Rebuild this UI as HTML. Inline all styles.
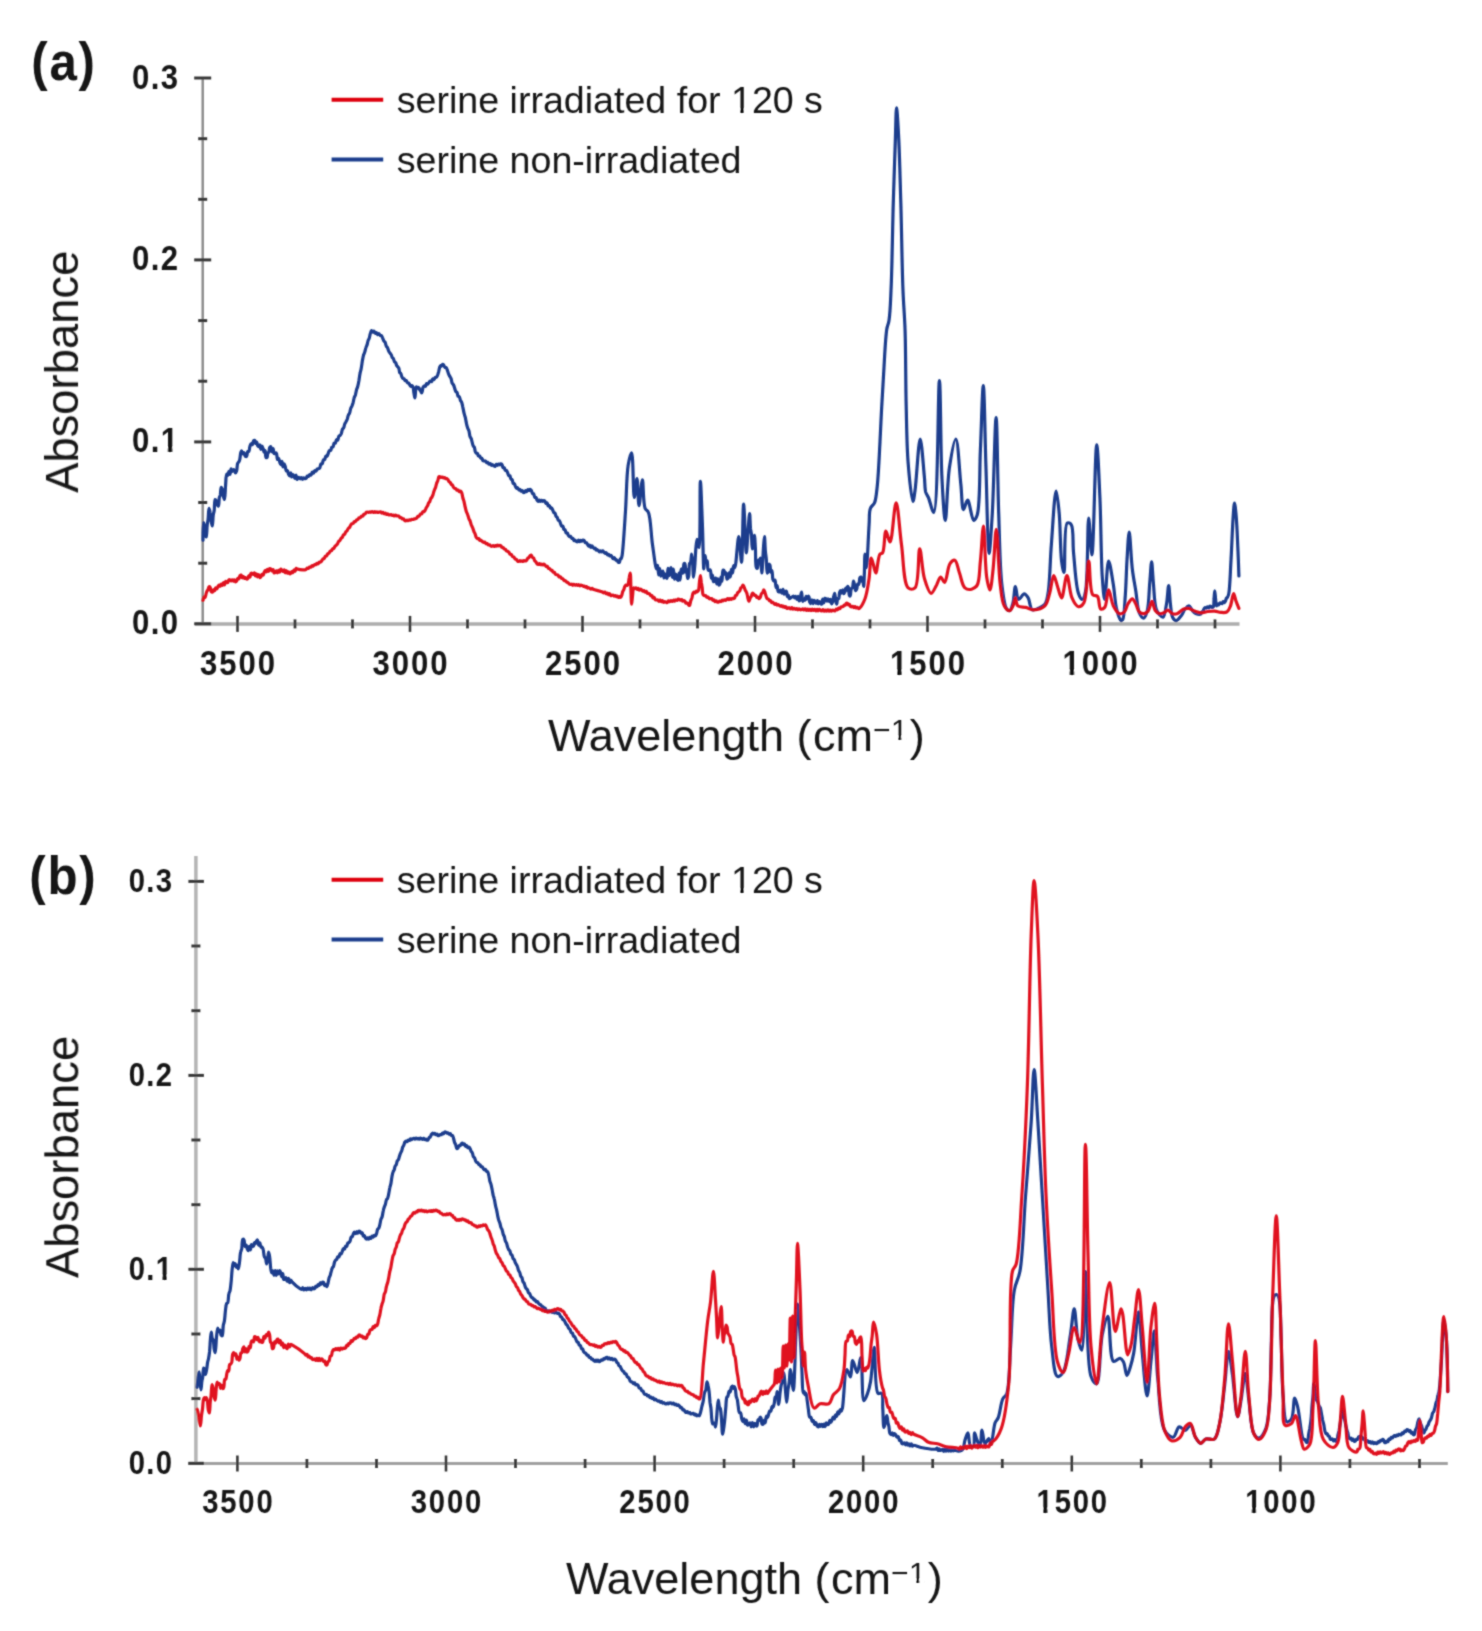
<!DOCTYPE html><html><head><meta charset="utf-8"><style>html,body{margin:0;padding:0;background:#fff;}svg{display:block}text{font-family:"Liberation Sans",sans-serif;fill:#141414}</style></head><body>
<svg width="1482" height="1631" viewBox="0 0 1482 1631">
<defs><filter id="soft" x="0" y="0" width="1482" height="1631" filterUnits="userSpaceOnUse"><feConvolveMatrix order="3" kernelMatrix="0.04 0.10 0.04 0.10 0.44 0.10 0.04 0.10 0.04" edgeMode="duplicate"/></filter></defs>
<rect width="1482" height="1631" fill="#fff"/>
<g filter="url(#soft)">
<line x1="202.7" y1="78" x2="202.7" y2="623.8" stroke="#8c8c8c" stroke-width="2.5"/>
<line x1="195" y1="623.9" x2="1239.5" y2="623.9" stroke="#adadad" stroke-width="3.5"/>
<line x1="194.2" y1="623.8" x2="211.2" y2="623.8" stroke="#383838" stroke-width="3"/>
<text transform="translate(140.63,634.30) scale(0.9,1)" font-size="34.5" font-weight="bold" text-anchor="middle">0</text><text transform="translate(155.02,634.30) scale(0.9,1)" font-size="34.5" font-weight="bold" text-anchor="middle">.</text><text transform="translate(169.41,634.30) scale(0.9,1)" font-size="34.5" font-weight="bold" text-anchor="middle">0</text>
<line x1="198.2" y1="563.2" x2="207.2" y2="563.2" stroke="#383838" stroke-width="3"/>
<line x1="198.2" y1="502.5" x2="207.2" y2="502.5" stroke="#383838" stroke-width="3"/>
<line x1="194.2" y1="441.9" x2="211.2" y2="441.9" stroke="#383838" stroke-width="3"/>
<text transform="translate(140.63,452.37) scale(0.9,1)" font-size="34.5" font-weight="bold" text-anchor="middle">0</text><text transform="translate(155.02,452.37) scale(0.9,1)" font-size="34.5" font-weight="bold" text-anchor="middle">.</text><text transform="translate(169.41,452.37) scale(0.9,1)" font-size="34.5" font-weight="bold" text-anchor="middle">1</text><rect x="160.78" y="447.54" width="6.94" height="6.55" fill="#fff"/><rect x="172.46" y="447.54" width="5.57" height="6.55" fill="#fff"/>
<line x1="198.2" y1="381.2" x2="207.2" y2="381.2" stroke="#383838" stroke-width="3"/>
<line x1="198.2" y1="320.6" x2="207.2" y2="320.6" stroke="#383838" stroke-width="3"/>
<line x1="194.2" y1="259.9" x2="211.2" y2="259.9" stroke="#383838" stroke-width="3"/>
<text transform="translate(140.63,270.44) scale(0.9,1)" font-size="34.5" font-weight="bold" text-anchor="middle">0</text><text transform="translate(155.02,270.44) scale(0.9,1)" font-size="34.5" font-weight="bold" text-anchor="middle">.</text><text transform="translate(169.41,270.44) scale(0.9,1)" font-size="34.5" font-weight="bold" text-anchor="middle">2</text>
<line x1="198.2" y1="199.3" x2="207.2" y2="199.3" stroke="#383838" stroke-width="3"/>
<line x1="198.2" y1="138.7" x2="207.2" y2="138.7" stroke="#383838" stroke-width="3"/>
<line x1="194.2" y1="78.0" x2="211.2" y2="78.0" stroke="#383838" stroke-width="3"/>
<text transform="translate(140.63,88.51) scale(0.9,1)" font-size="34.5" font-weight="bold" text-anchor="middle">0</text><text transform="translate(155.02,88.51) scale(0.9,1)" font-size="34.5" font-weight="bold" text-anchor="middle">.</text><text transform="translate(169.41,88.51) scale(0.9,1)" font-size="34.5" font-weight="bold" text-anchor="middle">3</text>
<line x1="237.5" y1="615.9" x2="237.5" y2="631.9" stroke="#383838" stroke-width="2.6"/>
<text transform="translate(208.72,675.00) scale(0.9,1)" font-size="34.5" font-weight="bold" text-anchor="middle">3</text><text transform="translate(227.91,675.00) scale(0.9,1)" font-size="34.5" font-weight="bold" text-anchor="middle">5</text><text transform="translate(247.09,675.00) scale(0.9,1)" font-size="34.5" font-weight="bold" text-anchor="middle">0</text><text transform="translate(266.28,675.00) scale(0.9,1)" font-size="34.5" font-weight="bold" text-anchor="middle">0</text>
<line x1="295.0" y1="619.4" x2="295.0" y2="628.4" stroke="#383838" stroke-width="2.8"/>
<line x1="352.5" y1="619.4" x2="352.5" y2="628.4" stroke="#383838" stroke-width="2.8"/>
<line x1="410.0" y1="615.9" x2="410.0" y2="631.9" stroke="#383838" stroke-width="2.6"/>
<text transform="translate(381.22,675.00) scale(0.9,1)" font-size="34.5" font-weight="bold" text-anchor="middle">3</text><text transform="translate(400.41,675.00) scale(0.9,1)" font-size="34.5" font-weight="bold" text-anchor="middle">0</text><text transform="translate(419.59,675.00) scale(0.9,1)" font-size="34.5" font-weight="bold" text-anchor="middle">0</text><text transform="translate(438.78,675.00) scale(0.9,1)" font-size="34.5" font-weight="bold" text-anchor="middle">0</text>
<line x1="467.5" y1="619.4" x2="467.5" y2="628.4" stroke="#383838" stroke-width="2.8"/>
<line x1="525.0" y1="619.4" x2="525.0" y2="628.4" stroke="#383838" stroke-width="2.8"/>
<line x1="582.5" y1="615.9" x2="582.5" y2="631.9" stroke="#383838" stroke-width="2.6"/>
<text transform="translate(553.72,675.00) scale(0.9,1)" font-size="34.5" font-weight="bold" text-anchor="middle">2</text><text transform="translate(572.91,675.00) scale(0.9,1)" font-size="34.5" font-weight="bold" text-anchor="middle">5</text><text transform="translate(592.09,675.00) scale(0.9,1)" font-size="34.5" font-weight="bold" text-anchor="middle">0</text><text transform="translate(611.28,675.00) scale(0.9,1)" font-size="34.5" font-weight="bold" text-anchor="middle">0</text>
<line x1="640.0" y1="619.4" x2="640.0" y2="628.4" stroke="#383838" stroke-width="2.8"/>
<line x1="697.5" y1="619.4" x2="697.5" y2="628.4" stroke="#383838" stroke-width="2.8"/>
<line x1="755.0" y1="615.9" x2="755.0" y2="631.9" stroke="#383838" stroke-width="2.6"/>
<text transform="translate(726.22,675.00) scale(0.9,1)" font-size="34.5" font-weight="bold" text-anchor="middle">2</text><text transform="translate(745.41,675.00) scale(0.9,1)" font-size="34.5" font-weight="bold" text-anchor="middle">0</text><text transform="translate(764.59,675.00) scale(0.9,1)" font-size="34.5" font-weight="bold" text-anchor="middle">0</text><text transform="translate(783.78,675.00) scale(0.9,1)" font-size="34.5" font-weight="bold" text-anchor="middle">0</text>
<line x1="812.5" y1="619.4" x2="812.5" y2="628.4" stroke="#383838" stroke-width="2.8"/>
<line x1="870.0" y1="619.4" x2="870.0" y2="628.4" stroke="#383838" stroke-width="2.8"/>
<line x1="927.5" y1="615.9" x2="927.5" y2="631.9" stroke="#383838" stroke-width="2.6"/>
<text transform="translate(898.72,675.00) scale(0.9,1)" font-size="34.5" font-weight="bold" text-anchor="middle">1</text><rect x="890.09" y="670.17" width="6.94" height="6.55" fill="#fff"/><rect x="901.77" y="670.17" width="5.57" height="6.55" fill="#fff"/><text transform="translate(917.91,675.00) scale(0.9,1)" font-size="34.5" font-weight="bold" text-anchor="middle">5</text><text transform="translate(937.09,675.00) scale(0.9,1)" font-size="34.5" font-weight="bold" text-anchor="middle">0</text><text transform="translate(956.28,675.00) scale(0.9,1)" font-size="34.5" font-weight="bold" text-anchor="middle">0</text>
<line x1="985.0" y1="619.4" x2="985.0" y2="628.4" stroke="#383838" stroke-width="2.8"/>
<line x1="1042.5" y1="619.4" x2="1042.5" y2="628.4" stroke="#383838" stroke-width="2.8"/>
<line x1="1100.0" y1="615.9" x2="1100.0" y2="631.9" stroke="#383838" stroke-width="2.6"/>
<text transform="translate(1071.22,675.00) scale(0.9,1)" font-size="34.5" font-weight="bold" text-anchor="middle">1</text><rect x="1062.59" y="670.17" width="6.94" height="6.55" fill="#fff"/><rect x="1074.27" y="670.17" width="5.57" height="6.55" fill="#fff"/><text transform="translate(1090.41,675.00) scale(0.9,1)" font-size="34.5" font-weight="bold" text-anchor="middle">0</text><text transform="translate(1109.59,675.00) scale(0.9,1)" font-size="34.5" font-weight="bold" text-anchor="middle">0</text><text transform="translate(1128.78,675.00) scale(0.9,1)" font-size="34.5" font-weight="bold" text-anchor="middle">0</text>
<line x1="1157.5" y1="619.4" x2="1157.5" y2="628.4" stroke="#383838" stroke-width="2.8"/>
<line x1="1215.0" y1="619.4" x2="1215.0" y2="628.4" stroke="#383838" stroke-width="2.8"/>
<text transform="translate(39.52,79.50) scale(0.93,1)" font-size="53" font-weight="bold" text-anchor="middle">(</text><text transform="translate(63.08,79.50) scale(0.93,1)" font-size="53" font-weight="bold" text-anchor="middle">a</text><text transform="translate(86.64,79.50) scale(0.93,1)" font-size="53" font-weight="bold" text-anchor="middle">)</text>
<text transform="translate(78,371.8) rotate(-90)" font-size="45.4" text-anchor="middle">Absorbance</text>
<text x="548" y="750.9" font-size="45">Wavelength (<tspan dx="1.5">cm</tspan><tspan font-size="30" dx="0" dy="-11">−</tspan><tspan font-size="30" dx="0.5">1</tspan><tspan dx="2" dy="11">)</tspan></text>
<line x1="331.6" y1="99.8" x2="383.2" y2="99.8" stroke="#de0411" stroke-width="4"/>
<line x1="331.6" y1="159.5" x2="383.2" y2="159.5" stroke="#1b3d8d" stroke-width="4"/>
<text x="396.8" y="113.39999999999999" font-size="37.6">serine irradiated for 120 s</text>
<text x="396.8" y="173.1" font-size="37.6">serine non-irradiated</text>
<rect x="732.47" y="108.89" width="7.55" height="6.02" fill="#fff"/><rect x="743.92" y="108.89" width="6.98" height="6.02" fill="#fff"/>
<rect x="892.18" y="736.30" width="5.95" height="4.80" fill="#fff"/><rect x="901.38" y="736.30" width="5.50" height="4.80" fill="#fff"/>
<path d="M203.0,540.3 C203.0,540.3 203.0,522.7 203.5,522.6 C203.7,522.6 204.2,524.8 204.4,526.3 C204.8,528.5 204.9,532.5 205.4,534.5 C205.6,535.6 206.0,537.0 206.3,537.0 C206.8,536.9 206.8,528.6 207.2,525.3 C207.5,522.9 207.8,521.5 208.1,519.2 C208.5,516.1 208.5,508.3 209.0,508.3 C209.3,508.3 209.8,510.8 210.1,512.5 C210.6,515.0 210.7,519.2 211.2,521.7 C211.5,523.4 212.0,526.0 212.3,526.0 C212.8,526.0 212.8,518.1 213.2,515.2 C213.5,513.3 213.9,512.4 214.2,510.5 C214.6,507.6 214.3,499.8 215.1,499.5 C215.4,499.4 215.9,500.1 216.2,500.7 C216.7,501.6 216.8,503.9 217.3,504.8 C217.6,505.4 218.1,506.2 218.4,506.1 C219.1,505.9 218.9,499.6 219.3,497.6 C219.6,496.5 220.0,496.2 220.3,495.1 C220.7,493.3 220.6,487.4 221.2,487.3 C221.5,487.2 222.0,488.4 222.3,489.3 C222.9,490.8 222.9,494.4 223.4,496.3 C223.7,497.6 224.2,499.5 224.5,499.5 C225.1,499.4 225.2,489.7 225.6,485.2 C225.9,481.3 225.9,474.3 226.7,474.1 C227.0,474.0 227.5,475.5 227.8,475.4 C228.3,475.3 228.5,471.4 228.9,471.4 C229.2,471.4 229.7,474.3 230.0,474.3 C230.4,474.3 230.6,468.9 231.1,468.8 C231.4,468.8 231.8,471.3 232.2,471.4 C232.5,471.4 232.9,469.8 233.3,469.7 C233.6,469.6 234.1,470.0 234.4,470.4 C234.9,471.0 235.1,473.0 235.5,473.0 C235.8,473.0 236.3,472.0 236.6,471.1 C237.2,469.3 237.0,464.7 237.7,463.2 C238.0,462.5 238.5,462.4 238.8,461.9 C239.2,461.3 239.5,460.7 239.7,459.7 C240.2,458.2 240.2,454.9 240.7,453.3 C240.9,452.3 241.3,450.9 241.6,450.9 C242.0,450.9 242.3,453.7 242.8,453.8 C243.2,453.9 243.7,452.6 244.1,452.7 C244.6,452.9 244.7,455.8 245.3,456.3 C245.7,456.5 246.3,456.6 246.6,456.4 C247.3,455.9 247.1,452.0 247.7,451.5 C248.0,451.3 248.5,451.7 248.8,451.5 C249.5,450.9 249.4,447.9 249.9,446.5 C250.3,445.4 250.6,443.8 251.1,443.7 C251.5,443.6 252.0,444.8 252.4,444.7 C252.9,444.5 252.9,441.3 253.6,440.7 C253.9,440.4 254.5,440.2 254.8,440.4 C255.3,440.7 255.4,443.5 255.8,443.5 C256.1,443.6 256.5,442.1 256.8,442.1 C257.2,442.2 257.2,445.2 257.7,445.9 C258.0,446.3 258.4,446.6 258.7,446.5 C259.1,446.4 259.5,444.8 259.8,444.8 C260.3,444.9 260.5,449.4 260.9,449.4 C261.2,449.4 261.6,446.2 262.0,446.2 C262.3,446.2 262.8,447.8 263.1,448.7 C263.5,449.7 263.7,452.0 264.1,452.1 C264.4,452.1 264.8,450.6 265.1,450.6 C265.6,450.7 265.3,457.0 266.0,457.6 C266.3,457.8 266.7,457.7 267.0,457.5 C267.6,457.0 267.4,454.0 267.9,453.1 C268.2,452.7 268.5,452.8 268.8,452.3 C269.3,451.4 269.2,448.5 269.7,447.6 C270.0,447.1 270.5,446.5 270.8,446.7 C271.4,446.9 271.5,451.8 271.9,451.8 C272.3,451.8 272.7,448.5 273.1,448.5 C273.5,448.5 273.5,453.2 274.2,453.6 C274.5,453.7 274.9,453.2 275.3,453.1 C275.7,453.0 276.1,452.8 276.4,453.1 C277.1,453.7 276.9,459.3 277.5,459.5 C277.8,459.6 278.3,458.3 278.6,458.3 C279.1,458.4 279.3,460.8 279.7,461.9 C280.0,462.9 280.4,464.6 280.8,464.6 C281.2,464.6 281.6,461.4 281.9,461.4 C282.3,461.4 282.6,466.8 283.0,466.9 C283.3,466.9 283.7,463.8 284.1,463.8 C284.5,463.8 284.9,465.4 285.2,466.4 C285.6,467.7 285.7,470.4 286.3,470.8 C286.6,471.0 287.1,470.4 287.4,470.6 C288.0,470.9 288.1,473.2 288.5,474.1 C288.8,474.8 289.3,475.8 289.6,475.8 C290.0,475.8 290.4,472.8 290.7,472.8 C291.1,472.8 291.4,476.9 291.8,477.0 C292.1,477.0 292.5,474.7 292.9,474.7 C293.2,474.7 293.7,475.7 294.0,476.3 C294.4,477.0 294.7,478.5 295.0,478.5 C295.4,478.5 295.7,475.1 296.0,475.1 C296.4,475.1 296.6,479.5 297.0,479.5 C297.3,479.6 297.6,478.3 298.0,478.0 C298.3,477.7 298.8,477.4 299.1,477.5 C299.5,477.6 299.9,478.8 300.3,478.8 C300.6,478.8 301.0,477.6 301.4,477.6 C301.8,477.6 302.1,479.2 302.5,479.3 C302.9,479.3 303.3,477.9 303.7,477.8 C304.0,477.8 304.4,478.5 304.8,478.6 C305.2,478.7 305.7,478.7 306.0,478.4 C306.6,478.1 306.8,476.2 307.3,476.0 C307.7,475.9 308.2,476.5 308.5,476.4 C309.0,476.2 309.3,474.7 309.8,474.6 C310.2,474.5 310.7,475.3 311.0,475.1 C311.6,474.9 311.8,472.2 312.3,472.1 C312.6,472.0 313.1,473.3 313.5,473.2 C314.0,473.2 314.2,471.0 314.8,470.7 C315.1,470.6 315.6,471.3 316.0,471.1 C316.5,470.9 316.7,469.2 317.3,468.9 C317.6,468.6 318.1,468.9 318.5,468.8 C318.9,468.7 319.4,468.5 319.7,468.0 C320.3,467.2 320.3,464.4 320.9,463.9 C321.3,463.6 321.8,464.0 322.2,463.8 C322.8,463.3 322.8,460.4 323.4,459.9 C323.7,459.5 324.3,459.9 324.6,459.6 C325.2,459.1 325.3,456.6 325.9,456.2 C326.2,456.0 326.7,456.5 327.1,456.2 C327.7,455.8 327.9,454.1 328.3,453.1 C328.7,452.2 329.0,450.8 329.5,450.5 C329.8,450.2 330.3,450.6 330.7,450.4 C331.2,449.9 331.3,447.7 331.8,447.2 C332.2,446.9 332.7,447.2 333.0,446.9 C333.6,446.3 333.6,443.6 334.2,443.1 C334.5,442.9 335.0,443.2 335.4,443.0 C335.9,442.5 336.0,440.0 336.6,439.7 C336.9,439.6 337.4,440.3 337.7,440.1 C338.3,439.7 338.3,436.9 338.9,436.1 C339.3,435.7 339.7,435.8 340.1,435.5 C340.6,435.1 340.9,434.4 341.3,433.6 C341.8,432.4 341.9,430.1 342.5,429.1 C342.8,428.6 343.3,428.5 343.6,428.0 C344.2,427.0 344.3,424.9 344.8,423.8 C345.2,423.0 345.6,422.5 346.0,421.8 C346.4,421.0 346.8,420.2 347.2,419.3 C347.6,418.1 347.9,416.2 348.4,415.1 C348.7,414.4 349.2,414.1 349.5,413.3 C350.1,412.1 350.2,409.8 350.7,408.5 C351.1,407.6 351.5,407.0 351.9,406.1 C352.3,405.1 352.7,403.9 353.1,402.7 C353.5,401.1 353.8,399.0 354.2,397.6 C354.6,396.6 355.0,396.0 355.4,395.0 C355.8,393.6 356.1,391.4 356.5,389.8 C356.9,388.6 357.3,387.8 357.7,386.5 C358.2,384.9 358.5,382.8 358.9,380.8 C359.3,378.5 359.6,375.5 360.1,373.2 C360.4,371.4 360.9,370.2 361.2,368.4 C361.7,366.1 362.0,363.0 362.4,360.6 C362.8,358.6 363.1,356.6 363.6,355.1 C363.9,354.0 364.4,353.3 364.7,352.2 C365.2,350.9 365.4,349.0 365.9,347.7 C366.2,346.7 366.6,346.1 367.0,345.1 C367.4,343.8 367.7,341.9 368.1,340.6 C368.4,339.7 368.9,339.3 369.2,338.3 C369.7,337.0 369.9,334.6 370.4,333.2 C370.7,332.2 371.1,330.7 371.5,330.6 C371.9,330.5 372.3,332.1 372.7,332.1 C373.1,332.1 373.6,330.9 373.9,331.0 C374.4,331.0 374.7,333.2 375.2,333.3 C375.5,333.4 376.0,332.4 376.4,332.5 C376.9,332.6 377.2,334.5 377.6,334.6 C378.0,334.6 378.5,333.4 378.9,333.5 C379.3,333.5 379.6,335.0 380.1,335.3 C380.4,335.5 380.9,335.2 381.3,335.5 C381.8,335.9 382.2,336.8 382.5,337.7 C383.0,338.6 383.3,340.1 383.8,340.9 C384.2,341.5 384.7,341.6 385.0,342.2 C385.6,343.1 385.8,345.1 386.3,346.1 C386.6,346.8 387.1,347.0 387.5,347.7 C388.0,348.6 388.3,350.4 388.8,351.3 C389.1,352.1 389.6,352.6 390.0,353.1 C390.4,353.6 390.8,353.9 391.1,354.5 C391.6,355.3 391.8,356.7 392.2,357.4 C392.6,357.9 393.0,358.0 393.3,358.6 C393.8,359.3 394.0,361.0 394.5,361.7 C394.8,362.1 395.3,362.1 395.6,362.5 C396.1,363.1 396.2,364.7 396.7,365.5 C397.0,366.1 397.4,366.4 397.8,366.9 C398.1,367.3 398.5,367.5 398.8,368.1 C399.3,369.1 399.2,372.0 399.8,372.8 C400.1,373.2 400.5,373.0 400.8,373.4 C401.3,374.0 401.4,375.8 401.8,376.7 C402.1,377.4 402.5,378.2 402.9,378.5 C403.2,378.7 403.7,378.4 404.0,378.6 C404.5,378.9 404.7,380.4 405.1,380.6 C405.5,380.8 405.9,380.4 406.3,380.5 C406.7,380.8 406.9,382.4 407.4,382.7 C407.7,383.0 408.2,382.8 408.5,383.0 C408.9,383.2 409.2,384.0 409.6,384.5 C410.0,385.1 410.3,386.2 410.7,386.3 C411.1,386.3 411.5,385.4 411.9,385.5 C412.3,385.6 412.7,386.3 413.0,387.0 C413.5,388.3 413.6,391.1 413.9,393.0 C414.3,394.7 414.6,398.0 414.9,398.0 C415.2,398.0 415.3,393.7 415.5,391.8 C415.8,390.1 415.8,387.1 416.2,387.0 C416.4,386.9 416.8,388.2 417.1,388.2 C417.4,388.2 417.7,387.3 418.1,387.3 C418.4,387.3 418.7,387.7 419.0,388.0 C419.4,388.5 419.5,389.5 419.9,390.0 C420.1,390.4 420.5,390.5 420.7,390.9 C421.1,391.4 421.3,393.0 421.6,393.0 C421.9,393.0 422.1,391.8 422.3,391.1 C422.6,390.1 422.6,388.4 423.0,387.5 C423.3,386.9 423.7,386.2 424.2,386.0 C424.6,385.9 425.1,386.4 425.4,386.3 C425.9,386.0 426.1,383.9 426.6,383.6 C426.9,383.5 427.4,384.2 427.8,384.1 C428.3,384.0 428.6,382.9 429.0,382.4 C429.4,381.9 429.8,381.1 430.2,381.0 C430.6,381.0 431.1,381.8 431.5,381.7 C432.0,381.5 432.2,379.1 432.7,378.9 C433.1,378.8 433.6,379.7 433.9,379.6 C434.4,379.5 434.7,378.0 435.2,377.6 C435.5,377.3 436.0,377.5 436.4,377.2 C436.9,376.8 437.2,376.1 437.5,375.4 C437.9,374.4 438.2,373.2 438.6,372.0 C439.0,370.5 439.3,368.1 439.8,367.0 C440.1,366.3 440.3,365.6 440.7,365.6 C440.9,365.5 441.3,366.1 441.5,366.1 C441.9,366.0 442.0,364.6 442.4,364.5 C442.7,364.4 443.3,364.6 443.6,364.9 C444.1,365.4 444.3,366.9 444.9,367.3 C445.2,367.5 445.7,367.2 446.1,367.5 C446.6,367.9 447.0,369.1 447.3,370.1 C447.8,371.2 448.1,372.8 448.6,374.0 C448.9,374.9 449.4,375.6 449.8,376.4 C450.2,377.1 450.7,377.6 451.0,378.4 C451.5,379.7 451.7,382.2 452.2,383.3 C452.6,384.0 453.1,384.2 453.5,384.9 C454.0,385.8 454.3,387.2 454.7,388.4 C455.1,389.5 455.3,390.9 455.9,391.6 C456.2,392.0 456.7,392.0 457.0,392.4 C457.5,393.2 457.6,395.6 458.1,396.3 C458.5,396.6 459.0,396.4 459.3,396.8 C459.9,397.4 460.0,399.5 460.5,400.5 C460.8,401.2 461.3,401.5 461.6,402.2 C462.1,403.4 462.4,405.3 462.8,407.1 C463.3,409.0 463.6,411.5 464.1,413.3 C464.4,414.8 464.9,415.9 465.3,417.4 C465.7,419.3 466.1,421.8 466.5,423.7 C466.9,425.3 467.2,426.7 467.7,428.0 C468.0,429.0 468.5,429.6 468.9,430.7 C469.4,432.2 469.5,435.0 470.0,436.4 C470.4,437.4 470.9,437.8 471.2,438.7 C471.7,439.9 472.0,441.9 472.4,443.3 C472.7,444.4 473.0,445.5 473.4,446.2 C473.7,446.7 474.1,446.8 474.4,447.3 C474.8,448.2 474.9,450.6 475.3,451.6 C475.6,452.3 475.9,452.8 476.3,453.1 C476.6,453.3 477.1,453.1 477.4,453.4 C477.9,453.9 478.0,455.7 478.5,456.0 C478.8,456.2 479.3,455.7 479.6,455.9 C480.1,456.2 480.3,457.9 480.8,458.2 C481.1,458.4 481.6,458.0 481.9,458.3 C482.4,458.6 482.5,460.2 483.0,460.7 C483.3,460.9 483.7,460.9 484.1,461.0 C484.5,461.1 485.0,460.8 485.3,461.0 C485.8,461.2 486.1,462.5 486.6,462.7 C486.9,462.8 487.4,462.3 487.8,462.4 C488.3,462.6 488.5,464.1 489.0,464.2 C489.4,464.3 489.9,463.4 490.2,463.5 C490.7,463.6 491.0,465.2 491.4,465.3 C491.8,465.4 492.3,464.7 492.7,464.7 C493.1,464.8 493.5,465.6 493.9,465.9 C494.3,466.2 494.7,466.6 495.0,466.5 C495.5,466.3 495.8,464.4 496.2,464.3 C496.5,464.2 497.0,465.3 497.4,465.3 C497.7,465.2 498.1,464.1 498.5,464.1 C498.9,464.0 499.3,464.8 499.6,464.8 C500.0,464.8 500.4,464.0 500.8,463.9 C501.2,463.9 501.6,464.0 501.9,464.4 C502.5,465.0 502.5,467.3 503.1,467.7 C503.4,467.9 503.9,467.5 504.2,467.7 C504.7,468.1 504.8,469.9 505.3,470.3 C505.7,470.5 506.1,470.2 506.5,470.4 C507.0,470.8 507.2,471.9 507.6,472.7 C508.0,473.6 508.2,475.2 508.7,475.6 C509.0,475.8 509.5,475.4 509.9,475.7 C510.4,476.2 510.4,478.6 511.0,479.2 C511.3,479.5 511.8,479.3 512.1,479.7 C512.7,480.3 512.7,482.7 513.2,483.4 C513.6,483.7 514.0,483.5 514.4,483.9 C514.9,484.4 515.1,485.7 515.5,486.5 C515.9,487.2 516.2,488.2 516.6,488.3 C516.9,488.4 517.4,487.6 517.7,487.7 C518.2,487.8 518.4,489.7 518.8,489.9 C519.2,490.0 519.6,489.4 520.0,489.5 C520.4,489.6 520.6,491.1 521.1,491.2 C521.4,491.3 521.9,490.5 522.2,490.6 C522.6,490.7 522.8,492.2 523.3,492.4 C523.6,492.6 524.1,492.6 524.4,492.4 C524.9,492.1 525.2,490.6 525.6,490.6 C526.0,490.5 526.4,491.7 526.8,491.6 C527.2,491.6 527.5,489.6 527.9,489.5 C528.2,489.4 528.7,490.5 529.1,490.5 C529.4,490.5 529.8,489.4 530.2,489.4 C530.6,489.4 531.0,490.1 531.4,490.6 C531.8,491.4 532.0,493.1 532.5,493.5 C532.8,493.8 533.3,493.6 533.7,493.9 C534.2,494.4 534.2,496.9 534.8,497.3 C535.1,497.6 535.6,497.2 536.0,497.4 C536.5,497.8 536.6,499.5 537.1,500.2 C537.4,500.7 537.8,501.3 538.2,501.3 C538.6,501.3 539.0,500.0 539.3,500.0 C539.7,500.1 540.1,501.3 540.4,501.3 C540.8,501.4 541.2,500.4 541.6,500.4 C541.9,500.3 542.3,501.3 542.7,501.3 C543.0,501.3 543.4,500.7 543.8,500.7 C544.2,500.6 544.6,500.9 544.9,501.2 C545.4,501.6 545.6,503.2 546.0,503.4 C546.3,503.5 546.8,502.7 547.1,502.9 C547.6,503.1 547.7,505.6 548.2,505.9 C548.6,506.0 549.0,505.5 549.4,505.7 C549.9,505.9 550.0,508.0 550.5,508.2 C550.8,508.4 551.3,507.8 551.6,507.9 C552.1,508.1 552.3,509.3 552.7,510.0 C553.1,510.8 553.3,512.0 553.8,512.6 C554.2,512.9 554.6,512.8 555.0,513.2 C555.5,513.8 555.6,515.6 556.1,516.4 C556.4,516.9 556.9,516.9 557.2,517.4 C557.7,518.1 557.8,519.8 558.3,520.3 C558.7,520.6 559.1,520.5 559.5,520.8 C560.0,521.3 560.2,522.8 560.6,523.7 C561.0,524.5 561.2,525.8 561.7,526.1 C562.0,526.3 562.5,525.9 562.8,526.1 C563.4,526.5 563.4,528.8 563.9,529.4 C564.3,529.8 564.7,529.6 565.1,529.9 C565.6,530.5 565.6,532.6 566.2,533.0 C566.5,533.2 567.0,532.7 567.3,532.9 C567.8,533.2 568.0,534.8 568.4,535.5 C568.7,536.0 569.1,536.6 569.5,536.7 C569.9,536.8 570.3,536.3 570.7,536.4 C571.1,536.6 571.3,538.2 571.8,538.4 C572.1,538.6 572.6,538.2 572.9,538.4 C573.4,538.7 573.6,540.5 574.0,540.6 C574.4,540.8 574.8,540.1 575.2,540.2 C575.6,540.3 575.9,541.1 576.3,541.4 C576.6,541.6 577.1,541.9 577.4,541.8 C577.8,541.6 578.2,540.1 578.5,540.1 C578.9,540.1 579.3,541.6 579.6,541.6 C580.0,541.6 580.4,540.4 580.8,540.4 C581.1,540.4 581.5,541.2 581.9,541.1 C582.3,541.1 582.6,540.1 583.0,540.0 C583.3,540.0 583.8,540.1 584.1,540.4 C584.6,540.8 584.8,542.3 585.3,542.7 C585.6,542.9 586.1,542.6 586.5,542.8 C587.0,543.2 587.3,544.1 587.7,544.7 C588.1,545.2 588.4,546.1 588.8,546.2 C589.1,546.2 589.5,545.1 589.9,545.2 C590.3,545.3 590.5,547.3 590.9,547.3 C591.3,547.3 591.7,545.9 592.0,545.9 C592.4,545.9 592.7,546.9 593.1,547.4 C593.5,547.8 593.8,548.5 594.2,548.6 C594.5,548.7 594.9,548.1 595.3,548.2 C595.7,548.4 595.9,549.9 596.3,550.1 C596.7,550.2 597.1,549.6 597.4,549.7 C597.8,549.8 598.1,550.4 598.5,550.8 C598.9,551.2 599.2,551.8 599.6,551.8 C599.9,551.8 600.3,550.9 600.7,550.9 C601.0,551.0 601.4,551.9 601.7,551.9 C602.1,551.9 602.5,550.8 602.8,550.9 C603.2,550.9 603.5,551.7 603.9,552.1 C604.3,552.5 604.6,553.3 605.1,553.3 C605.4,553.4 605.9,552.6 606.2,552.7 C606.7,552.9 606.9,554.6 607.4,554.8 C607.7,554.9 608.2,554.2 608.5,554.3 C609.0,554.4 609.3,555.8 609.7,555.9 C610.0,556.0 610.5,555.2 610.8,555.3 C611.3,555.4 611.6,556.3 612.0,556.9 C612.4,557.5 612.8,558.7 613.2,558.8 C613.6,558.8 614.1,557.7 614.5,557.7 C614.9,557.8 615.2,559.7 615.7,560.0 C616.1,560.2 616.6,559.8 616.9,560.0 C617.4,560.3 617.7,561.8 618.2,562.2 C618.5,562.4 619.1,562.5 619.4,562.3 C619.9,561.9 619.9,559.7 620.3,559.0 C620.6,558.7 620.9,558.8 621.2,558.5 C621.6,557.9 621.8,557.1 622.1,555.5 C623.2,549.4 624.5,526.0 625.5,511.0 C626.5,495.8 626.5,475.4 628.2,465.1 C629.1,459.7 630.7,452.8 631.6,452.9 C633.3,453.1 633.1,497.5 634.3,497.5 C635.1,497.5 636.3,478.6 637.0,478.6 C637.9,478.6 638.1,505.6 639.0,505.6 C639.9,505.6 641.4,479.9 642.4,479.9 C643.4,479.9 643.0,503.3 645.1,508.3 C646.0,510.4 647.5,510.1 648.4,512.3 C650.8,517.8 651.0,534.7 652.5,544.7 C653.8,553.4 655.5,568.9 656.5,569.0 C656.9,569.0 657.3,565.4 657.6,565.4 C658.1,565.5 658.3,574.9 658.7,574.9 C659.0,574.9 659.4,568.5 659.7,568.5 C660.1,568.6 660.3,576.0 660.8,576.1 C661.1,576.1 661.5,573.9 661.9,573.0 C662.2,572.3 662.6,571.0 662.9,571.0 C663.4,571.1 663.6,577.8 664.0,577.9 C664.3,577.9 664.6,573.9 665.0,573.9 C665.3,573.9 665.6,576.3 666.0,577.1 C666.3,577.6 666.7,578.4 667.0,578.4 C667.7,578.1 667.6,568.3 668.0,568.3 C668.3,568.3 668.6,575.6 669.0,575.6 C669.3,575.6 669.6,571.9 670.0,570.4 C670.3,569.3 670.8,567.4 671.1,567.5 C671.7,567.5 671.9,577.3 672.3,577.3 C672.6,577.3 673.0,569.1 673.4,569.1 C673.8,569.1 674.1,579.0 674.5,579.1 C674.9,579.1 675.3,574.1 675.7,574.0 C676.0,574.0 676.3,577.2 676.8,578.4 C677.1,579.2 677.6,580.5 677.9,580.4 C678.4,580.3 678.6,573.2 679.0,573.2 C679.3,573.2 679.7,580.1 680.0,580.1 C680.5,580.1 680.6,569.0 681.1,569.0 C681.4,568.9 681.6,572.6 682.2,573.0 C682.5,573.2 682.8,573.1 683.1,572.9 C683.9,572.0 683.2,564.4 684.0,563.6 C684.3,563.4 684.6,563.4 684.9,563.6 C685.7,564.3 685.4,572.4 685.8,572.4 C686.1,572.4 686.4,569.4 686.7,569.5 C687.1,569.5 687.1,578.3 687.6,578.4 C687.9,578.5 688.3,577.4 688.6,576.4 C689.3,574.0 688.8,565.5 689.6,563.5 C689.9,562.8 690.3,562.9 690.6,562.2 C691.2,560.8 691.3,554.2 691.6,554.2 C691.9,554.2 692.3,559.6 692.6,562.9 C693.0,567.0 693.2,577.1 693.6,577.1 C693.9,577.1 694.4,570.7 694.7,566.7 C695.2,561.4 695.4,553.0 695.9,548.0 C696.2,544.5 696.6,539.3 697.0,539.3 C697.3,539.3 697.5,544.1 698.0,545.5 C698.3,546.4 698.7,547.5 699.0,547.4 C700.6,547.0 699.7,481.3 700.4,481.3 C700.9,481.3 701.8,510.0 702.4,524.5 C703.0,539.2 703.3,569.0 703.8,569.0 C704.0,569.0 704.2,563.1 704.5,560.7 C704.6,558.7 704.8,555.5 705.1,555.5 C705.4,555.5 705.6,562.1 706.1,562.3 C706.4,562.3 706.9,560.7 707.2,560.8 C707.8,561.0 707.3,569.2 708.2,570.1 C708.5,570.5 708.9,570.4 709.2,570.4 C709.6,570.4 710.0,569.7 710.3,569.9 C711.1,570.3 710.9,578.3 711.4,578.3 C711.7,578.4 712.1,575.0 712.4,575.0 C712.9,575.1 712.8,581.3 713.5,581.7 C713.8,581.8 714.3,581.5 714.6,581.1 C715.1,580.5 715.4,578.1 715.7,578.2 C716.1,578.2 716.4,583.8 716.8,583.8 C717.1,583.8 717.5,578.8 717.8,578.9 C718.2,578.9 718.3,585.0 718.9,585.1 C719.2,585.2 719.7,584.5 720.0,583.8 C720.6,582.5 720.6,577.1 721.0,577.0 C721.3,577.0 721.7,581.1 722.0,581.1 C722.5,581.0 722.1,570.9 723.0,570.2 C723.3,570.0 723.7,570.1 724.0,570.4 C724.6,570.9 724.6,574.6 725.0,574.6 C725.3,574.7 725.7,572.7 726.0,572.7 C726.5,572.8 726.4,578.9 727.0,579.1 C727.3,579.3 727.7,578.8 728.0,578.4 C728.6,577.4 728.7,572.8 729.1,572.8 C729.5,572.8 729.9,577.0 730.3,577.0 C730.7,577.0 730.9,569.4 731.4,569.3 C731.7,569.3 732.2,573.1 732.5,573.0 C733.0,573.0 733.1,565.8 733.7,565.7 C734.0,565.7 734.4,567.8 734.8,567.7 C736.2,567.4 737.6,536.6 738.8,536.6 C739.8,536.6 740.8,562.3 741.5,562.3 C742.6,562.3 742.8,504.2 743.6,504.2 C744.4,504.2 745.5,552.8 746.3,552.8 C746.7,552.8 747.1,545.3 747.4,541.1 C747.8,536.1 748.1,529.7 748.5,524.8 C748.8,520.7 749.3,513.7 749.6,513.7 C750.0,513.7 750.1,524.9 750.5,528.7 C750.8,530.9 751.1,531.8 751.4,534.0 C751.8,537.7 751.7,548.7 752.3,548.8 C752.6,548.8 753.1,546.8 753.3,545.3 C753.8,542.9 754.1,535.3 754.4,535.3 C754.8,535.3 755.1,543.6 755.4,548.4 C755.8,554.2 755.2,565.8 756.4,567.7 C756.7,568.2 757.1,568.4 757.4,568.2 C758.1,567.9 757.9,560.2 758.4,560.2 C758.7,560.1 759.1,562.2 759.4,562.2 C759.8,562.2 760.1,558.2 760.4,558.2 C760.7,558.2 760.9,561.4 761.1,563.4 C761.4,566.1 761.5,573.0 761.8,573.0 C762.1,573.0 762.4,566.4 762.7,562.5 C763.0,557.6 763.2,550.6 763.6,545.9 C763.9,542.3 764.2,536.6 764.5,536.6 C764.8,536.6 765.0,547.3 765.4,551.5 C765.7,554.4 766.0,556.2 766.3,559.1 C766.7,563.0 766.5,572.8 767.2,573.0 C767.4,573.1 767.9,572.4 768.1,571.7 C768.6,570.3 768.4,564.5 769.0,564.2 C769.2,564.2 769.6,564.5 769.9,565.0 C770.5,566.1 770.3,572.0 770.9,572.1 C771.2,572.2 771.6,570.5 771.9,570.6 C772.5,570.7 772.3,577.8 772.9,579.5 C773.2,580.3 773.5,581.1 773.9,581.1 C774.2,581.1 774.7,580.0 775.0,580.1 C775.7,580.3 775.5,587.6 776.1,587.7 C776.4,587.7 776.8,585.4 777.1,585.5 C777.6,585.5 777.5,591.0 778.2,591.7 C778.5,592.0 779.0,592.0 779.3,591.9 C779.8,591.7 780.1,590.1 780.5,590.1 C781.0,590.2 781.4,593.2 781.7,593.2 C782.2,593.2 782.6,589.3 783.0,589.3 C783.4,589.3 783.7,594.1 784.2,594.2 C784.5,594.2 785.0,592.5 785.4,592.0 C785.7,591.6 786.1,591.1 786.4,591.2 C787.0,591.4 786.9,596.6 787.4,596.7 C787.7,596.8 788.1,595.0 788.4,595.0 C788.8,595.0 788.7,598.4 789.4,598.7 C790.2,599.0 792.6,595.8 793.5,596.0 C794.1,596.1 794.2,597.8 794.6,597.8 C795.0,597.8 795.4,596.2 795.7,596.3 C796.2,596.3 796.5,599.3 796.9,599.3 C797.2,599.3 797.6,596.4 798.0,596.4 C798.4,596.5 798.5,600.7 799.1,600.9 C799.4,601.0 799.9,600.5 800.2,600.0 C800.8,599.0 800.6,595.9 800.9,594.5 C801.1,593.5 801.4,592.0 801.6,592.0 C801.9,592.0 802.0,596.8 802.2,598.6 C802.4,599.7 802.6,601.4 802.9,601.4 C803.2,601.4 803.6,599.1 804.0,599.1 C804.3,599.0 804.8,600.2 805.1,600.1 C805.6,600.0 805.7,596.5 806.1,596.4 C806.5,596.4 806.9,598.8 807.2,598.8 C807.6,598.8 807.9,596.0 808.3,596.0 C808.5,596.0 808.8,596.6 809.0,597.1 C809.4,598.2 809.2,601.0 809.7,602.1 C810.0,602.8 810.5,603.6 810.8,603.5 C811.2,603.5 811.5,599.8 811.9,599.8 C812.2,599.8 812.6,603.7 812.9,603.7 C813.3,603.7 813.5,600.4 814.0,600.3 C814.3,600.2 814.8,600.9 815.1,601.4 C815.5,602.0 815.8,603.5 816.2,603.5 C816.6,603.5 816.9,600.5 817.3,600.5 C817.6,600.6 818.0,603.8 818.3,603.8 C818.7,603.9 819.0,601.5 819.4,601.5 C819.8,601.4 820.1,602.9 820.5,603.4 C820.8,603.8 821.3,604.4 821.6,604.2 C822.2,604.0 822.3,599.2 822.7,599.2 C823.0,599.2 823.4,603.0 823.7,602.9 C824.1,602.9 824.2,598.7 824.8,598.3 C825.1,598.2 825.6,598.4 825.9,598.7 C826.4,599.1 826.6,601.2 827.0,601.2 C827.4,601.2 827.8,598.9 828.1,598.9 C828.5,598.9 828.9,601.4 829.2,601.4 C829.6,601.4 830.0,599.2 830.4,599.3 C830.8,599.3 831.0,603.8 831.5,603.8 C831.8,603.9 832.3,602.9 832.6,602.1 C833.1,600.8 833.2,598.2 833.7,596.6 C834.0,595.3 834.4,593.3 834.7,593.3 C835.1,593.3 835.3,598.8 835.7,600.8 C836.0,602.2 836.4,604.1 836.7,604.1 C837.1,604.1 837.1,598.8 837.7,598.4 C838.0,598.2 838.4,598.9 838.7,598.7 C839.4,598.3 839.1,593.3 839.7,592.0 C840.0,591.3 840.4,590.6 840.7,590.6 C841.1,590.6 841.4,593.2 841.7,593.2 C842.1,593.2 842.4,589.8 842.8,589.8 C843.1,589.8 843.3,593.6 843.8,593.7 C844.1,593.7 844.5,592.7 844.8,592.0 C845.2,591.0 845.3,588.1 845.7,588.1 C846.0,588.1 846.3,590.2 846.6,590.2 C846.9,590.1 847.1,586.6 847.5,586.5 C847.8,586.4 848.2,586.9 848.4,587.4 C849.0,588.7 848.7,593.9 849.3,595.2 C849.5,595.7 849.9,596.1 850.2,596.0 C850.8,595.8 850.6,589.7 851.3,588.6 C851.6,588.1 852.1,588.3 852.4,587.9 C853.1,586.8 853.1,581.1 853.5,581.1 C853.8,581.1 854.2,583.3 854.5,584.7 C855.0,586.4 855.0,590.5 855.6,590.6 C855.9,590.7 856.4,589.9 856.7,589.2 C857.2,588.0 857.1,584.4 857.8,584.0 C858.1,583.8 858.5,584.5 858.8,584.3 C859.6,583.8 859.2,578.7 859.9,577.7 C860.2,577.3 860.7,577.0 861.0,577.1 C861.5,577.3 861.4,580.7 861.9,581.2 C862.1,581.4 862.6,581.1 862.8,581.4 C863.4,582.0 863.5,586.5 863.7,586.5 C864.1,586.5 864.1,577.4 864.4,572.4 C864.6,566.7 864.6,554.2 865.0,554.2 C865.3,554.2 865.9,567.7 866.4,567.7 C867.3,567.7 868.3,535.4 869.1,524.5 C869.6,517.8 868.9,512.1 870.4,508.3 C871.3,505.8 873.4,505.4 874.5,502.9 C876.1,499.1 876.4,493.4 877.2,486.7 C878.4,475.8 879.2,456.9 879.9,443.5 C880.5,431.8 880.9,421.9 881.5,410.7 C882.1,398.9 882.8,387.0 883.6,374.2 C884.5,360.0 885.3,338.2 886.8,329.1 C887.5,325.1 888.4,324.3 889.0,320.5 C890.2,313.2 890.5,301.6 891.1,288.3 C892.1,266.6 892.5,229.0 893.3,202.4 C894.0,179.4 894.8,155.4 895.4,138.0 C895.8,126.1 896.0,107.9 896.5,107.9 C897.1,107.9 898.1,126.1 898.7,138.0 C899.6,155.4 900.1,179.4 900.8,202.4 C901.6,229.0 902.0,264.6 902.9,288.3 C903.5,305.1 904.6,314.9 905.1,331.2 C905.8,352.8 905.6,383.0 906.2,406.4 C906.7,426.8 906.8,446.6 908.2,463.7 C909.3,477.6 911.5,501.5 912.9,501.5 C913.6,501.5 914.3,495.7 915.0,490.7 C916.6,479.9 918.5,439.0 920.2,439.0 C921.6,439.0 923.4,467.4 924.4,477.2 C925.0,483.3 924.7,488.4 925.7,492.1 C926.4,494.4 927.4,495.2 928.4,497.5 C930.0,501.2 932.3,512.5 933.8,512.3 C938.1,511.6 938.0,380.6 939.4,380.6 C940.6,380.6 940.6,451.4 941.9,477.2 C942.8,494.5 944.1,520.4 945.3,520.4 C946.6,520.4 947.2,482.6 949.4,467.8 C951.1,456.7 954.0,438.9 955.8,439.0 C958.0,439.1 959.4,471.1 960.8,484.0 C961.9,493.7 961.8,509.3 963.5,509.6 C964.6,509.8 966.2,500.1 967.6,500.2 C969.6,500.3 971.6,520.1 973.7,520.4 C974.9,520.6 976.2,518.0 977.2,515.0 C980.3,505.4 979.4,471.4 980.4,449.7 C981.4,428.2 982.4,385.5 983.3,385.5 C984.3,385.5 985.0,438.3 985.9,465.6 C986.9,494.2 987.7,553.3 989.1,553.3 C990.0,553.3 991.3,529.6 992.3,513.4 C993.8,488.3 995.0,417.5 996.1,417.5 C997.2,417.5 997.6,483.8 998.7,513.4 C999.6,539.0 999.8,567.7 1001.9,585.1 C1003.1,595.3 1004.3,605.8 1006.7,609.0 C1007.6,610.2 1008.9,610.9 1009.8,610.6 C1011.2,610.1 1012.1,605.9 1013.0,602.7 C1014.2,598.4 1014.4,586.7 1015.4,586.7 C1016.3,586.7 1016.8,599.0 1018.6,599.5 C1020.0,599.9 1022.5,593.9 1024.2,593.9 C1025.6,593.9 1027.0,596.0 1028.2,597.9 C1029.9,600.7 1029.9,608.6 1032.2,609.8 C1033.8,610.7 1036.5,609.1 1038.5,608.2 C1040.7,607.3 1043.3,606.4 1044.9,604.3 C1046.9,601.7 1047.2,598.2 1048.1,593.1 C1049.9,582.8 1050.0,561.7 1051.3,545.3 C1052.7,527.8 1054.5,491.1 1056.1,491.1 C1057.1,491.1 1058.4,504.5 1059.2,513.4 C1060.4,526.3 1060.2,550.8 1061.6,561.2 C1062.3,566.3 1063.3,572.5 1064.0,572.4 C1065.5,572.3 1063.5,525.4 1067.2,523.0 C1068.3,522.3 1070.2,523.2 1071.2,524.6 C1073.9,528.3 1072.5,543.0 1073.6,553.3 C1074.8,565.5 1075.8,585.7 1078.4,593.1 C1079.5,596.3 1081.1,599.6 1082.3,599.5 C1083.5,599.4 1084.6,595.6 1085.5,591.5 C1088.1,579.5 1087.4,518.2 1088.7,518.2 C1089.6,518.2 1090.9,554.9 1091.9,554.9 C1093.7,554.9 1095.1,444.9 1096.7,444.9 C1097.8,444.9 1099.0,478.1 1099.9,497.5 C1101.0,521.3 1101.0,558.8 1102.3,577.2 C1103.0,586.9 1103.8,599.5 1104.7,599.5 C1105.9,599.5 1106.9,561.3 1108.6,561.2 C1109.9,561.1 1112.1,577.1 1113.4,585.1 C1114.7,593.0 1115.0,602.6 1116.6,609.0 C1117.8,613.6 1119.6,619.9 1121.0,620.5 C1121.5,620.7 1122.1,620.4 1122.6,619.8 C1124.4,617.4 1124.6,604.2 1125.3,595.3 C1126.1,584.7 1126.3,571.2 1127.0,560.2 C1127.6,550.3 1128.4,532.1 1129.2,532.1 C1130.1,532.1 1131.0,558.3 1132.3,569.0 C1133.3,577.3 1134.6,583.6 1135.8,590.9 C1137.0,598.2 1137.2,608.2 1139.3,612.8 C1140.5,615.4 1142.4,618.2 1143.7,618.1 C1145.1,617.9 1146.3,614.3 1147.2,611.1 C1149.0,604.8 1149.0,590.9 1149.8,582.1 C1150.5,574.8 1151.0,561.9 1151.6,561.9 C1152.2,561.9 1152.6,574.9 1153.3,582.1 C1154.1,590.3 1154.2,602.8 1156.0,608.4 C1156.9,611.3 1158.2,613.1 1159.5,614.6 C1160.6,615.8 1162.0,617.5 1163.0,617.2 C1164.7,616.6 1165.6,608.8 1166.5,604.0 C1167.6,598.4 1168.0,585.6 1168.7,585.6 C1169.3,585.6 1169.7,598.4 1170.4,604.0 C1171.0,608.8 1171.1,614.3 1172.6,617.2 C1173.5,618.9 1174.8,620.7 1176.1,620.7 C1177.7,620.7 1179.9,617.3 1181.4,615.4 C1182.8,613.5 1183.5,611.0 1184.9,609.3 C1186.1,607.9 1187.6,605.7 1188.9,605.8 C1190.3,606.0 1191.4,609.7 1192.8,611.1 C1193.9,612.2 1195.0,613.2 1196.3,613.7 C1197.6,614.2 1199.8,614.6 1200.7,614.1 C1201.4,613.7 1201.3,612.3 1201.8,611.9 C1202.1,611.6 1202.6,611.8 1202.9,611.5 C1203.4,611.0 1203.6,609.4 1204.0,608.7 C1204.3,608.2 1204.7,607.6 1205.1,607.5 C1205.5,607.4 1205.9,608.2 1206.3,608.2 C1206.8,608.1 1207.1,606.8 1207.5,606.8 C1207.9,606.8 1208.4,608.1 1208.8,608.0 C1209.2,608.0 1209.5,606.1 1210.0,606.0 C1210.3,605.9 1210.8,606.5 1211.2,606.7 C1211.6,606.9 1211.9,607.5 1212.3,607.5 C1212.7,607.5 1213.1,607.2 1213.4,606.7 C1214.1,605.4 1213.8,601.0 1214.1,598.3 C1214.3,595.7 1214.5,590.9 1214.7,590.9 C1215.0,590.9 1215.3,596.7 1215.6,599.3 C1215.9,601.6 1216.0,605.7 1216.5,605.8 C1216.8,605.9 1217.2,604.3 1217.6,604.2 C1217.9,604.1 1218.4,605.0 1218.7,604.9 C1219.1,604.8 1219.3,603.2 1219.8,603.0 C1220.1,602.8 1220.5,603.1 1220.9,603.2 C1221.3,603.3 1221.7,603.8 1222.0,603.6 C1222.5,603.5 1222.7,601.6 1223.1,601.5 C1223.4,601.5 1223.8,602.7 1224.2,602.7 C1224.6,602.6 1225.0,602.0 1225.3,601.4 C1225.8,600.6 1226.0,598.9 1226.5,598.1 C1226.8,597.6 1227.3,597.6 1227.6,597.1 C1228.2,596.3 1228.4,595.3 1228.8,593.5 C1229.9,588.0 1230.3,572.1 1231.0,560.2 C1231.8,546.6 1232.4,526.6 1233.2,516.3 C1233.6,510.6 1234.0,503.2 1234.5,503.2 C1235.0,503.2 1235.7,510.9 1236.2,516.3 C1237.0,525.2 1237.5,540.7 1238.0,551.4 C1238.4,560.3 1238.9,576.0 1238.9,576.0" fill="none" stroke="#1b3d8d" stroke-width="3.2" stroke-linejoin="round" stroke-linecap="round"/>
<path d="M203.0,600.5 C203.0,600.5 203.5,597.0 204.0,596.9 C204.3,596.8 204.7,597.7 205.0,597.6 C205.5,597.4 205.7,595.1 206.0,594.0 C206.3,592.9 206.6,591.7 207.0,591.0 C207.3,590.4 207.7,590.3 208.0,589.7 C208.4,589.0 208.5,586.9 209.0,586.7 C209.3,586.6 209.8,586.8 210.1,587.2 C210.7,587.9 210.6,590.9 211.2,591.6 C211.5,592.0 212.0,592.3 212.3,592.2 C212.8,592.1 213.0,590.0 213.4,589.9 C213.8,589.8 214.2,590.9 214.5,590.8 C215.0,590.7 215.2,587.9 215.7,587.8 C216.0,587.7 216.4,589.0 216.8,588.9 C217.2,588.8 217.5,587.4 217.9,586.7 C218.3,586.1 218.6,585.1 219.0,585.1 C219.4,585.0 219.8,586.3 220.1,586.3 C220.5,586.2 220.8,584.2 221.2,584.1 C221.5,584.1 222.0,585.5 222.3,585.4 C222.7,585.3 223.0,582.7 223.4,582.7 C223.8,582.7 224.2,584.9 224.5,584.9 C224.9,584.9 225.1,581.5 225.6,581.4 C225.9,581.3 226.3,582.1 226.7,582.3 C227.0,582.5 227.5,582.7 227.8,582.6 C228.3,582.3 228.4,580.1 228.9,579.8 C229.2,579.6 229.7,579.8 230.0,580.0 C230.4,580.2 230.7,581.0 231.1,581.0 C231.5,581.0 231.8,579.8 232.2,579.8 C232.6,579.8 232.9,581.1 233.3,581.1 C233.7,581.1 234.1,579.7 234.4,579.8 C234.8,579.8 235.1,581.6 235.5,581.8 C235.8,581.8 236.3,581.5 236.6,581.1 C237.1,580.5 237.2,578.6 237.7,578.4 C238.1,578.2 238.5,579.0 238.9,578.8 C239.4,578.6 239.5,576.2 240.0,575.6 C240.3,575.3 240.8,575.0 241.1,575.1 C241.6,575.3 241.8,577.7 242.2,577.8 C242.5,577.9 243.0,576.5 243.3,576.5 C243.7,576.6 244.0,578.3 244.4,578.4 C244.7,578.5 245.2,577.5 245.5,577.6 C245.9,577.6 246.2,578.9 246.6,579.0 C246.9,579.1 247.4,578.9 247.7,578.5 C248.2,578.0 248.4,575.8 248.8,575.7 C249.1,575.7 249.6,577.2 249.9,577.1 C250.4,577.0 250.4,573.7 251.0,573.3 C251.3,573.1 251.8,573.2 252.1,573.4 C252.5,573.6 252.9,574.5 253.2,574.5 C253.6,574.5 254.0,572.8 254.3,572.8 C254.7,572.9 255.0,575.9 255.4,575.9 C255.7,576.0 256.2,573.8 256.5,573.8 C256.9,573.8 257.2,576.9 257.6,576.9 C257.9,576.9 258.4,574.6 258.7,574.6 C259.1,574.6 259.3,577.5 259.8,577.6 C260.1,577.7 260.6,577.1 260.9,576.7 C261.3,576.1 261.6,574.5 262.0,574.4 C262.3,574.3 262.8,575.3 263.1,575.2 C263.6,575.1 263.8,573.2 264.2,572.3 C264.5,571.6 264.9,570.3 265.3,570.3 C265.7,570.3 266.1,571.9 266.4,571.9 C266.8,571.8 267.1,569.4 267.5,569.4 C267.8,569.4 268.3,571.3 268.6,571.3 C269.0,571.3 269.2,568.8 269.7,568.6 C270.0,568.4 270.5,568.7 270.8,569.0 C271.2,569.4 271.5,570.8 271.9,570.9 C272.3,570.9 272.7,569.6 273.1,569.6 C273.5,569.7 273.7,572.7 274.2,572.9 C274.5,573.0 275.0,572.6 275.3,572.3 C275.7,572.0 276.1,570.9 276.4,570.9 C276.8,571.0 277.2,572.9 277.5,572.9 C277.9,572.9 278.2,570.4 278.6,570.3 C278.9,570.3 279.4,572.3 279.7,572.2 C280.1,572.2 280.3,569.2 280.8,569.1 C281.1,569.0 281.5,569.7 281.9,570.1 C282.3,570.5 282.6,571.5 283.0,571.5 C283.4,571.5 283.8,569.8 284.1,569.8 C284.5,569.9 284.8,572.7 285.2,572.8 C285.5,572.8 285.9,570.5 286.3,570.5 C286.7,570.5 287.0,573.1 287.4,573.2 C287.7,573.2 288.2,571.8 288.5,571.8 C288.9,571.9 289.2,573.7 289.6,573.8 C289.9,573.9 290.4,573.7 290.7,573.4 C291.1,573.0 291.4,571.5 291.8,571.5 C292.1,571.4 292.6,572.7 292.9,572.6 C293.3,572.5 293.6,569.8 294.0,569.8 C294.3,569.7 294.8,571.3 295.1,571.3 C295.5,571.2 295.7,568.5 296.2,568.3 C296.5,568.2 296.7,568.8 297.3,569.0 C298.7,569.5 303.4,569.9 304.8,569.8 C305.4,569.8 305.6,569.8 306.0,569.5 C306.5,569.2 306.8,568.1 307.2,568.0 C307.6,567.9 308.1,568.6 308.4,568.5 C308.9,568.4 309.2,567.2 309.6,567.0 C310.0,566.9 310.5,567.3 310.8,567.2 C311.3,567.0 311.6,565.9 312.0,565.7 C312.4,565.6 312.9,566.2 313.3,566.0 C313.7,565.9 314.0,564.9 314.5,564.7 C314.8,564.5 315.3,564.8 315.7,564.7 C316.1,564.5 316.4,563.5 316.9,563.4 C317.3,563.3 317.7,563.9 318.1,563.8 C318.5,563.6 318.8,562.4 319.3,562.1 C319.7,561.9 320.1,562.2 320.5,562.0 C320.9,561.8 321.3,561.4 321.7,561.0 C322.2,560.4 322.4,559.3 322.9,558.9 C323.3,558.6 323.8,558.9 324.1,558.6 C324.6,558.2 324.8,556.7 325.3,556.3 C325.7,556.0 326.2,556.2 326.5,555.9 C327.0,555.5 327.3,554.2 327.7,553.8 C328.1,553.5 328.6,553.6 329.0,553.2 C329.4,552.8 329.7,551.7 330.2,551.3 C330.5,550.9 331.0,551.1 331.4,550.8 C331.8,550.4 332.1,549.2 332.6,548.9 C332.9,548.6 333.4,548.7 333.8,548.4 C334.3,548.0 334.5,546.9 335.0,546.3 C335.4,545.9 335.8,545.7 336.2,545.3 C336.6,544.9 337.0,544.6 337.4,544.1 C337.9,543.4 338.1,542.0 338.6,541.4 C339.0,541.0 339.5,541.0 339.8,540.6 C340.3,540.1 340.6,538.9 341.0,538.4 C341.4,538.0 341.9,538.0 342.2,537.5 C342.7,537.0 342.9,535.5 343.4,535.0 C343.8,534.5 344.3,534.6 344.7,534.2 C345.1,533.6 345.4,532.4 345.9,531.8 C346.2,531.3 346.7,531.2 347.1,530.7 C347.5,530.1 347.8,529.0 348.3,528.4 C348.6,528.0 349.1,527.9 349.5,527.5 C350.0,526.9 350.2,525.8 350.7,525.1 C351.1,524.6 351.4,524.0 351.9,523.7 C352.3,523.5 352.7,523.6 353.1,523.4 C353.6,523.1 353.8,522.0 354.3,521.7 C354.7,521.5 355.1,521.7 355.5,521.5 C356.0,521.2 356.2,520.2 356.7,519.9 C357.1,519.6 357.5,519.8 357.9,519.5 C358.4,519.2 358.6,518.0 359.1,517.8 C359.5,517.6 359.9,517.9 360.3,517.7 C360.8,517.4 361.0,516.5 361.5,516.2 C361.9,516.0 362.3,516.3 362.7,516.1 C363.2,515.8 363.4,514.7 363.9,514.3 C364.3,514.1 364.7,514.3 365.1,514.0 C365.6,513.7 365.8,512.6 366.3,512.3 C366.7,512.1 367.1,512.0 367.5,512.0 C367.9,512.0 368.3,512.3 368.7,512.3 C369.1,512.2 369.5,511.8 369.9,511.8 C370.3,511.8 370.7,512.4 371.0,512.3 C371.4,512.3 371.8,511.5 372.2,511.6 C372.6,511.6 373.0,512.5 373.4,512.5 C373.8,512.5 374.2,511.8 374.6,511.7 C375.0,511.7 375.4,512.3 375.8,512.3 C376.2,512.3 376.5,511.8 376.9,511.8 C377.3,511.8 377.7,512.4 378.1,512.4 C378.5,512.4 378.9,512.1 379.3,512.0 C379.7,511.9 380.1,511.7 380.5,511.8 C380.9,512.0 381.3,513.1 381.7,513.1 C382.1,513.2 382.5,512.3 382.9,512.4 C383.3,512.5 383.6,513.7 384.1,513.8 C384.4,513.9 384.9,513.0 385.2,513.1 C385.7,513.1 386.0,514.3 386.4,514.4 C386.8,514.5 387.2,513.8 387.6,513.9 C388.0,513.9 388.4,514.7 388.8,514.9 C389.2,515.0 389.6,515.0 390.0,514.9 C390.4,514.8 390.8,514.5 391.1,514.6 C391.5,514.7 391.8,515.5 392.2,515.5 C392.6,515.6 393.0,515.0 393.3,515.1 C393.7,515.1 394.1,515.9 394.5,515.9 C394.8,515.9 395.2,515.0 395.6,515.1 C395.9,515.1 396.3,515.9 396.7,516.0 C397.0,516.1 397.4,515.9 397.8,515.9 C398.2,515.9 398.6,515.9 398.9,516.2 C399.4,516.4 399.6,517.5 400.1,517.7 C400.4,517.8 400.8,517.4 401.2,517.6 C401.6,517.8 401.9,518.8 402.3,519.0 C402.7,519.1 403.1,518.7 403.4,518.8 C403.9,519.0 404.1,520.1 404.6,520.4 C404.9,520.7 405.3,520.8 405.7,520.8 C406.1,520.8 406.5,520.1 406.9,520.1 C407.3,520.1 407.8,520.7 408.1,520.7 C408.6,520.6 409.0,519.9 409.4,519.8 C409.8,519.8 410.2,520.3 410.6,520.2 C411.0,520.2 411.4,519.4 411.8,519.3 C412.2,519.2 412.7,519.6 413.1,519.5 C413.5,519.5 413.9,518.9 414.3,518.8 C414.7,518.7 415.1,518.9 415.5,518.8 C415.9,518.7 416.3,518.3 416.7,518.0 C417.2,517.5 417.5,516.7 417.9,516.4 C418.3,516.1 418.8,516.2 419.2,516.0 C419.7,515.6 419.9,514.3 420.4,514.0 C420.8,513.8 421.3,514.1 421.6,513.9 C422.1,513.6 422.3,511.9 422.9,511.6 C423.2,511.4 423.7,511.9 424.1,511.7 C424.6,511.5 424.9,510.6 425.3,510.0 C425.7,509.3 426.0,508.2 426.4,507.5 C426.8,506.9 427.2,506.5 427.5,505.9 C428.0,505.1 428.2,503.8 428.6,503.0 C429.0,502.4 429.4,502.1 429.8,501.5 C430.2,500.6 430.4,499.1 430.9,498.3 C431.2,497.8 431.7,497.6 432.0,497.1 C432.4,496.3 432.7,495.3 433.1,494.3 C433.5,493.1 433.8,491.5 434.3,490.3 C434.6,489.3 435.1,488.6 435.5,487.6 C435.9,486.3 436.2,484.6 436.6,483.4 C437.0,482.3 437.5,481.6 437.8,480.6 C438.3,479.5 438.4,477.1 439.0,476.7 C439.3,476.5 439.8,476.6 440.1,476.8 C440.5,476.9 440.9,477.4 441.3,477.5 C441.6,477.5 442.0,477.1 442.4,477.1 C442.8,477.2 443.1,478.0 443.5,478.0 C443.9,478.1 444.3,477.5 444.6,477.6 C445.0,477.6 445.4,478.5 445.8,478.6 C446.1,478.8 446.6,478.5 446.9,478.6 C447.3,478.8 447.7,479.3 448.0,479.8 C448.4,480.3 448.7,481.2 449.1,481.7 C449.5,482.1 449.9,482.1 450.2,482.5 C450.7,483.0 450.9,484.0 451.4,484.5 C451.7,484.8 452.1,484.8 452.5,485.2 C452.9,485.7 453.2,486.8 453.6,487.4 C453.9,487.8 454.3,488.2 454.7,488.4 C455.1,488.6 455.5,488.5 455.9,488.7 C456.3,489.0 456.6,490.0 457.0,490.2 C457.3,490.3 457.8,490.0 458.1,490.1 C458.6,490.3 458.9,491.5 459.3,491.6 C459.7,491.7 460.1,491.1 460.5,491.1 C460.9,491.2 461.3,491.8 461.6,492.4 C462.2,493.5 462.4,496.1 462.8,497.8 C463.2,499.2 463.7,500.4 464.1,501.8 C464.5,503.5 464.8,505.7 465.3,507.5 C465.7,509.1 466.0,510.7 466.5,512.0 C466.9,513.0 467.3,513.7 467.7,514.8 C468.2,515.9 468.5,517.5 468.9,518.6 C469.3,519.6 469.8,520.2 470.2,521.2 C470.6,522.4 470.9,524.0 471.4,525.2 C471.8,526.1 472.2,526.7 472.6,527.7 C473.1,528.8 473.4,530.3 473.9,531.4 C474.2,532.3 474.7,532.9 475.1,533.8 C475.5,534.9 475.8,536.7 476.3,537.5 C476.6,538.0 477.0,538.5 477.5,538.6 C477.8,538.8 478.3,538.5 478.7,538.6 C479.1,538.9 479.4,540.2 479.8,540.4 C480.2,540.6 480.7,540.1 481.0,540.2 C481.5,540.3 481.8,541.0 482.2,541.4 C482.6,541.7 483.0,542.2 483.4,542.3 C483.8,542.4 484.3,541.9 484.6,542.0 C485.1,542.2 485.4,543.4 485.9,543.6 C486.2,543.8 486.7,543.5 487.1,543.6 C487.6,543.8 487.9,544.8 488.3,544.9 C488.7,545.1 489.2,544.7 489.6,544.8 C490.0,545.0 490.3,545.8 490.8,546.0 C491.2,546.2 491.6,546.4 492.0,546.3 C492.4,546.2 492.7,545.6 493.1,545.6 C493.5,545.6 493.9,546.5 494.2,546.5 C494.6,546.5 495.0,545.7 495.3,545.7 C495.7,545.6 496.1,546.2 496.5,546.1 C496.8,546.1 497.2,545.2 497.6,545.2 C497.9,545.2 498.3,545.8 498.7,545.8 C499.1,545.9 499.4,545.3 499.8,545.3 C500.2,545.3 500.6,545.6 500.9,545.9 C501.3,546.2 501.6,547.2 502.0,547.4 C502.4,547.6 502.8,547.4 503.1,547.6 C503.6,547.8 503.8,548.7 504.3,549.0 C504.6,549.2 505.0,548.9 505.4,549.2 C505.8,549.5 506.0,550.6 506.5,550.9 C506.8,551.2 507.2,551.0 507.6,551.2 C508.0,551.4 508.5,551.8 508.8,552.2 C509.3,552.7 509.6,553.8 510.1,554.2 C510.4,554.4 510.9,554.3 511.3,554.6 C511.8,555.0 512.1,556.1 512.5,556.5 C512.9,556.8 513.4,556.7 513.8,557.0 C514.3,557.4 514.5,558.6 515.0,558.9 C515.4,559.2 515.9,559.0 516.3,559.3 C516.7,559.6 517.0,560.7 517.5,561.0 C517.8,561.3 518.3,561.4 518.6,561.4 C519.0,561.3 519.4,560.8 519.7,560.7 C520.1,560.7 520.5,561.3 520.8,561.3 C521.2,561.3 521.6,560.7 522.0,560.8 C522.3,560.8 522.7,561.6 523.1,561.5 C523.5,561.5 523.8,560.6 524.2,560.5 C524.5,560.5 524.9,561.0 525.3,561.0 C525.7,561.0 526.1,560.7 526.5,560.4 C527.0,559.9 527.2,558.6 527.7,558.2 C528.0,557.8 528.5,558.0 528.8,557.7 C529.3,557.3 529.6,556.3 530.0,555.8 C530.4,555.5 530.9,555.0 531.2,555.1 C531.7,555.2 531.9,556.9 532.4,557.4 C532.7,557.8 533.2,557.7 533.6,558.1 C534.1,558.7 534.3,560.1 534.7,560.8 C535.1,561.3 535.6,561.4 535.9,561.8 C536.4,562.3 536.6,563.5 537.1,563.9 C537.4,564.2 537.9,564.5 538.2,564.4 C538.6,564.4 539.0,563.6 539.3,563.7 C539.7,563.7 540.1,564.6 540.4,564.6 C540.8,564.7 541.2,564.0 541.6,564.1 C541.9,564.1 542.3,565.0 542.7,565.0 C543.0,565.0 543.4,564.2 543.8,564.2 C544.2,564.2 544.5,564.6 544.9,564.9 C545.3,565.3 545.6,566.2 546.1,566.4 C546.4,566.6 546.9,566.1 547.3,566.3 C547.8,566.5 547.9,568.1 548.4,568.4 C548.8,568.6 549.3,568.3 549.6,568.5 C550.1,568.8 550.3,569.8 550.8,570.1 C551.2,570.3 551.6,570.1 552.0,570.4 C552.4,570.7 552.7,571.8 553.2,572.1 C553.5,572.3 554.0,572.1 554.3,572.4 C554.8,572.7 555.1,573.8 555.5,574.2 C555.9,574.5 556.3,574.6 556.7,574.7 C557.1,574.8 557.6,574.8 557.9,575.0 C558.4,575.4 558.7,576.7 559.2,576.9 C559.6,577.1 560.1,576.7 560.4,576.8 C560.9,577.1 561.2,578.2 561.7,578.5 C562.1,578.8 562.6,578.5 562.9,578.8 C563.4,579.1 563.7,580.4 564.2,580.6 C564.5,580.8 565.0,580.5 565.4,580.7 C565.9,580.9 566.2,581.9 566.7,582.2 C567.0,582.4 567.5,582.3 567.9,582.5 C568.4,582.8 568.7,583.5 569.2,583.9 C569.5,584.2 570.0,584.5 570.4,584.5 C570.8,584.5 571.2,584.0 571.6,584.0 C572.0,584.1 572.4,585.3 572.8,585.3 C573.1,585.3 573.5,584.4 573.9,584.3 C574.3,584.3 574.7,585.1 575.1,585.2 C575.5,585.2 575.9,584.6 576.3,584.7 C576.7,584.7 577.1,585.4 577.5,585.4 C577.9,585.4 578.3,584.7 578.7,584.7 C579.1,584.8 579.4,585.7 579.8,585.8 C580.2,585.8 580.6,585.1 581.0,585.0 C581.4,585.0 581.8,585.3 582.2,585.5 C582.6,585.7 582.9,586.2 583.3,586.3 C583.6,586.4 584.0,586.0 584.4,586.1 C584.8,586.2 585.1,587.1 585.5,587.2 C585.8,587.2 586.2,586.5 586.5,586.6 C586.9,586.7 587.2,587.9 587.6,588.1 C588.0,588.2 588.4,587.7 588.7,587.7 C589.1,587.8 589.4,588.2 589.8,588.4 C590.2,588.6 590.5,589.1 590.9,589.1 C591.3,589.1 591.6,588.4 592.0,588.4 C592.4,588.5 592.5,588.9 593.1,589.2 C594.7,590.0 600.9,591.2 602.5,592.0 C603.1,592.3 603.3,592.8 603.7,592.8 C604.1,592.8 604.5,592.0 604.9,592.1 C605.3,592.2 605.6,593.7 606.1,593.8 C606.4,593.8 606.9,592.9 607.2,593.0 C607.7,593.1 608.0,594.5 608.4,594.6 C608.8,594.6 609.3,593.6 609.6,593.7 C610.1,593.8 610.3,595.4 610.8,595.6 C611.2,595.7 611.6,595.4 612.0,595.3 C612.4,595.2 612.8,594.9 613.1,595.0 C613.5,595.1 613.8,596.1 614.2,596.2 C614.5,596.2 614.9,595.5 615.3,595.5 C615.7,595.6 616.0,596.5 616.4,596.6 C616.8,596.6 617.2,595.9 617.5,596.0 C617.9,596.1 618.2,597.5 618.6,597.5 C618.9,597.6 619.3,596.7 619.7,596.7 C620.1,596.6 620.5,597.4 620.8,597.3 C621.2,597.2 621.5,596.0 621.8,595.1 C622.2,594.1 622.4,592.4 622.8,591.4 C623.1,590.7 623.5,590.4 623.8,589.7 C624.2,588.8 624.4,587.3 624.8,586.5 C625.1,585.9 625.5,585.1 625.9,585.0 C626.3,584.9 626.7,585.6 627.1,585.5 C627.5,585.3 627.9,584.6 628.2,583.8 C628.7,582.4 628.8,579.6 629.2,577.8 C629.5,576.1 629.9,573.0 630.2,573.0 C630.7,573.0 630.7,583.8 630.9,589.1 C631.1,594.2 631.3,604.1 631.6,604.1 C631.9,604.1 632.2,598.0 632.6,595.2 C632.9,592.7 632.9,588.2 633.6,587.9 C633.9,587.8 634.4,588.6 634.8,588.6 C635.1,588.6 635.6,587.7 635.9,587.8 C636.3,587.9 636.7,589.3 637.1,589.4 C637.4,589.4 637.9,588.3 638.2,588.4 C638.6,588.4 639.0,590.0 639.4,590.1 C639.7,590.1 640.2,589.2 640.5,589.2 C640.9,589.2 641.3,589.6 641.7,589.9 C642.1,590.2 642.4,591.0 642.8,591.1 C643.2,591.1 643.6,590.4 643.9,590.5 C644.4,590.7 644.6,592.2 645.0,592.2 C645.4,592.3 645.8,591.3 646.2,591.4 C646.6,591.5 646.8,593.1 647.3,593.3 C647.6,593.5 648.0,593.2 648.4,593.3 C648.8,593.4 649.2,593.6 649.6,594.0 C650.0,594.4 650.3,595.5 650.7,595.7 C651.1,595.9 651.5,595.4 651.9,595.5 C652.4,595.8 652.5,597.7 653.0,597.9 C653.4,598.0 653.8,597.3 654.2,597.5 C654.7,597.7 654.8,599.4 655.3,599.7 C655.7,600.0 656.1,600.0 656.5,600.0 C656.9,600.0 657.3,599.8 657.7,600.0 C658.1,600.2 658.5,601.3 658.9,601.3 C659.3,601.3 659.7,600.1 660.1,600.1 C660.5,600.2 660.8,601.6 661.2,601.6 C661.6,601.7 662.1,600.5 662.4,600.6 C662.9,600.6 663.2,602.2 663.6,602.3 C664.0,602.4 664.4,601.5 664.8,601.5 C665.2,601.5 665.6,601.9 666.0,602.1 C666.4,602.3 666.9,602.7 667.2,602.6 C667.7,602.4 668.0,601.0 668.5,600.9 C668.8,600.9 669.3,601.8 669.7,601.7 C670.1,601.7 670.5,600.5 670.9,600.5 C671.3,600.4 671.7,601.5 672.1,601.5 C672.6,601.4 672.9,600.3 673.4,600.2 C673.8,600.2 674.2,601.1 674.6,601.1 C675.0,601.0 675.4,599.8 675.8,599.8 C676.2,599.7 676.7,600.6 677.0,600.5 C677.5,600.4 677.8,599.3 678.3,599.1 C678.7,599.0 679.1,599.2 679.5,599.4 C679.9,599.6 680.2,600.2 680.6,600.2 C680.9,600.2 681.3,599.6 681.7,599.6 C682.1,599.7 682.3,601.0 682.7,601.1 C683.1,601.2 683.5,600.6 683.8,600.6 C684.2,600.6 684.6,601.0 684.9,601.4 C685.3,601.8 685.6,603.0 686.1,603.2 C686.4,603.4 686.9,602.9 687.2,603.1 C687.7,603.3 688.0,604.3 688.4,604.7 C688.8,605.0 689.3,605.5 689.6,605.4 C690.2,605.2 690.3,602.2 690.7,600.8 C691.1,599.8 691.5,599.1 691.9,598.0 C692.3,596.7 692.5,594.3 693.0,593.3 C693.3,592.7 693.7,592.2 694.1,592.1 C694.4,592.1 694.8,593.0 695.2,592.9 C695.6,592.8 695.8,591.3 696.2,591.1 C696.6,591.1 697.0,591.8 697.3,591.8 C697.7,591.7 698.1,591.2 698.4,590.6 C699.1,589.2 699.1,585.2 699.4,582.7 C699.7,580.3 700.1,575.7 700.4,575.7 C700.7,575.7 701.0,580.3 701.3,582.4 C701.6,584.3 701.9,585.9 702.2,587.8 C702.5,589.9 702.4,593.4 703.1,594.6 C703.4,595.2 703.9,595.4 704.3,595.6 C704.7,595.7 705.2,595.4 705.6,595.6 C706.0,595.9 706.3,597.2 706.8,597.3 C707.2,597.4 707.7,596.8 708.0,597.0 C708.5,597.1 708.8,598.4 709.3,598.7 C709.6,598.9 710.1,598.7 710.5,598.7 C710.9,598.7 711.3,598.4 711.6,598.6 C712.1,598.8 712.3,600.2 712.8,600.3 C713.1,600.4 713.6,599.7 713.9,599.8 C714.3,599.9 714.6,601.6 715.0,601.7 C715.4,601.7 715.8,600.8 716.2,600.8 C716.6,600.8 716.9,601.9 717.3,602.1 C717.7,602.3 718.1,602.3 718.5,602.1 C718.9,602.0 719.2,601.1 719.6,601.1 C720.0,601.0 720.5,601.6 720.8,601.6 C721.3,601.5 721.6,600.3 722.0,600.2 C722.4,600.2 722.8,600.9 723.2,600.8 C723.6,600.8 723.9,599.9 724.4,599.8 C724.7,599.7 725.1,600.4 725.5,600.3 C725.9,600.3 726.3,599.7 726.7,599.4 C727.1,599.1 727.5,598.5 727.8,598.5 C728.2,598.5 728.6,599.6 728.9,599.6 C729.3,599.6 729.7,598.5 730.0,598.5 C730.4,598.5 730.8,599.4 731.2,599.4 C731.5,599.4 731.9,598.4 732.3,598.3 C732.6,598.2 733.0,598.7 733.4,598.7 C733.8,598.7 734.2,598.4 734.5,598.1 C734.9,597.5 735.1,596.0 735.6,595.5 C735.9,595.3 736.3,595.5 736.6,595.2 C737.1,594.8 737.3,593.3 737.7,592.7 C738.0,592.3 738.5,592.2 738.8,591.9 C739.2,591.6 739.5,591.3 739.8,590.8 C740.3,590.1 740.4,588.4 740.8,587.8 C741.1,587.4 741.6,587.5 741.9,587.2 C742.3,586.8 742.5,585.2 742.9,585.2 C743.2,585.2 743.7,586.1 744.0,586.7 C744.5,587.6 744.7,589.2 745.2,590.1 C745.5,590.8 746.0,591.2 746.3,591.9 C746.7,592.7 746.9,593.5 747.2,594.5 C747.6,595.7 747.7,597.7 748.1,598.9 C748.4,599.9 748.7,601.4 749.0,601.4 C749.4,601.4 749.7,599.0 750.1,598.1 C750.4,597.4 750.9,597.1 751.2,596.5 C751.6,595.6 751.8,593.6 752.3,593.3 C752.6,593.1 753.1,593.3 753.4,593.5 C753.9,593.8 754.1,595.2 754.6,595.4 C754.9,595.6 755.4,595.2 755.7,595.4 C756.2,595.7 756.4,597.1 756.8,597.4 C757.2,597.6 757.6,597.1 758.0,597.2 C758.4,597.4 758.7,598.7 759.1,598.7 C759.5,598.7 759.9,597.9 760.3,597.2 C760.8,596.3 760.9,594.4 761.5,593.6 C761.8,593.1 762.3,593.2 762.6,592.7 C763.1,592.1 763.4,589.9 763.8,589.9 C764.2,589.9 764.6,591.5 764.9,592.4 C765.4,593.5 765.6,595.0 766.1,596.2 C766.4,597.1 766.7,598.3 767.2,598.7 C767.5,599.0 768.0,598.7 768.3,599.0 C768.8,599.3 769.0,600.4 769.4,600.7 C769.8,600.8 770.2,600.4 770.5,600.6 C771.0,600.9 771.2,602.4 771.7,602.6 C772.0,602.7 772.4,602.2 772.8,602.3 C773.2,602.4 773.5,603.0 773.9,603.4 C774.3,603.8 774.6,604.5 775.0,604.5 C775.3,604.5 775.7,603.7 776.1,603.7 C776.4,603.8 776.7,605.0 777.1,605.1 C777.5,605.1 777.9,604.5 778.2,604.6 C778.6,604.6 778.9,605.1 779.3,605.4 C779.7,605.6 780.0,606.0 780.4,606.1 C780.8,606.1 781.2,605.5 781.5,605.6 C781.9,605.6 782.2,606.7 782.6,606.8 C782.9,606.8 783.4,606.2 783.7,606.2 C784.1,606.3 784.4,607.5 784.8,607.5 C785.2,607.6 785.6,606.6 785.9,606.7 C786.3,606.8 786.6,608.4 787.0,608.5 C787.3,608.6 787.7,608.2 788.1,608.1 C788.5,608.0 788.9,607.6 789.3,607.7 C789.8,607.8 790.1,609.0 790.6,609.0 C791.0,609.0 791.4,607.7 791.8,607.7 C792.2,607.7 792.6,609.0 793.0,609.1 C793.4,609.1 793.8,608.4 794.2,608.4 C794.7,608.4 795.0,609.2 795.5,609.3 C795.9,609.3 796.3,608.6 796.7,608.6 C797.1,608.7 797.5,609.7 797.9,609.8 C798.3,609.8 798.7,608.8 799.1,608.8 C799.6,608.8 799.9,609.7 800.4,609.8 C800.8,609.9 801.2,609.7 801.6,609.5 C802.0,609.3 802.4,608.8 802.8,608.9 C803.2,608.9 803.6,610.0 804.0,610.0 C804.4,610.0 804.8,608.9 805.1,608.9 C805.6,609.0 805.9,610.3 806.3,610.3 C806.7,610.3 807.1,609.2 807.5,609.2 C807.9,609.2 808.3,610.5 808.7,610.5 C809.1,610.5 809.5,609.3 809.9,609.3 C810.3,609.4 810.7,610.6 811.0,610.6 C811.5,610.6 811.8,609.1 812.2,609.1 C812.6,609.1 813.0,610.5 813.4,610.5 C813.8,610.5 814.2,609.3 814.6,609.3 C815.0,609.4 815.4,610.8 815.8,610.8 C816.2,610.8 816.6,609.4 817.0,609.4 C817.3,609.4 817.7,610.8 818.1,610.8 C818.5,610.8 818.9,609.5 819.3,609.4 C819.7,609.4 820.1,609.9 820.5,610.2 C820.9,610.5 821.3,611.1 821.7,611.0 C822.2,611.0 822.6,609.6 823.0,609.6 C823.4,609.6 823.8,611.1 824.2,611.2 C824.6,611.2 825.0,610.0 825.4,610.0 C825.8,610.0 826.2,611.1 826.6,611.1 C827.0,611.1 827.5,609.9 827.9,609.9 C828.3,609.9 828.7,611.0 829.1,611.1 C829.5,611.1 829.9,610.1 830.3,610.2 C830.7,610.2 831.1,611.1 831.5,611.1 C832.0,611.0 832.4,610.0 832.8,610.0 C833.2,609.9 833.6,610.7 834.0,610.8 C834.4,610.9 834.8,610.9 835.2,610.7 C835.6,610.4 835.9,609.2 836.3,609.1 C836.7,609.1 837.1,609.9 837.5,609.8 C837.9,609.7 838.2,608.3 838.6,608.1 C839.0,608.0 839.4,608.8 839.8,608.7 C840.2,608.6 840.5,607.3 840.9,607.0 C841.3,606.8 841.7,606.9 842.1,606.8 C842.5,606.7 842.9,606.7 843.2,606.4 C843.6,606.1 843.8,605.1 844.3,605.0 C844.6,604.9 845.0,605.4 845.3,605.2 C845.8,605.0 846.0,603.6 846.4,603.3 C846.7,603.2 847.2,603.2 847.5,603.4 C847.9,603.6 848.1,604.9 848.5,605.0 C848.8,605.1 849.2,604.3 849.5,604.4 C849.9,604.6 850.1,606.1 850.5,606.5 C850.8,606.7 851.2,606.8 851.5,606.8 C851.9,606.8 852.3,606.3 852.7,606.4 C853.1,606.5 853.4,607.6 853.8,607.6 C854.2,607.6 854.6,606.6 855.0,606.6 C855.4,606.7 855.7,608.0 856.1,608.0 C856.5,608.1 856.9,607.3 857.3,607.3 C857.7,607.4 858.0,608.4 858.4,608.5 C858.8,608.6 859.2,608.5 859.6,608.1 C860.9,607.0 863.5,602.6 865.0,598.7 C867.0,593.3 868.1,585.2 869.1,578.4 C870.1,571.7 870.1,558.3 871.1,558.2 C871.7,558.1 872.4,561.5 873.1,563.6 C874.0,566.3 874.9,573.0 875.8,573.0 C877.1,573.0 877.9,556.8 879.9,554.2 C880.7,553.2 881.8,553.9 882.6,552.8 C884.7,549.9 884.3,531.4 885.9,531.2 C887.0,531.1 888.7,542.1 890.0,542.0 C892.4,541.8 894.2,502.9 896.1,502.9 C898.1,502.9 899.5,530.7 901.5,544.7 C903.5,559.0 903.4,583.8 908.2,587.9 C910.1,589.5 913.2,589.5 915.0,587.9 C919.3,584.1 918.0,548.8 919.7,548.8 C921.2,548.8 922.0,570.3 924.4,578.4 C926.2,584.4 928.8,593.1 931.1,593.3 C932.9,593.4 934.9,587.9 936.5,585.2 C938.0,582.5 939.1,577.2 940.6,577.1 C941.9,577.0 943.4,582.7 944.6,582.5 C946.7,582.1 947.5,567.2 950.0,563.6 C951.4,561.6 953.4,559.8 954.8,560.2 C956.9,560.8 957.9,568.6 959.5,573.0 C961.2,577.8 962.1,585.5 964.9,587.9 C966.7,589.5 969.6,589.7 971.6,589.2 C973.7,588.7 975.8,587.5 977.2,585.1 C979.8,580.7 979.4,569.9 980.4,561.2 C981.6,550.7 982.5,526.2 983.5,526.2 C984.7,526.2 984.9,565.9 986.7,577.2 C987.6,582.9 988.9,589.9 989.9,589.9 C991.1,589.8 992.2,577.2 993.1,569.2 C994.4,558.1 995.2,529.4 996.3,529.4 C997.6,529.4 998.5,571.1 1000.3,585.1 C1001.4,593.7 1001.8,601.7 1004.3,605.9 C1005.7,608.4 1008.3,610.8 1009.8,610.6 C1011.1,610.4 1012.1,607.8 1013.0,605.9 C1014.1,603.7 1014.6,597.9 1015.4,597.9 C1016.2,597.9 1016.0,604.3 1017.8,605.9 C1019.5,607.5 1023.2,606.8 1025.8,607.4 C1028.5,608.1 1030.8,609.9 1033.7,609.8 C1037.1,609.7 1042.2,608.5 1044.9,605.9 C1047.7,603.1 1048.3,597.8 1049.7,593.1 C1051.3,587.8 1052.2,575.7 1053.7,575.6 C1054.9,575.5 1056.3,583.0 1057.6,586.7 C1058.9,590.4 1060.3,598.0 1061.6,597.9 C1063.4,597.8 1065.2,575.6 1066.9,575.6 C1068.6,575.6 1069.5,592.3 1072.0,597.9 C1073.7,601.7 1076.2,606.3 1078.4,606.7 C1080.2,607.0 1082.4,605.3 1083.9,602.7 C1087.6,596.4 1087.2,561.2 1088.7,561.2 C1090.1,561.2 1089.3,590.6 1092.7,594.7 C1094.0,596.3 1096.3,595.0 1097.5,596.3 C1099.5,598.5 1098.8,608.0 1100.7,609.0 C1101.8,609.5 1103.6,608.7 1104.7,607.4 C1107.0,604.8 1107.1,590.0 1108.6,589.9 C1110.0,589.8 1111.2,601.7 1113.4,605.9 C1115.1,609.2 1117.6,613.2 1119.8,613.8 C1121.3,614.2 1123.1,613.1 1124.4,611.9 C1126.1,610.3 1126.5,606.3 1127.9,604.0 C1129.2,602.0 1131.0,598.7 1132.3,598.8 C1133.6,598.9 1134.7,602.0 1135.8,604.0 C1137.1,606.3 1137.7,610.3 1139.3,611.9 C1140.5,613.1 1142.3,613.8 1143.7,613.7 C1145.2,613.6 1146.9,612.5 1148.1,611.1 C1149.9,609.0 1150.8,601.4 1152.0,601.4 C1153.1,601.4 1153.6,608.1 1155.1,610.2 C1156.3,611.9 1157.9,613.3 1159.5,613.7 C1160.9,614.0 1162.5,613.4 1163.9,612.8 C1165.3,612.2 1166.4,610.2 1167.8,610.2 C1169.3,610.2 1170.9,613.2 1172.6,613.7 C1174.0,614.2 1175.5,614.2 1177.0,613.7 C1179.0,613.1 1181.1,610.2 1183.2,609.3 C1184.9,608.6 1186.6,608.2 1188.4,608.4 C1190.4,608.6 1192.5,610.4 1194.6,611.1 C1196.6,611.8 1198.6,612.7 1200.7,612.8 C1202.9,612.9 1205.4,611.8 1207.7,611.5 C1210.0,611.2 1212.4,610.9 1214.7,611.1 C1216.8,611.3 1218.8,612.3 1220.9,612.4 C1222.9,612.5 1225.4,612.9 1227.0,611.9 C1228.7,610.8 1229.5,608.3 1230.5,605.8 C1231.8,602.5 1232.6,593.5 1233.6,593.5 C1234.4,593.5 1235.0,598.1 1235.8,600.5 C1236.7,603.1 1238.9,608.4 1238.9,608.4" fill="none" stroke="#de0411" stroke-width="3.2" stroke-linejoin="round" stroke-linecap="round" opacity="0.93"/>
<line x1="195.9" y1="856" x2="195.9" y2="1463.3" stroke="#b5b5b5" stroke-width="3.5"/>
<line x1="188" y1="1463.5" x2="1447.8" y2="1463.5" stroke="#a0a0a0" stroke-width="3"/>
<line x1="188.4" y1="1463.3" x2="203.9" y2="1463.3" stroke="#383838" stroke-width="3"/>
<text transform="translate(136.86,1473.90) scale(0.9,1)" font-size="32.5" font-weight="bold" text-anchor="middle">0</text><text transform="translate(150.41,1473.90) scale(0.9,1)" font-size="32.5" font-weight="bold" text-anchor="middle">.</text><text transform="translate(163.96,1473.90) scale(0.9,1)" font-size="32.5" font-weight="bold" text-anchor="middle">0</text>
<line x1="191.4" y1="1398.6" x2="200.4" y2="1398.6" stroke="#383838" stroke-width="3"/>
<line x1="191.4" y1="1334.0" x2="200.4" y2="1334.0" stroke="#383838" stroke-width="3"/>
<line x1="188.4" y1="1269.3" x2="203.9" y2="1269.3" stroke="#383838" stroke-width="3"/>
<text transform="translate(136.86,1279.93) scale(0.9,1)" font-size="32.5" font-weight="bold" text-anchor="middle">0</text><text transform="translate(150.41,1279.93) scale(0.9,1)" font-size="32.5" font-weight="bold" text-anchor="middle">.</text><text transform="translate(163.96,1279.93) scale(0.9,1)" font-size="32.5" font-weight="bold" text-anchor="middle">1</text><rect x="155.84" y="1275.38" width="6.52" height="6.17" fill="#fff"/><rect x="166.86" y="1275.38" width="5.23" height="6.17" fill="#fff"/>
<line x1="191.4" y1="1204.7" x2="200.4" y2="1204.7" stroke="#383838" stroke-width="3"/>
<line x1="191.4" y1="1140.0" x2="200.4" y2="1140.0" stroke="#383838" stroke-width="3"/>
<line x1="188.4" y1="1075.4" x2="203.9" y2="1075.4" stroke="#383838" stroke-width="3"/>
<text transform="translate(136.86,1085.96) scale(0.9,1)" font-size="32.5" font-weight="bold" text-anchor="middle">0</text><text transform="translate(150.41,1085.96) scale(0.9,1)" font-size="32.5" font-weight="bold" text-anchor="middle">.</text><text transform="translate(163.96,1085.96) scale(0.9,1)" font-size="32.5" font-weight="bold" text-anchor="middle">2</text>
<line x1="191.4" y1="1010.7" x2="200.4" y2="1010.7" stroke="#383838" stroke-width="3"/>
<line x1="191.4" y1="946.0" x2="200.4" y2="946.0" stroke="#383838" stroke-width="3"/>
<line x1="188.4" y1="881.4" x2="203.9" y2="881.4" stroke="#383838" stroke-width="3"/>
<text transform="translate(136.86,891.99) scale(0.9,1)" font-size="32.5" font-weight="bold" text-anchor="middle">0</text><text transform="translate(150.41,891.99) scale(0.9,1)" font-size="32.5" font-weight="bold" text-anchor="middle">.</text><text transform="translate(163.96,891.99) scale(0.9,1)" font-size="32.5" font-weight="bold" text-anchor="middle">3</text>
<line x1="237.4" y1="1455.5" x2="237.4" y2="1471.5" stroke="#383838" stroke-width="2.6"/>
<text transform="translate(210.29,1512.50) scale(0.9,1)" font-size="32.5" font-weight="bold" text-anchor="middle">3</text><text transform="translate(228.36,1512.50) scale(0.9,1)" font-size="32.5" font-weight="bold" text-anchor="middle">5</text><text transform="translate(246.44,1512.50) scale(0.9,1)" font-size="32.5" font-weight="bold" text-anchor="middle">0</text><text transform="translate(264.51,1512.50) scale(0.9,1)" font-size="32.5" font-weight="bold" text-anchor="middle">0</text>
<line x1="306.9" y1="1459.0" x2="306.9" y2="1468.0" stroke="#383838" stroke-width="2.8"/>
<line x1="376.5" y1="1459.0" x2="376.5" y2="1468.0" stroke="#383838" stroke-width="2.8"/>
<line x1="446.0" y1="1455.5" x2="446.0" y2="1471.5" stroke="#383838" stroke-width="2.6"/>
<text transform="translate(418.89,1512.50) scale(0.9,1)" font-size="32.5" font-weight="bold" text-anchor="middle">3</text><text transform="translate(436.96,1512.50) scale(0.9,1)" font-size="32.5" font-weight="bold" text-anchor="middle">0</text><text transform="translate(455.04,1512.50) scale(0.9,1)" font-size="32.5" font-weight="bold" text-anchor="middle">0</text><text transform="translate(473.11,1512.50) scale(0.9,1)" font-size="32.5" font-weight="bold" text-anchor="middle">0</text>
<line x1="515.5" y1="1459.0" x2="515.5" y2="1468.0" stroke="#383838" stroke-width="2.8"/>
<line x1="585.1" y1="1459.0" x2="585.1" y2="1468.0" stroke="#383838" stroke-width="2.8"/>
<line x1="654.6" y1="1455.5" x2="654.6" y2="1471.5" stroke="#383838" stroke-width="2.6"/>
<text transform="translate(627.49,1512.50) scale(0.9,1)" font-size="32.5" font-weight="bold" text-anchor="middle">2</text><text transform="translate(645.56,1512.50) scale(0.9,1)" font-size="32.5" font-weight="bold" text-anchor="middle">5</text><text transform="translate(663.64,1512.50) scale(0.9,1)" font-size="32.5" font-weight="bold" text-anchor="middle">0</text><text transform="translate(681.71,1512.50) scale(0.9,1)" font-size="32.5" font-weight="bold" text-anchor="middle">0</text>
<line x1="724.1" y1="1459.0" x2="724.1" y2="1468.0" stroke="#383838" stroke-width="2.8"/>
<line x1="793.7" y1="1459.0" x2="793.7" y2="1468.0" stroke="#383838" stroke-width="2.8"/>
<line x1="863.2" y1="1455.5" x2="863.2" y2="1471.5" stroke="#383838" stroke-width="2.6"/>
<text transform="translate(836.09,1512.50) scale(0.9,1)" font-size="32.5" font-weight="bold" text-anchor="middle">2</text><text transform="translate(854.16,1512.50) scale(0.9,1)" font-size="32.5" font-weight="bold" text-anchor="middle">0</text><text transform="translate(872.24,1512.50) scale(0.9,1)" font-size="32.5" font-weight="bold" text-anchor="middle">0</text><text transform="translate(890.31,1512.50) scale(0.9,1)" font-size="32.5" font-weight="bold" text-anchor="middle">0</text>
<line x1="932.7" y1="1459.0" x2="932.7" y2="1468.0" stroke="#383838" stroke-width="2.8"/>
<line x1="1002.3" y1="1459.0" x2="1002.3" y2="1468.0" stroke="#383838" stroke-width="2.8"/>
<line x1="1071.8" y1="1455.5" x2="1071.8" y2="1471.5" stroke="#383838" stroke-width="2.6"/>
<text transform="translate(1044.69,1512.50) scale(0.9,1)" font-size="32.5" font-weight="bold" text-anchor="middle">1</text><rect x="1036.56" y="1507.95" width="6.52" height="6.17" fill="#fff"/><rect x="1047.58" y="1507.95" width="5.23" height="6.17" fill="#fff"/><text transform="translate(1062.76,1512.50) scale(0.9,1)" font-size="32.5" font-weight="bold" text-anchor="middle">5</text><text transform="translate(1080.84,1512.50) scale(0.9,1)" font-size="32.5" font-weight="bold" text-anchor="middle">0</text><text transform="translate(1098.91,1512.50) scale(0.9,1)" font-size="32.5" font-weight="bold" text-anchor="middle">0</text>
<line x1="1141.3" y1="1459.0" x2="1141.3" y2="1468.0" stroke="#383838" stroke-width="2.8"/>
<line x1="1210.9" y1="1459.0" x2="1210.9" y2="1468.0" stroke="#383838" stroke-width="2.8"/>
<line x1="1280.4" y1="1455.5" x2="1280.4" y2="1471.5" stroke="#383838" stroke-width="2.6"/>
<text transform="translate(1253.29,1512.50) scale(0.9,1)" font-size="32.5" font-weight="bold" text-anchor="middle">1</text><rect x="1245.16" y="1507.95" width="6.52" height="6.17" fill="#fff"/><rect x="1256.18" y="1507.95" width="5.23" height="6.17" fill="#fff"/><text transform="translate(1271.36,1512.50) scale(0.9,1)" font-size="32.5" font-weight="bold" text-anchor="middle">0</text><text transform="translate(1289.44,1512.50) scale(0.9,1)" font-size="32.5" font-weight="bold" text-anchor="middle">0</text><text transform="translate(1307.51,1512.50) scale(0.9,1)" font-size="32.5" font-weight="bold" text-anchor="middle">0</text>
<line x1="1349.9" y1="1459.0" x2="1349.9" y2="1468.0" stroke="#383838" stroke-width="2.8"/>
<line x1="1419.5" y1="1459.0" x2="1419.5" y2="1468.0" stroke="#383838" stroke-width="2.8"/>
<text transform="translate(37.52,894.00) scale(0.93,1)" font-size="53" font-weight="bold" text-anchor="middle">(</text><text transform="translate(62.54,894.00) scale(0.93,1)" font-size="53" font-weight="bold" text-anchor="middle">b</text><text transform="translate(87.56,894.00) scale(0.93,1)" font-size="53" font-weight="bold" text-anchor="middle">)</text>
<text transform="translate(78.3,1157) rotate(-90)" font-size="45.4" text-anchor="middle">Absorbance</text>
<text x="566" y="1593.7" font-size="45">Wavelength (<tspan dx="1.5">cm</tspan><tspan font-size="30" dx="0" dy="-11">−</tspan><tspan font-size="30" dx="0.5">1</tspan><tspan dx="2" dy="11">)</tspan></text>
<line x1="331.6" y1="879.8" x2="383.2" y2="879.8" stroke="#de0411" stroke-width="4"/>
<line x1="331.6" y1="939.5" x2="383.2" y2="939.5" stroke="#1b3d8d" stroke-width="4"/>
<text x="396.8" y="893.4" font-size="37.6">serine irradiated for 120 s</text>
<text x="396.8" y="953.0999999999999" font-size="37.6">serine non-irradiated</text>
<rect x="732.47" y="888.89" width="7.55" height="6.02" fill="#fff"/><rect x="743.92" y="888.89" width="6.98" height="6.02" fill="#fff"/>
<rect x="910.18" y="1579.10" width="5.95" height="4.80" fill="#fff"/><rect x="919.38" y="1579.10" width="5.50" height="4.80" fill="#fff"/>
<path d="M197.1,1387.3 C197.1,1387.3 197.7,1381.1 198.1,1378.3 C198.4,1376.0 198.8,1371.9 199.1,1371.9 C199.5,1371.9 199.7,1379.4 200.1,1382.7 C200.3,1385.3 200.7,1389.9 201.0,1389.9 C201.3,1389.9 201.5,1383.5 201.9,1381.1 C202.1,1379.5 202.5,1378.8 202.7,1377.2 C203.1,1374.7 203.0,1368.2 203.6,1368.0 C203.9,1367.9 204.3,1368.7 204.6,1369.3 C205.0,1370.4 205.2,1374.4 205.5,1374.4 C205.8,1374.4 206.2,1371.5 206.6,1369.8 C207.0,1367.6 207.2,1364.6 207.6,1362.4 C208.0,1360.6 208.4,1359.4 208.7,1357.7 C209.1,1355.8 209.3,1353.8 209.6,1351.4 C209.9,1348.0 210.1,1342.8 210.4,1339.3 C210.7,1336.5 211.0,1332.0 211.3,1332.0 C211.6,1332.0 211.7,1337.1 212.3,1338.4 C212.5,1339.1 213.0,1339.1 213.2,1339.8 C213.9,1341.5 213.8,1346.7 214.2,1349.1 C214.5,1350.6 214.9,1352.6 215.2,1352.6 C215.8,1352.5 216.0,1342.5 216.4,1338.1 C216.8,1334.5 217.2,1328.1 217.7,1328.1 C218.0,1328.1 218.4,1331.6 218.8,1331.7 C219.2,1331.7 219.6,1330.0 219.9,1330.0 C220.5,1330.1 220.5,1334.1 221.1,1335.0 C221.4,1335.5 221.9,1335.9 222.2,1335.8 C223.1,1335.4 222.8,1328.1 223.3,1325.3 C223.6,1323.5 224.1,1322.8 224.4,1321.0 C224.9,1318.2 225.1,1313.3 225.5,1310.1 C225.8,1307.6 226.0,1304.7 226.6,1303.5 C226.9,1303.0 227.4,1303.1 227.8,1302.5 C228.5,1301.1 228.3,1295.8 228.9,1293.7 C229.2,1292.4 229.7,1292.0 230.0,1290.8 C230.5,1288.8 230.7,1285.4 231.1,1282.3 C231.5,1278.6 231.7,1273.4 232.1,1269.8 C232.5,1267.1 232.8,1262.5 233.2,1262.5 C233.5,1262.5 233.8,1265.6 234.2,1265.6 C234.5,1265.6 234.9,1263.7 235.2,1263.7 C235.6,1263.7 235.9,1267.2 236.3,1267.3 C236.6,1267.3 237.0,1265.3 237.3,1265.3 C237.7,1265.4 238.0,1268.9 238.3,1268.9 C238.7,1268.9 239.1,1265.4 239.4,1263.1 C239.9,1260.1 240.0,1254.6 240.6,1252.1 C240.9,1250.7 241.4,1250.3 241.7,1249.0 C242.2,1246.7 241.9,1239.9 242.8,1239.3 C243.1,1239.1 243.6,1239.3 243.9,1239.7 C244.7,1240.6 244.4,1246.4 245.1,1246.5 C245.4,1246.6 245.8,1245.0 246.2,1245.1 C246.7,1245.2 246.8,1248.0 247.3,1249.0 C247.6,1249.7 248.0,1250.7 248.3,1250.7 C248.8,1250.6 249.0,1246.4 249.4,1246.4 C249.7,1246.4 250.1,1249.9 250.4,1249.8 C250.8,1249.8 251.0,1244.7 251.5,1244.6 C251.8,1244.6 252.1,1246.2 252.5,1246.4 C252.8,1246.5 253.2,1246.4 253.5,1246.1 C254.0,1245.6 254.0,1242.8 254.4,1242.7 C254.7,1242.6 255.1,1243.8 255.4,1243.7 C255.8,1243.6 256.0,1241.9 256.4,1241.2 C256.7,1240.7 257.2,1239.8 257.5,1239.9 C258.1,1240.1 258.2,1245.0 258.7,1245.1 C259.0,1245.1 259.5,1242.8 259.8,1242.8 C260.3,1242.8 260.3,1246.8 261.0,1247.2 C261.3,1247.4 261.8,1246.8 262.1,1247.0 C262.6,1247.3 262.9,1248.4 263.2,1249.5 C263.8,1251.3 263.7,1255.5 264.4,1256.9 C264.7,1257.6 265.2,1257.5 265.5,1258.2 C266.1,1259.3 266.2,1263.8 266.6,1263.8 C266.9,1263.8 267.3,1261.4 267.6,1259.8 C268.0,1257.7 268.2,1252.2 268.6,1252.2 C268.9,1252.2 269.4,1255.2 269.7,1257.2 C270.1,1260.2 270.3,1265.4 270.7,1268.3 C271.0,1270.1 271.3,1272.7 271.8,1272.8 C272.1,1272.8 272.6,1270.8 272.9,1270.8 C273.4,1270.9 273.7,1275.2 274.1,1275.2 C274.4,1275.2 274.8,1270.5 275.2,1270.5 C275.6,1270.5 275.9,1275.3 276.3,1275.3 C276.7,1275.3 277.0,1270.9 277.4,1270.8 C277.8,1270.8 278.2,1273.9 278.6,1273.9 C278.9,1273.9 279.3,1270.6 279.7,1270.5 C280.0,1270.5 280.5,1271.9 280.8,1272.8 C281.2,1273.9 281.4,1276.8 281.8,1276.8 C282.1,1276.9 282.5,1273.6 282.8,1273.7 C283.1,1273.7 283.1,1279.0 283.7,1279.4 C284.0,1279.6 284.4,1279.4 284.7,1279.2 C285.1,1278.9 285.6,1277.5 285.9,1277.6 C286.4,1277.7 286.7,1281.3 287.1,1281.3 C287.5,1281.3 288.0,1278.3 288.4,1278.3 C288.8,1278.3 289.1,1282.7 289.6,1282.7 C289.9,1282.8 290.3,1280.1 290.8,1280.0 C291.2,1280.0 291.3,1281.1 292.0,1281.8 C293.5,1283.4 298.8,1287.9 300.4,1288.8 C300.9,1289.1 301.2,1289.4 301.6,1289.3 C302.1,1289.1 302.4,1287.7 302.8,1287.7 C303.2,1287.8 303.6,1290.0 304.0,1290.0 C304.4,1290.0 304.8,1288.3 305.2,1288.3 C305.6,1288.3 306.0,1289.9 306.4,1289.8 C306.8,1289.8 307.2,1288.1 307.6,1288.1 C308.0,1288.0 308.4,1289.3 308.8,1289.3 C309.2,1289.3 309.6,1288.1 310.0,1288.2 C310.4,1288.2 310.8,1289.8 311.2,1289.8 C311.6,1289.8 312.0,1287.8 312.4,1287.7 C312.8,1287.6 313.2,1288.7 313.6,1288.8 C314.0,1288.9 314.4,1288.7 314.7,1288.4 C315.2,1288.0 315.4,1286.4 315.8,1286.3 C316.2,1286.1 316.6,1286.9 316.9,1286.8 C317.4,1286.6 317.6,1284.6 318.1,1284.5 C318.4,1284.4 318.8,1285.4 319.2,1285.4 C319.6,1285.2 319.9,1282.8 320.3,1282.7 C320.6,1282.7 321.0,1284.2 321.4,1284.2 C321.8,1284.2 322.0,1282.4 322.5,1282.2 C322.8,1282.1 323.3,1282.2 323.6,1282.5 C324.1,1283.0 324.2,1285.4 324.7,1285.6 C325.0,1285.7 325.5,1284.8 325.8,1284.8 C326.2,1284.9 326.6,1286.6 326.9,1286.6 C327.3,1286.5 327.7,1284.5 328.0,1283.2 C328.4,1281.7 328.7,1279.4 329.1,1278.0 C329.4,1276.9 329.9,1276.4 330.2,1275.4 C330.6,1274.2 330.9,1272.4 331.3,1271.1 C331.6,1269.9 332.0,1268.6 332.4,1267.8 C332.7,1267.2 333.2,1267.0 333.5,1266.3 C334.0,1265.3 334.1,1263.1 334.6,1262.0 C334.9,1261.2 335.3,1260.6 335.7,1260.1 C336.0,1259.7 336.5,1259.6 336.8,1259.2 C337.2,1258.6 337.4,1257.0 337.9,1256.7 C338.2,1256.5 338.7,1257.0 339.0,1256.8 C339.5,1256.4 339.6,1253.8 340.1,1253.6 C340.4,1253.4 340.9,1254.1 341.2,1253.9 C341.7,1253.7 341.9,1252.2 342.3,1251.3 C342.7,1250.4 342.9,1248.9 343.4,1248.7 C343.7,1248.6 344.2,1249.2 344.5,1249.1 C345.0,1248.8 345.1,1246.4 345.6,1246.1 C345.9,1245.9 346.4,1246.5 346.7,1246.3 C347.2,1245.9 347.3,1243.6 347.8,1243.0 C348.1,1242.7 348.6,1242.8 348.9,1242.5 C349.3,1242.2 349.7,1241.8 350.0,1241.2 C350.5,1240.2 350.6,1237.8 351.1,1237.2 C351.5,1236.8 352.0,1237.1 352.3,1236.7 C352.8,1236.2 353.0,1234.4 353.4,1233.6 C353.7,1233.0 354.1,1232.1 354.5,1232.1 C354.9,1232.1 355.2,1233.7 355.6,1233.7 C356.0,1233.7 356.3,1231.8 356.7,1231.7 C357.0,1231.7 357.5,1233.1 357.8,1233.1 C358.2,1233.1 358.4,1231.4 358.9,1231.2 C359.2,1231.0 359.7,1231.2 360.0,1231.4 C360.5,1231.7 360.7,1233.2 361.1,1233.3 C361.4,1233.4 361.9,1232.7 362.2,1232.8 C362.7,1233.0 362.8,1235.8 363.3,1236.1 C363.6,1236.2 364.1,1235.5 364.4,1235.7 C364.9,1235.9 365.0,1237.7 365.5,1238.2 C365.8,1238.7 366.2,1239.1 366.6,1239.1 C367.0,1239.1 367.3,1237.9 367.7,1237.9 C368.1,1237.9 368.5,1239.2 368.8,1239.1 C369.2,1239.1 369.5,1237.5 369.9,1237.4 C370.2,1237.4 370.7,1238.4 371.0,1238.4 C371.4,1238.3 371.7,1236.2 372.1,1236.1 C372.4,1236.1 372.9,1237.1 373.2,1237.1 C373.6,1237.0 373.9,1235.4 374.3,1235.3 C374.6,1235.2 375.1,1235.9 375.4,1235.8 C375.8,1235.7 376.2,1234.6 376.5,1233.8 C377.0,1232.7 377.1,1230.3 377.6,1229.4 C377.9,1228.8 378.4,1228.8 378.7,1228.2 C379.2,1227.5 379.5,1226.1 379.8,1224.8 C380.2,1223.2 380.5,1220.8 380.9,1219.4 C381.3,1218.4 381.7,1218.0 382.1,1216.9 C382.5,1215.4 382.8,1212.8 383.2,1211.1 C383.5,1209.6 383.9,1208.3 384.3,1207.1 C384.6,1206.1 385.1,1205.3 385.4,1204.3 C385.8,1202.9 386.0,1200.6 386.5,1199.6 C386.8,1199.0 387.3,1198.9 387.6,1198.4 C388.1,1197.4 388.4,1195.5 388.7,1193.9 C389.1,1192.0 389.4,1189.6 389.8,1187.8 C390.1,1186.2 390.6,1185.2 390.9,1183.6 C391.3,1181.6 391.6,1178.6 392.0,1176.4 C392.3,1174.7 392.6,1173.0 393.1,1171.8 C393.4,1171.0 393.8,1170.7 394.2,1169.9 C394.6,1168.8 394.7,1166.9 395.2,1166.0 C395.5,1165.4 396.0,1165.3 396.2,1164.8 C396.7,1163.9 396.8,1161.7 397.3,1160.8 C397.6,1160.3 398.1,1160.3 398.3,1159.9 C398.8,1159.1 399.0,1157.5 399.4,1156.4 C399.8,1155.3 400.1,1154.0 400.5,1153.1 C400.8,1152.3 401.3,1151.9 401.6,1151.1 C402.0,1150.0 402.3,1148.2 402.7,1147.1 C403.0,1146.3 403.5,1145.9 403.8,1145.2 C404.2,1144.3 404.4,1142.7 404.9,1142.0 C405.2,1141.5 405.6,1141.0 406.0,1141.0 C406.4,1140.9 406.8,1141.8 407.1,1141.7 C407.5,1141.6 407.8,1140.3 408.2,1140.1 C408.6,1140.0 409.0,1140.6 409.4,1140.5 C409.8,1140.4 410.1,1139.0 410.5,1138.9 C410.8,1138.9 411.2,1139.6 411.6,1139.6 C412.0,1139.5 412.3,1138.9 412.7,1138.7 C413.1,1138.5 413.4,1138.3 413.8,1138.3 C414.2,1138.4 414.5,1139.2 414.9,1139.2 C415.3,1139.2 415.6,1138.1 416.0,1138.1 C416.4,1138.0 416.7,1139.0 417.1,1139.0 C417.5,1139.1 417.8,1138.2 418.2,1138.3 C418.6,1138.3 418.9,1139.2 419.3,1139.2 C419.7,1139.1 420.0,1138.0 420.4,1138.0 C420.7,1137.9 421.1,1138.5 421.5,1138.7 C421.9,1138.9 422.2,1139.4 422.6,1139.4 C423.0,1139.4 423.3,1138.3 423.7,1138.3 C424.1,1138.4 424.4,1139.6 424.8,1139.6 C425.1,1139.7 425.6,1138.9 425.9,1139.0 C426.3,1139.0 426.6,1140.1 427.0,1140.2 C427.3,1140.3 427.8,1140.1 428.1,1139.8 C428.6,1139.4 428.7,1137.8 429.2,1137.4 C429.5,1137.1 430.0,1137.3 430.3,1137.0 C430.8,1136.6 431.0,1135.1 431.4,1134.5 C431.7,1133.9 432.1,1133.3 432.5,1133.2 C432.9,1133.1 433.2,1133.9 433.6,1133.9 C434.0,1133.9 434.4,1133.3 434.7,1133.4 C435.1,1133.5 435.5,1134.6 435.9,1134.7 C436.2,1134.7 436.6,1133.9 437.0,1134.0 C437.4,1134.1 437.6,1135.6 438.1,1135.7 C438.4,1135.9 438.8,1135.6 439.2,1135.4 C439.6,1135.2 439.9,1134.6 440.3,1134.5 C440.6,1134.4 441.1,1134.9 441.4,1134.7 C441.8,1134.5 442.1,1133.1 442.5,1133.1 C442.8,1133.0 443.3,1133.9 443.6,1133.8 C444.0,1133.7 444.2,1132.2 444.7,1132.0 C445.0,1131.8 445.5,1131.9 445.8,1132.1 C446.2,1132.3 446.5,1133.0 446.9,1133.1 C447.2,1133.2 447.7,1132.7 448.0,1132.9 C448.4,1133.0 448.7,1134.1 449.1,1134.2 C449.4,1134.3 449.9,1133.5 450.2,1133.6 C450.6,1133.7 450.9,1135.0 451.3,1135.3 C451.6,1135.5 452.1,1135.2 452.4,1135.4 C452.9,1135.8 453.2,1137.2 453.5,1138.2 C453.9,1139.5 454.2,1141.3 454.6,1142.5 C454.9,1143.4 455.4,1143.9 455.7,1144.8 C456.1,1145.9 456.3,1148.4 456.8,1148.6 C457.1,1148.7 457.6,1148.3 457.9,1148.0 C458.4,1147.5 458.5,1145.9 459.0,1145.6 C459.3,1145.4 459.8,1145.8 460.1,1145.7 C460.5,1145.4 460.8,1144.4 461.2,1143.9 C461.5,1143.6 462.0,1143.0 462.3,1143.1 C462.7,1143.2 463.0,1144.6 463.4,1144.7 C463.8,1144.7 464.2,1143.8 464.5,1143.9 C465.0,1144.1 465.2,1146.1 465.6,1146.3 C466.0,1146.4 466.4,1145.6 466.8,1145.7 C467.2,1145.9 467.4,1147.7 467.9,1147.8 C468.2,1147.9 468.6,1147.0 469.0,1147.1 C469.4,1147.1 469.8,1148.0 470.1,1148.6 C470.5,1149.4 470.8,1150.7 471.2,1151.4 C471.5,1152.0 472.0,1152.2 472.3,1152.8 C472.8,1153.7 472.9,1155.8 473.4,1156.6 C473.7,1157.2 474.2,1157.2 474.5,1157.7 C475.0,1158.5 475.2,1160.0 475.6,1160.8 C475.9,1161.5 476.3,1162.2 476.7,1162.4 C477.0,1162.6 477.5,1162.4 477.8,1162.6 C478.3,1162.9 478.4,1164.2 478.9,1164.6 C479.2,1164.8 479.7,1164.6 480.0,1164.8 C480.4,1165.1 480.7,1166.3 481.1,1166.6 C481.4,1166.8 481.9,1166.6 482.2,1166.8 C482.6,1167.1 482.9,1168.0 483.3,1168.5 C483.7,1169.0 484.0,1169.6 484.4,1169.8 C484.7,1169.9 485.2,1169.3 485.5,1169.4 C485.9,1169.6 486.2,1170.9 486.6,1171.3 C486.9,1171.6 487.4,1171.4 487.7,1171.8 C488.2,1172.4 488.5,1174.1 488.8,1175.5 C489.2,1177.2 489.5,1179.7 489.9,1181.3 C490.2,1182.5 490.7,1183.2 491.0,1184.3 C491.4,1185.8 491.7,1187.7 492.1,1189.5 C492.5,1191.4 492.8,1193.7 493.2,1195.4 C493.6,1196.8 494.0,1197.6 494.3,1199.1 C494.8,1200.9 495.0,1203.6 495.5,1205.5 C495.8,1207.1 496.2,1208.3 496.6,1209.8 C497.0,1211.7 497.3,1214.0 497.7,1215.9 C498.0,1217.5 498.4,1219.1 498.8,1220.4 C499.1,1221.5 499.6,1222.3 499.9,1223.3 C500.3,1224.6 500.6,1226.3 501.0,1227.5 C501.3,1228.3 501.8,1228.8 502.1,1229.7 C502.5,1230.9 502.8,1233.0 503.2,1234.2 C503.5,1235.1 504.0,1235.6 504.3,1236.5 C504.7,1237.7 504.9,1239.9 505.4,1241.0 C505.7,1241.9 506.2,1242.2 506.5,1243.0 C506.9,1244.0 507.2,1245.7 507.6,1246.9 C507.9,1247.9 508.3,1248.8 508.7,1249.6 C509.0,1250.1 509.5,1250.3 509.8,1250.9 C510.3,1251.7 510.4,1253.5 510.9,1254.2 C511.2,1254.7 511.7,1254.7 512.0,1255.2 C512.5,1255.9 512.6,1257.8 513.1,1258.6 C513.4,1259.1 513.9,1259.1 514.2,1259.6 C514.7,1260.4 514.9,1261.8 515.3,1262.7 C515.6,1263.4 516.0,1263.9 516.4,1264.5 C516.8,1265.2 517.2,1265.8 517.5,1266.7 C517.9,1267.8 518.1,1269.7 518.6,1270.7 C518.9,1271.4 519.4,1271.7 519.7,1272.4 C520.2,1273.4 520.3,1275.3 520.8,1276.2 C521.1,1276.8 521.6,1276.9 521.9,1277.6 C522.4,1278.5 522.5,1280.8 523.0,1281.8 C523.3,1282.4 523.8,1282.5 524.1,1283.1 C524.6,1284.0 524.8,1285.6 525.2,1286.6 C525.5,1287.4 525.9,1288.2 526.3,1288.7 C526.7,1289.1 527.1,1289.2 527.4,1289.7 C527.9,1290.4 528.0,1292.2 528.5,1292.8 C528.9,1293.3 529.3,1293.2 529.7,1293.6 C530.1,1294.2 530.4,1295.5 530.8,1296.2 C531.1,1296.8 531.5,1297.3 531.9,1297.6 C532.2,1297.9 532.7,1297.8 533.0,1298.1 C533.4,1298.5 533.6,1299.8 534.1,1300.0 C534.4,1300.2 534.9,1299.7 535.2,1299.9 C535.7,1300.1 535.8,1301.7 536.3,1301.9 C536.6,1302.0 537.1,1301.5 537.4,1301.6 C537.8,1301.7 538.1,1302.7 538.5,1303.2 C538.9,1303.7 539.2,1304.2 539.6,1304.4 C539.9,1304.7 540.4,1304.6 540.7,1304.8 C541.1,1305.1 541.4,1306.1 541.8,1306.4 C542.1,1306.7 542.6,1306.5 542.9,1306.7 C543.3,1307.0 543.6,1308.1 544.0,1308.3 C544.3,1308.5 544.8,1308.0 545.1,1308.2 C545.6,1308.5 545.7,1310.3 546.2,1310.7 C546.5,1310.9 546.9,1310.9 547.3,1310.9 C547.7,1310.9 548.1,1310.7 548.5,1310.8 C549.0,1311.0 549.3,1311.9 549.8,1311.9 C550.2,1312.0 550.6,1311.1 551.0,1311.2 C551.4,1311.2 551.8,1312.3 552.2,1312.3 C552.6,1312.4 553.1,1311.6 553.5,1311.7 C553.9,1311.7 554.3,1312.9 554.7,1313.0 C555.1,1313.0 555.5,1312.0 555.9,1312.0 C556.4,1312.1 556.7,1313.2 557.2,1313.3 C557.5,1313.4 558.0,1313.0 558.4,1313.1 C558.8,1313.2 559.2,1313.7 559.5,1314.2 C559.9,1314.8 560.1,1316.0 560.6,1316.5 C560.9,1316.8 561.4,1316.8 561.7,1317.2 C562.2,1317.7 562.3,1319.1 562.8,1319.5 C563.1,1319.8 563.6,1319.5 563.9,1319.8 C564.4,1320.1 564.6,1321.2 565.0,1321.9 C565.4,1322.7 565.8,1323.7 566.2,1324.3 C566.6,1324.8 567.1,1325.0 567.4,1325.5 C567.9,1326.2 568.2,1327.5 568.7,1328.2 C569.0,1328.7 569.5,1328.8 569.9,1329.3 C570.4,1330.0 570.6,1331.7 571.1,1332.3 C571.5,1332.7 572.0,1332.6 572.3,1333.0 C572.9,1333.6 573.0,1335.5 573.6,1336.1 C573.9,1336.6 574.4,1336.5 574.8,1336.9 C575.3,1337.5 575.6,1338.8 576.0,1339.6 C576.4,1340.4 576.6,1341.4 577.1,1341.9 C577.4,1342.2 577.9,1342.1 578.2,1342.4 C578.7,1342.9 578.8,1344.5 579.3,1345.0 C579.6,1345.4 580.1,1345.3 580.4,1345.7 C580.9,1346.2 581.0,1348.0 581.5,1348.5 C581.8,1348.8 582.3,1348.7 582.6,1349.0 C583.1,1349.5 583.2,1351.1 583.7,1351.8 C584.0,1352.3 584.4,1352.6 584.8,1352.8 C585.2,1353.0 585.6,1353.0 585.9,1353.3 C586.4,1353.6 586.6,1354.9 587.0,1355.2 C587.4,1355.3 587.8,1355.0 588.1,1355.2 C588.6,1355.5 588.8,1357.0 589.2,1357.3 C589.6,1357.5 590.0,1357.2 590.4,1357.4 C590.8,1357.6 591.0,1358.9 591.5,1359.2 C591.8,1359.3 592.3,1359.0 592.6,1359.1 C593.0,1359.3 593.3,1360.2 593.7,1360.6 C594.0,1360.9 594.5,1361.5 594.8,1361.4 C595.2,1361.3 595.5,1360.0 595.9,1360.0 C596.3,1360.0 596.6,1361.3 597.0,1361.3 C597.4,1361.3 597.7,1360.1 598.1,1360.1 C598.5,1360.1 598.8,1361.5 599.2,1361.6 C599.5,1361.7 600.0,1361.3 600.3,1361.0 C600.7,1360.7 601.0,1360.0 601.4,1359.9 C601.7,1359.8 602.1,1360.3 602.5,1360.2 C602.9,1360.0 603.1,1358.8 603.5,1358.7 C603.9,1358.6 604.3,1359.2 604.6,1359.1 C605.0,1358.9 605.3,1358.0 605.7,1357.7 C606.1,1357.5 606.6,1357.2 606.9,1357.3 C607.4,1357.5 607.7,1358.9 608.2,1359.0 C608.6,1359.0 609.0,1357.8 609.4,1357.8 C609.8,1357.8 610.2,1359.3 610.7,1359.4 C611.0,1359.4 611.5,1358.3 611.9,1358.4 C612.3,1358.4 612.7,1359.8 613.1,1359.8 C613.5,1359.9 613.9,1359.2 614.4,1359.2 C614.8,1359.2 615.2,1359.4 615.6,1359.8 C616.1,1360.3 616.3,1361.6 616.7,1362.2 C617.1,1362.7 617.5,1362.8 617.9,1363.2 C618.3,1363.8 618.6,1365.1 619.0,1365.7 C619.4,1366.1 619.8,1366.1 620.2,1366.5 C620.6,1367.0 620.9,1368.3 621.3,1369.0 C621.7,1369.6 622.0,1370.3 622.5,1370.7 C622.8,1371.1 623.3,1371.1 623.6,1371.5 C624.1,1372.0 624.3,1373.2 624.8,1373.6 C625.1,1373.9 625.6,1373.6 626.0,1373.9 C626.5,1374.4 626.7,1375.8 627.1,1376.5 C627.5,1376.9 627.9,1377.1 628.3,1377.5 C628.7,1377.9 629.0,1378.2 629.3,1378.6 C629.6,1379.3 629.8,1380.5 630.2,1381.1 C630.5,1381.4 630.8,1381.6 631.2,1381.8 C631.5,1382.0 632.0,1381.8 632.3,1382.0 C632.8,1382.3 633.0,1383.6 633.4,1383.6 C633.8,1383.7 634.2,1382.8 634.6,1382.8 C635.0,1382.9 635.2,1384.5 635.7,1384.8 C636.0,1384.9 636.4,1384.5 636.8,1384.6 C637.2,1384.7 637.7,1384.9 638.0,1385.2 C638.5,1385.8 638.7,1387.6 639.2,1388.0 C639.6,1388.3 640.1,1387.9 640.4,1388.1 C641.0,1388.5 641.1,1390.1 641.7,1390.6 C642.0,1390.9 642.5,1390.7 642.9,1391.0 C643.4,1391.5 643.6,1393.0 644.1,1393.6 C644.4,1394.1 644.9,1394.4 645.3,1394.5 C645.7,1394.6 646.1,1394.3 646.4,1394.4 C646.9,1394.6 647.1,1395.8 647.6,1396.0 C647.9,1396.1 648.4,1395.4 648.7,1395.5 C649.2,1395.7 649.4,1397.4 649.9,1397.5 C650.2,1397.7 650.6,1397.0 651.0,1397.0 C651.4,1397.1 651.7,1398.3 652.1,1398.4 C652.5,1398.5 652.9,1397.8 653.3,1397.9 C653.7,1398.1 654.0,1399.6 654.4,1399.8 C654.8,1399.9 655.2,1399.2 655.6,1399.2 C656.0,1399.3 656.3,1399.9 656.7,1400.2 C657.1,1400.5 657.5,1401.0 657.9,1401.1 C658.3,1401.2 658.8,1400.7 659.1,1400.8 C659.6,1400.9 659.9,1402.2 660.3,1402.3 C660.7,1402.4 661.2,1401.5 661.6,1401.5 C662.0,1401.6 662.3,1403.0 662.8,1403.2 C663.1,1403.3 663.6,1402.7 664.0,1402.7 C664.4,1402.8 664.8,1403.5 665.2,1403.7 C665.6,1403.9 666.0,1404.1 666.3,1404.0 C666.8,1403.9 667.1,1403.0 667.5,1403.0 C667.8,1402.9 668.2,1403.8 668.6,1403.8 C669.0,1403.8 669.4,1402.9 669.8,1402.8 C670.1,1402.7 670.5,1402.8 670.9,1403.0 C671.3,1403.2 671.7,1403.9 672.1,1404.0 C672.5,1404.0 673.0,1403.0 673.3,1403.0 C673.8,1403.1 674.1,1404.6 674.5,1404.7 C674.9,1404.8 675.4,1403.9 675.8,1404.0 C676.2,1404.1 676.5,1405.3 677.0,1405.4 C677.3,1405.5 677.8,1404.8 678.2,1404.8 C678.6,1404.9 679.0,1405.5 679.4,1405.9 C679.8,1406.4 680.1,1407.5 680.5,1407.7 C680.9,1407.8 681.3,1407.3 681.6,1407.5 C682.1,1407.8 682.3,1409.5 682.8,1409.8 C683.1,1410.0 683.5,1409.7 683.9,1409.8 C684.3,1410.1 684.6,1411.0 685.0,1411.5 C685.4,1411.9 685.8,1412.5 686.2,1412.5 C686.6,1412.5 687.0,1411.4 687.4,1411.5 C687.8,1411.5 688.1,1412.8 688.5,1413.0 C688.9,1413.1 689.4,1412.5 689.7,1412.6 C690.2,1412.8 690.5,1413.9 690.9,1414.0 C691.3,1414.1 691.7,1413.8 692.1,1413.7 C692.5,1413.6 692.9,1413.2 693.3,1413.3 C693.7,1413.4 694.0,1414.9 694.5,1414.9 C694.8,1415.0 695.3,1414.2 695.7,1414.2 C696.1,1414.3 696.4,1415.7 696.8,1415.8 C697.2,1415.8 697.6,1415.1 698.0,1415.1 C698.4,1415.1 698.8,1415.9 699.2,1415.8 C700.2,1415.4 701.3,1408.6 702.0,1405.9 C702.5,1404.0 702.9,1403.0 703.2,1401.2 C703.7,1398.8 703.9,1394.7 704.5,1392.7 C704.9,1391.4 705.4,1390.9 705.8,1389.7 C706.3,1387.7 706.5,1381.8 707.0,1381.8 C707.3,1381.8 707.7,1384.0 708.0,1385.4 C708.5,1387.2 708.8,1389.3 709.1,1391.7 C709.5,1394.8 709.7,1399.3 710.0,1402.4 C710.3,1404.7 710.7,1406.2 711.0,1408.6 C711.3,1411.8 711.5,1417.2 711.9,1420.0 C712.1,1421.6 712.3,1423.8 712.6,1423.9 C712.9,1423.9 713.1,1422.9 713.4,1422.9 C713.7,1422.9 714.2,1423.2 714.5,1423.6 C714.9,1424.3 715.2,1427.1 715.5,1427.1 C715.9,1427.1 716.2,1422.8 716.4,1420.2 C716.8,1416.6 717.0,1411.2 717.4,1407.6 C717.6,1404.8 718.0,1400.2 718.3,1400.2 C718.6,1400.2 718.8,1405.2 719.3,1406.7 C719.6,1407.6 720.1,1407.7 720.4,1408.7 C721.0,1410.8 721.2,1415.7 721.5,1419.6 C721.9,1424.1 722.1,1434.2 722.6,1434.2 C722.9,1434.2 723.3,1430.5 723.7,1428.4 C724.0,1425.9 724.4,1423.1 724.7,1420.0 C725.1,1416.2 725.4,1411.4 725.8,1407.5 C726.1,1403.9 726.1,1399.2 726.8,1397.4 C727.1,1396.7 727.6,1396.7 727.9,1396.0 C728.5,1395.0 728.5,1391.4 729.1,1391.2 C729.4,1391.1 729.9,1392.2 730.2,1392.1 C730.8,1391.8 730.8,1388.1 731.4,1387.1 C731.7,1386.6 732.2,1385.9 732.5,1386.0 C732.9,1386.1 733.1,1388.4 733.4,1388.4 C733.7,1388.4 734.1,1386.5 734.4,1386.5 C734.7,1386.5 735.0,1387.9 735.3,1388.9 C735.8,1390.7 735.8,1394.9 736.3,1396.7 C736.5,1397.8 737.0,1398.1 737.2,1399.1 C737.7,1400.8 737.8,1403.6 738.2,1405.9 C738.6,1408.1 738.6,1411.9 739.4,1412.6 C739.7,1412.9 740.2,1412.4 740.5,1412.7 C741.3,1413.4 741.2,1417.0 741.7,1418.6 C742.0,1419.7 742.5,1421.4 742.9,1421.4 C743.3,1421.4 743.7,1418.8 744.1,1418.9 C744.5,1418.9 744.8,1423.7 745.2,1423.7 C745.6,1423.7 746.1,1420.2 746.4,1420.2 C746.9,1420.2 747.0,1424.9 747.6,1425.1 C747.9,1425.3 748.4,1424.6 748.8,1424.3 C749.2,1423.9 749.6,1422.8 750.0,1422.9 C750.5,1423.0 750.8,1426.8 751.2,1426.8 C751.6,1426.8 752.0,1422.7 752.3,1422.7 C752.7,1422.7 753.1,1426.7 753.5,1426.8 C753.9,1426.8 754.3,1423.4 754.7,1423.4 C755.1,1423.4 755.4,1425.3 755.9,1425.7 C756.2,1426.0 756.7,1426.2 757.0,1426.0 C757.6,1425.6 757.4,1420.1 758.0,1419.8 C758.3,1419.7 758.8,1420.7 759.0,1420.6 C759.5,1420.4 759.7,1417.3 760.1,1417.2 C760.4,1417.1 760.8,1417.7 761.1,1418.3 C761.6,1419.4 761.4,1423.2 762.0,1424.0 C762.3,1424.3 762.7,1424.4 763.0,1424.3 C763.6,1424.0 763.7,1420.4 764.1,1420.3 C764.5,1420.3 764.9,1422.8 765.2,1422.8 C765.7,1422.7 765.8,1416.2 766.4,1416.1 C766.7,1416.0 767.1,1417.7 767.5,1417.6 C767.9,1417.6 768.2,1415.5 768.6,1414.4 C769.0,1413.3 769.2,1411.3 769.7,1410.9 C770.1,1410.7 770.6,1411.3 770.9,1411.1 C771.5,1410.7 771.4,1406.6 772.0,1406.4 C772.3,1406.3 772.8,1407.4 773.2,1407.3 C773.7,1407.1 774.0,1404.6 774.3,1403.0 C774.7,1401.2 774.7,1397.2 775.2,1397.0 C775.5,1396.9 775.9,1397.9 776.2,1397.8 C776.7,1397.6 776.8,1391.7 777.1,1391.7 C777.4,1391.7 777.6,1394.9 777.8,1396.8 C778.1,1399.1 778.2,1404.5 778.5,1404.5 C778.7,1404.5 779.0,1402.5 779.2,1401.2 C779.6,1399.1 779.7,1396.0 780.0,1393.3 C780.3,1390.6 780.7,1387.2 781.2,1385.0 C781.6,1383.4 782.1,1382.6 782.5,1381.0 C783.0,1378.7 783.3,1372.5 783.7,1372.5 C784.1,1372.5 784.4,1377.4 784.7,1380.3 C785.1,1384.1 785.3,1389.4 785.7,1393.3 C786.0,1396.6 786.4,1402.2 786.7,1402.2 C787.1,1402.2 787.5,1393.8 787.9,1390.3 C788.3,1387.4 788.8,1385.5 789.2,1382.6 C789.6,1378.8 789.9,1369.5 790.4,1369.5 C790.7,1369.5 791.1,1373.0 791.4,1375.1 C791.8,1377.9 792.0,1382.0 792.4,1384.8 C792.7,1386.9 793.1,1390.3 793.4,1390.3 C794.7,1390.2 796.2,1304.2 797.5,1304.2 C798.1,1304.2 798.7,1315.5 799.2,1322.0 C799.8,1329.8 800.4,1339.5 800.9,1348.0 C801.4,1356.2 801.6,1364.3 802.0,1372.0 C802.4,1379.2 802.2,1392.7 803.2,1393.0 C803.5,1393.1 803.9,1391.6 804.1,1391.6 C804.5,1391.7 804.7,1394.7 805.1,1394.8 C805.3,1394.8 805.7,1393.2 806.0,1393.3 C806.6,1393.4 806.8,1397.9 807.2,1400.5 C807.7,1403.5 808.0,1407.3 808.5,1410.2 C808.8,1412.7 808.9,1416.2 809.7,1417.0 C810.0,1417.3 810.6,1416.9 810.9,1417.2 C811.6,1417.8 811.6,1421.1 812.2,1421.3 C812.5,1421.5 813.1,1420.4 813.4,1420.5 C814.0,1420.7 814.1,1424.4 814.6,1424.5 C815.0,1424.5 815.5,1422.5 815.9,1422.6 C816.3,1422.6 816.6,1425.2 817.1,1426.0 C817.4,1426.5 817.9,1427.1 818.3,1427.0 C818.7,1426.9 819.0,1424.3 819.4,1424.3 C819.8,1424.2 820.2,1426.4 820.6,1426.4 C821.0,1426.4 821.3,1424.3 821.7,1424.3 C822.1,1424.3 822.5,1426.7 822.9,1426.7 C823.3,1426.7 823.6,1424.2 824.0,1424.2 C824.4,1424.2 824.8,1426.7 825.2,1426.7 C825.6,1426.7 825.9,1422.9 826.3,1422.8 C826.7,1422.7 827.0,1424.3 827.5,1424.5 C827.8,1424.6 828.3,1424.5 828.6,1424.2 C829.2,1423.6 829.3,1420.4 829.8,1420.3 C830.1,1420.3 830.5,1422.3 830.9,1422.3 C831.3,1422.3 831.6,1420.8 832.0,1420.0 C832.4,1419.1 832.7,1417.0 833.2,1417.0 C833.5,1416.9 834.0,1419.1 834.3,1419.0 C834.8,1419.0 835.0,1415.1 835.5,1414.9 C835.8,1414.9 836.3,1416.4 836.6,1416.3 C837.2,1416.2 837.3,1411.9 837.8,1411.8 C838.1,1411.8 838.6,1413.9 838.9,1413.8 C839.4,1413.8 839.6,1409.8 840.1,1409.7 C840.4,1409.6 840.9,1411.2 841.2,1411.1 C841.7,1411.0 842.0,1409.7 842.4,1408.1 C843.8,1402.5 844.5,1369.9 846.8,1369.5 C847.9,1369.3 849.6,1377.2 850.5,1377.0 C851.8,1376.8 851.4,1360.7 852.7,1360.6 C853.8,1360.5 855.9,1372.6 857.2,1372.5 C858.6,1372.4 859.9,1357.6 860.9,1357.7 C862.6,1357.8 861.6,1400.2 863.9,1400.7 C864.9,1400.9 866.6,1396.1 867.6,1393.3 C868.9,1389.9 869.7,1386.4 870.6,1381.4 C872.1,1373.0 873.1,1347.3 874.3,1347.3 C875.6,1347.3 874.3,1389.9 878.0,1393.3 C879.0,1394.3 880.8,1392.5 881.7,1393.3 C883.5,1395.0 882.4,1403.5 882.8,1408.9 C883.2,1414.9 883.2,1427.4 883.9,1427.5 C884.2,1427.5 884.6,1425.8 884.9,1424.7 C885.3,1423.1 885.5,1420.2 885.9,1418.5 C886.2,1417.4 886.6,1415.6 886.9,1415.6 C887.3,1415.6 887.5,1420.2 887.9,1422.2 C888.2,1423.8 888.6,1424.9 888.9,1426.5 C889.3,1428.5 889.2,1432.1 889.9,1433.4 C890.2,1434.0 890.7,1434.6 891.1,1434.6 C891.5,1434.5 891.9,1432.7 892.3,1432.8 C892.7,1432.8 893.0,1435.5 893.4,1435.5 C893.8,1435.5 894.2,1433.6 894.6,1433.5 C895.0,1433.5 895.4,1434.4 895.8,1434.9 C896.2,1435.5 896.5,1436.9 897.0,1437.1 C897.4,1437.2 897.9,1436.5 898.3,1436.7 C898.9,1437.0 898.9,1440.2 899.5,1440.5 C899.8,1440.7 900.4,1440.0 900.7,1440.1 C901.3,1440.4 901.4,1443.2 902.0,1443.7 C902.3,1444.0 902.8,1443.9 903.2,1443.8 C903.6,1443.7 904.0,1442.7 904.4,1442.8 C904.8,1442.9 905.1,1444.8 905.5,1444.8 C905.9,1444.8 906.3,1442.9 906.7,1442.9 C907.1,1442.9 907.4,1445.1 907.8,1445.1 C908.2,1445.2 908.6,1443.7 909.0,1443.8 C909.4,1443.8 909.7,1446.0 910.1,1446.0 C910.5,1446.0 910.9,1443.9 911.3,1443.9 C911.7,1443.9 912.0,1446.1 912.4,1446.2 C912.8,1446.3 913.0,1445.4 913.6,1445.3 C915.0,1445.0 918.1,1446.9 921.0,1447.5 C925.1,1448.3 933.8,1449.7 935.9,1449.0 C936.5,1448.8 936.7,1448.0 937.0,1448.0 C937.4,1448.1 937.7,1450.3 938.1,1450.4 C938.4,1450.4 938.8,1448.8 939.2,1448.8 C939.6,1448.8 939.9,1450.4 940.3,1450.5 C940.6,1450.6 941.0,1450.2 941.4,1450.0 C941.8,1449.8 942.2,1449.3 942.6,1449.4 C943.0,1449.6 943.4,1451.3 943.8,1451.3 C944.2,1451.3 944.6,1448.9 945.0,1448.9 C945.3,1448.9 945.7,1451.2 946.1,1451.2 C946.5,1451.2 946.9,1449.0 947.3,1449.0 C947.7,1449.0 948.1,1451.1 948.5,1451.1 C948.9,1451.1 949.3,1449.5 949.7,1449.5 C950.1,1449.5 950.5,1451.3 950.9,1451.2 C951.3,1451.2 951.6,1449.0 952.0,1449.0 C952.4,1449.0 952.8,1451.0 953.2,1451.0 C953.6,1451.0 954.0,1449.5 954.4,1449.4 C954.8,1449.4 955.0,1450.3 955.6,1450.5 C956.9,1450.9 960.6,1451.3 962.2,1450.0 C964.1,1448.4 964.0,1443.0 965.0,1440.0 C965.9,1437.4 967.1,1432.8 967.9,1432.9 C969.0,1433.0 968.8,1444.5 970.5,1446.0 C971.3,1446.7 972.8,1446.8 973.5,1446.1 C975.0,1444.7 973.7,1433.0 974.5,1432.9 C975.1,1432.8 976.0,1437.8 977.0,1440.0 C977.9,1442.1 979.3,1446.2 980.1,1446.1 C981.3,1445.9 981.1,1430.0 982.0,1430.0 C982.8,1430.0 983.5,1443.7 985.0,1444.0 C986.0,1444.2 987.6,1438.5 988.6,1438.6 C989.6,1438.7 990.2,1444.1 991.0,1444.0 C992.5,1443.8 993.4,1426.9 995.2,1422.5 C996.1,1420.3 997.2,1420.1 998.1,1418.0 C999.9,1413.9 1000.8,1403.0 1002.8,1398.9 C1003.9,1396.6 1005.5,1396.8 1006.6,1394.2 C1009.6,1386.8 1009.4,1362.9 1010.6,1346.3 C1011.9,1328.3 1011.8,1303.8 1014.3,1290.2 C1015.7,1282.2 1018.3,1279.9 1019.9,1271.5 C1023.0,1255.0 1023.6,1221.6 1025.5,1196.7 C1027.4,1171.8 1029.7,1144.6 1031.2,1121.9 C1032.5,1102.9 1033.0,1069.5 1034.1,1069.5 C1035.2,1069.5 1036.6,1102.9 1037.9,1121.9 C1039.4,1144.6 1040.8,1170.4 1042.4,1196.7 C1044.2,1226.1 1046.3,1263.0 1048.0,1290.2 C1049.3,1311.3 1049.7,1330.6 1051.7,1346.3 C1053.2,1357.9 1054.0,1374.9 1057.3,1376.3 C1058.9,1377.0 1061.4,1375.0 1063.0,1372.5 C1066.9,1366.7 1068.4,1346.5 1070.4,1335.1 C1072.0,1325.6 1073.0,1308.9 1074.2,1308.9 C1075.5,1308.9 1076.2,1331.4 1077.9,1338.9 C1079.0,1343.6 1080.7,1350.2 1081.7,1350.1 C1084.4,1349.7 1084.0,1271.5 1085.4,1271.5 C1087.0,1271.5 1085.8,1361.8 1091.0,1376.3 C1092.6,1380.6 1095.1,1384.2 1096.6,1383.8 C1100.1,1382.8 1099.7,1347.4 1102.2,1335.1 C1103.8,1327.3 1106.2,1316.3 1107.8,1316.4 C1110.3,1316.6 1109.1,1358.8 1113.5,1361.3 C1115.3,1362.3 1118.3,1358.0 1120.0,1358.3 C1121.4,1358.6 1122.4,1360.0 1123.4,1361.7 C1125.1,1364.6 1125.6,1375.3 1126.9,1375.4 C1127.9,1375.5 1129.3,1370.1 1130.3,1366.9 C1131.6,1362.9 1132.6,1359.0 1133.7,1353.1 C1135.5,1343.1 1137.1,1311.9 1138.5,1311.9 C1139.9,1311.9 1140.9,1339.2 1142.3,1353.1 C1143.7,1367.3 1145.6,1396.0 1147.1,1396.0 C1148.4,1396.0 1149.7,1372.8 1150.9,1361.7 C1152.1,1351.1 1153.3,1330.8 1154.3,1330.8 C1155.6,1330.8 1156.1,1362.6 1157.8,1378.9 C1159.5,1395.8 1159.6,1421.6 1164.6,1430.4 C1166.9,1434.5 1170.8,1437.8 1173.2,1437.3 C1175.7,1436.8 1176.8,1427.5 1179.2,1426.9 C1181.0,1426.4 1183.4,1430.6 1185.2,1430.4 C1187.1,1430.2 1188.9,1424.9 1190.4,1425.2 C1192.5,1425.6 1193.5,1434.1 1195.5,1437.3 C1197.1,1439.8 1198.9,1443.1 1200.7,1443.3 C1202.4,1443.4 1203.8,1439.8 1205.9,1439.0 C1208.3,1438.1 1212.2,1440.6 1214.4,1439.0 C1217.4,1436.8 1218.1,1429.9 1219.6,1423.5 C1221.9,1413.6 1223.2,1397.4 1224.7,1385.0 C1226.1,1373.4 1227.1,1351.4 1228.5,1351.4 C1229.7,1351.4 1231.2,1366.0 1232.5,1375.0 C1234.2,1386.9 1235.8,1416.5 1237.6,1416.6 C1238.7,1416.6 1240.0,1406.2 1241.1,1400.0 C1242.5,1392.3 1244.0,1373.7 1245.3,1373.7 C1246.6,1373.7 1247.5,1390.7 1248.8,1400.0 C1250.3,1410.6 1250.7,1428.2 1253.9,1433.8 C1255.3,1436.3 1257.4,1438.2 1259.1,1438.0 C1261.4,1437.7 1264.2,1432.6 1265.9,1428.3 C1268.5,1421.6 1268.7,1411.2 1269.6,1400.0 C1270.9,1383.7 1270.8,1357.5 1271.4,1340.0 C1271.8,1326.5 1271.7,1311.7 1272.6,1304.0 C1273.0,1300.4 1273.2,1297.5 1274.2,1296.0 C1274.7,1295.2 1275.5,1294.5 1276.2,1294.5 C1276.9,1294.5 1277.7,1295.2 1278.2,1296.0 C1279.2,1297.5 1279.4,1300.4 1279.8,1304.0 C1280.7,1311.7 1280.7,1326.7 1281.2,1340.0 C1281.8,1356.6 1281.8,1380.9 1283.1,1396.0 C1284.0,1406.3 1284.0,1420.7 1286.7,1421.9 C1288.0,1422.5 1290.3,1420.7 1291.5,1418.8 C1293.9,1415.1 1293.4,1398.1 1294.7,1398.0 C1295.6,1397.9 1296.8,1403.5 1297.8,1407.6 C1299.5,1414.8 1301.1,1434.1 1302.6,1437.9 C1303.0,1438.9 1303.3,1439.4 1303.8,1439.6 C1304.2,1439.8 1304.7,1439.3 1305.0,1439.5 C1305.5,1439.7 1305.7,1441.5 1306.2,1442.1 C1306.5,1442.4 1307.1,1442.9 1307.4,1442.7 C1308.2,1442.3 1308.2,1437.1 1308.6,1434.6 C1309.0,1432.3 1309.4,1430.4 1309.8,1428.2 C1310.2,1425.6 1310.7,1423.0 1311.0,1420.0 C1311.4,1416.2 1311.6,1411.3 1311.9,1407.2 C1312.2,1403.5 1312.6,1400.3 1312.9,1396.7 C1313.2,1392.6 1313.4,1383.7 1313.8,1383.7 C1314.1,1383.7 1314.4,1386.8 1314.7,1388.6 C1315.0,1390.7 1315.3,1393.4 1315.6,1395.5 C1315.9,1397.1 1316.0,1398.8 1316.5,1400.0 C1316.8,1400.9 1317.4,1401.3 1317.7,1402.1 C1318.2,1403.1 1318.5,1404.6 1319.0,1405.6 C1319.3,1406.4 1319.8,1406.7 1320.2,1407.6 C1320.7,1409.0 1321.0,1411.2 1321.4,1413.2 C1321.8,1415.3 1322.2,1417.9 1322.6,1420.0 C1323.0,1421.7 1323.4,1422.9 1323.8,1424.7 C1324.2,1426.7 1324.5,1429.9 1325.0,1431.5 C1325.3,1432.4 1325.6,1433.4 1326.0,1433.7 C1326.4,1433.9 1326.8,1433.5 1327.1,1433.7 C1327.6,1434.0 1327.7,1435.6 1328.2,1436.0 C1328.5,1436.2 1328.9,1436.0 1329.2,1436.2 C1329.7,1436.6 1329.8,1438.5 1330.2,1439.0 C1330.5,1439.3 1330.9,1439.5 1331.3,1439.5 C1331.7,1439.5 1332.1,1438.8 1332.4,1438.9 C1332.9,1439.1 1333.1,1440.9 1333.5,1441.0 C1333.9,1441.0 1334.3,1439.7 1334.7,1439.7 C1335.0,1439.7 1335.3,1441.0 1335.8,1441.2 C1336.1,1441.4 1336.6,1441.4 1336.9,1441.1 C1337.6,1440.4 1337.6,1436.9 1337.9,1435.1 C1338.3,1433.6 1338.6,1432.4 1339.0,1430.8 C1339.3,1429.1 1339.7,1427.1 1340.0,1425.0 C1340.4,1422.5 1340.8,1419.4 1341.2,1416.8 C1341.6,1414.4 1342.1,1410.0 1342.5,1410.0 C1342.9,1410.0 1343.2,1414.0 1343.6,1415.7 C1343.9,1417.1 1344.3,1418.1 1344.6,1419.5 C1345.0,1421.2 1345.3,1423.2 1345.7,1425.0 C1346.0,1426.7 1346.4,1428.4 1346.8,1429.8 C1347.1,1430.9 1347.5,1431.6 1347.8,1432.7 C1348.2,1434.2 1348.3,1436.9 1348.9,1437.9 C1349.2,1438.4 1349.6,1438.8 1350.0,1438.8 C1350.3,1438.8 1350.7,1438.0 1351.0,1438.1 C1351.5,1438.2 1351.7,1440.4 1352.1,1440.4 C1352.4,1440.5 1352.8,1439.0 1353.2,1439.1 C1353.6,1439.1 1353.8,1440.9 1354.2,1441.2 C1354.5,1441.3 1355.0,1441.3 1355.3,1441.1 C1355.8,1440.8 1356.0,1439.4 1356.5,1439.2 C1356.8,1439.0 1357.3,1439.6 1357.7,1439.4 C1358.2,1439.2 1358.3,1437.2 1358.8,1436.7 C1359.2,1436.4 1359.7,1436.2 1360.0,1436.3 C1360.4,1436.5 1360.7,1438.0 1361.1,1438.1 C1361.4,1438.1 1361.8,1437.0 1362.1,1437.1 C1362.5,1437.2 1362.8,1439.1 1363.2,1439.2 C1363.5,1439.3 1364.0,1438.5 1364.3,1438.6 C1364.7,1438.7 1364.9,1440.6 1365.3,1441.0 C1365.6,1441.2 1366.0,1441.1 1366.4,1441.1 C1366.8,1441.1 1367.2,1440.5 1367.6,1440.7 C1368.1,1440.8 1368.4,1442.4 1368.8,1442.5 C1369.2,1442.6 1369.6,1441.6 1370.0,1441.6 C1370.4,1441.7 1370.8,1443.1 1371.2,1443.2 C1371.6,1443.2 1372.0,1441.8 1372.4,1441.8 C1372.8,1441.8 1373.2,1443.5 1373.6,1443.6 C1374.0,1443.6 1374.4,1442.5 1374.8,1442.5 C1375.2,1442.5 1375.6,1443.4 1376.0,1443.5 C1376.3,1443.6 1376.8,1443.7 1377.1,1443.5 C1377.5,1443.2 1377.7,1441.8 1378.1,1441.7 C1378.5,1441.6 1378.9,1442.3 1379.2,1442.2 C1379.6,1442.1 1379.8,1440.6 1380.3,1440.5 C1380.6,1440.3 1381.0,1440.9 1381.3,1440.8 C1381.7,1440.7 1382.0,1439.6 1382.4,1439.5 C1382.7,1439.4 1383.2,1439.5 1383.5,1439.8 C1383.9,1440.2 1384.1,1441.8 1384.5,1442.3 C1384.8,1442.6 1385.3,1442.8 1385.6,1442.7 C1386.0,1442.6 1386.3,1441.1 1386.7,1441.1 C1387.1,1441.0 1387.5,1441.9 1387.9,1441.8 C1388.3,1441.7 1388.5,1439.2 1389.0,1439.0 C1389.3,1438.9 1389.8,1439.6 1390.1,1439.5 C1390.6,1439.3 1390.8,1437.4 1391.2,1437.3 C1391.6,1437.2 1392.0,1438.0 1392.4,1438.0 C1392.8,1437.9 1393.1,1436.7 1393.5,1436.3 C1393.8,1436.0 1394.2,1435.6 1394.6,1435.7 C1394.9,1435.7 1395.3,1436.4 1395.6,1436.4 C1396.0,1436.3 1396.3,1435.1 1396.7,1435.0 C1397.0,1434.9 1397.4,1435.7 1397.8,1435.6 C1398.2,1435.6 1398.4,1434.4 1398.8,1434.3 C1399.2,1434.2 1399.5,1434.6 1399.9,1434.7 C1400.3,1434.8 1400.7,1435.1 1401.0,1435.0 C1401.5,1434.7 1401.7,1432.9 1402.2,1432.8 C1402.5,1432.7 1403.0,1433.6 1403.3,1433.6 C1403.8,1433.4 1404.0,1431.3 1404.5,1431.2 C1404.8,1431.0 1405.3,1431.8 1405.6,1431.7 C1406.1,1431.6 1406.3,1429.9 1406.8,1429.7 C1407.1,1429.5 1407.6,1429.7 1407.9,1429.9 C1408.3,1430.2 1408.6,1431.4 1409.0,1431.4 C1409.3,1431.5 1409.7,1430.5 1410.0,1430.5 C1410.5,1430.7 1410.7,1433.0 1411.1,1433.1 C1411.4,1433.2 1411.8,1432.2 1412.2,1432.3 C1412.6,1432.4 1412.8,1434.1 1413.2,1434.5 C1413.5,1434.7 1414.0,1434.9 1414.3,1434.7 C1414.9,1434.3 1415.0,1431.1 1415.5,1429.9 C1415.9,1429.0 1416.4,1428.6 1416.7,1427.7 C1417.2,1426.3 1417.4,1423.5 1417.9,1421.9 C1418.3,1420.7 1418.7,1418.8 1419.1,1418.8 C1419.5,1418.8 1419.8,1421.9 1420.3,1423.0 C1420.6,1423.9 1421.1,1424.2 1421.4,1425.1 C1422.0,1426.4 1422.2,1428.7 1422.6,1430.2 C1423.0,1431.3 1423.4,1433.1 1423.8,1433.1 C1424.2,1433.1 1424.5,1431.2 1424.9,1430.5 C1425.2,1430.0 1425.6,1429.8 1425.9,1429.2 C1426.4,1428.5 1426.6,1427.0 1427.0,1426.3 C1427.3,1425.8 1427.8,1425.6 1428.1,1425.0 C1428.5,1424.3 1428.7,1422.8 1429.1,1422.0 C1429.5,1421.3 1429.9,1420.9 1430.2,1420.3 C1430.6,1419.6 1431.0,1418.8 1431.4,1417.8 C1431.9,1416.5 1432.1,1414.3 1432.6,1413.1 C1432.9,1412.4 1433.4,1412.2 1433.8,1411.5 C1434.3,1410.5 1434.6,1409.0 1435.0,1407.6 C1435.4,1406.1 1435.6,1404.3 1436.0,1403.0 C1436.3,1402.0 1436.7,1401.4 1437.0,1400.4 C1437.4,1398.9 1437.6,1396.6 1438.0,1395.1 C1438.3,1393.8 1438.7,1393.4 1439.0,1391.6 C1440.0,1386.4 1440.7,1371.2 1441.5,1360.0 C1442.4,1347.5 1442.8,1320.0 1443.8,1320.0 C1444.5,1320.0 1445.6,1329.7 1446.2,1337.0 C1447.3,1350.0 1447.8,1391.6 1447.8,1391.6" fill="none" stroke="#1b3d8d" stroke-width="3.2" stroke-linejoin="round" stroke-linecap="round"/>
<path d="M197.1,1409.2 C197.1,1409.2 197.9,1411.8 198.2,1413.5 C198.6,1415.7 198.9,1419.1 199.3,1421.4 C199.6,1423.1 200.1,1425.9 200.4,1425.9 C200.9,1425.9 201.1,1418.4 201.5,1415.4 C201.8,1413.0 202.2,1411.4 202.5,1409.0 C202.9,1406.0 203.0,1400.7 203.6,1398.9 C203.8,1398.2 204.2,1397.5 204.5,1397.5 C204.8,1397.5 205.0,1399.6 205.3,1399.6 C205.6,1399.6 205.9,1397.6 206.2,1397.6 C206.5,1397.6 207.0,1399.1 207.3,1400.4 C207.8,1402.6 207.8,1407.8 208.3,1410.0 C208.6,1411.3 209.1,1413.0 209.4,1413.0 C209.9,1412.9 209.9,1404.7 210.3,1401.4 C210.5,1399.1 210.9,1397.7 211.1,1395.4 C211.5,1392.3 211.5,1384.8 212.0,1384.7 C212.3,1384.7 212.8,1386.7 213.1,1388.1 C213.5,1390.3 213.7,1394.1 214.1,1396.4 C214.4,1397.9 214.9,1400.2 215.2,1400.2 C215.7,1400.2 215.8,1393.2 216.1,1390.0 C216.4,1387.3 216.6,1382.3 217.1,1382.2 C217.4,1382.1 217.8,1384.4 218.3,1384.5 C218.6,1384.6 219.1,1383.4 219.4,1383.5 C220.0,1383.7 220.2,1388.4 220.6,1388.4 C220.9,1388.4 221.4,1385.1 221.7,1385.1 C222.1,1385.1 222.5,1388.5 222.9,1388.6 C223.2,1388.6 223.6,1387.9 223.8,1387.2 C224.4,1385.7 224.0,1380.1 224.8,1379.3 C225.1,1379.0 225.5,1379.4 225.8,1379.1 C226.3,1378.6 226.4,1375.9 226.7,1374.4 C227.0,1373.0 227.2,1370.6 227.7,1370.4 C227.9,1370.3 228.4,1371.3 228.6,1371.1 C229.3,1370.9 229.0,1365.5 229.6,1364.6 C229.9,1364.2 230.3,1364.4 230.6,1364.1 C231.0,1363.7 231.4,1363.3 231.7,1362.5 C232.3,1360.9 232.1,1355.8 232.7,1354.1 C233.0,1353.4 233.5,1352.6 233.8,1352.6 C234.2,1352.6 234.4,1355.1 234.8,1355.2 C235.2,1355.2 235.6,1353.8 235.9,1353.8 C236.4,1353.9 236.5,1359.1 236.9,1359.2 C237.2,1359.2 237.6,1357.0 238.0,1357.1 C238.3,1357.1 238.6,1360.3 239.0,1360.3 C239.3,1360.3 239.7,1359.3 239.9,1358.6 C240.4,1357.2 240.3,1353.5 240.9,1352.9 C241.2,1352.6 241.6,1352.9 241.9,1352.6 C242.4,1352.1 242.4,1349.7 242.8,1348.7 C243.1,1347.9 243.5,1346.8 243.8,1346.8 C244.3,1346.9 244.5,1352.0 244.9,1352.0 C245.2,1352.0 245.6,1348.5 245.9,1348.5 C246.3,1348.5 246.5,1352.0 247.0,1352.1 C247.3,1352.2 247.7,1351.8 248.0,1351.3 C248.6,1350.4 248.6,1346.5 249.1,1346.4 C249.4,1346.3 249.9,1348.0 250.2,1348.0 C250.8,1347.8 250.6,1342.1 251.4,1341.3 C251.7,1340.9 252.2,1340.9 252.5,1341.0 C252.9,1341.1 253.3,1342.1 253.6,1342.0 C254.1,1341.8 254.0,1337.1 254.6,1336.7 C254.9,1336.5 255.4,1336.8 255.7,1337.1 C256.2,1337.6 256.5,1339.7 256.9,1339.7 C257.2,1339.7 257.7,1337.3 258.0,1337.3 C258.5,1337.4 258.7,1341.7 259.2,1341.8 C259.5,1341.9 260.0,1340.1 260.3,1340.1 C260.7,1340.1 261.0,1342.1 261.5,1342.3 C261.8,1342.4 262.4,1342.3 262.7,1342.0 C263.4,1341.2 263.3,1336.8 263.9,1336.7 C264.2,1336.6 264.7,1338.2 265.1,1338.1 C265.5,1338.0 265.7,1334.6 266.2,1334.5 C266.6,1334.4 267.1,1335.7 267.4,1335.6 C267.9,1335.5 268.2,1332.0 268.6,1332.0 C268.9,1332.0 269.3,1333.7 269.6,1334.8 C270.0,1336.7 269.9,1340.9 270.5,1342.1 C270.8,1342.6 271.2,1342.4 271.4,1342.9 C272.0,1343.9 271.8,1348.4 272.4,1348.7 C272.7,1348.8 273.2,1348.4 273.5,1347.9 C274.2,1346.8 274.1,1341.8 274.6,1341.7 C275.0,1341.6 275.4,1343.2 275.8,1343.1 C276.2,1343.1 276.4,1340.3 276.9,1339.7 C277.2,1339.3 277.7,1339.0 278.0,1339.1 C278.6,1339.4 278.7,1342.8 279.2,1342.8 C279.5,1342.9 280.0,1340.6 280.3,1340.7 C280.8,1340.7 281.0,1344.8 281.4,1344.9 C281.8,1344.9 282.3,1343.0 282.6,1343.1 C283.1,1343.1 283.3,1347.5 283.7,1347.6 C284.1,1347.6 284.5,1345.0 284.9,1345.0 C285.2,1345.0 285.6,1346.8 286.0,1347.4 C286.4,1347.9 286.9,1348.8 287.2,1348.7 C287.8,1348.5 287.9,1344.1 288.4,1344.1 C288.8,1344.0 289.2,1346.9 289.6,1346.9 C290.0,1346.9 290.3,1344.6 290.8,1344.4 C291.1,1344.3 291.4,1344.6 292.0,1344.9 C294.0,1346.0 302.9,1352.2 304.8,1353.9 C305.4,1354.5 305.5,1355.2 305.9,1355.2 C306.3,1355.2 306.7,1354.2 307.0,1354.3 C307.5,1354.4 307.6,1356.7 308.1,1356.9 C308.4,1356.9 308.9,1356.0 309.2,1356.0 C309.6,1356.1 309.9,1357.9 310.3,1358.0 C310.6,1358.1 311.1,1357.4 311.4,1357.5 C311.8,1357.6 312.0,1359.2 312.5,1359.5 C312.8,1359.7 313.2,1359.5 313.6,1359.4 C314.0,1359.3 314.4,1358.9 314.7,1358.9 C315.1,1359.1 315.5,1360.4 315.8,1360.4 C316.2,1360.3 316.6,1358.3 316.9,1358.3 C317.3,1358.3 317.7,1360.6 318.1,1360.6 C318.4,1360.6 318.8,1358.4 319.2,1358.4 C319.5,1358.4 319.9,1360.5 320.3,1360.6 C320.6,1360.6 321.0,1359.1 321.4,1359.0 C321.7,1358.9 322.2,1359.1 322.5,1359.4 C323.0,1359.8 323.1,1361.3 323.6,1361.4 C323.9,1361.6 324.4,1360.9 324.7,1361.0 C325.3,1361.3 325.2,1364.1 325.8,1364.6 C326.1,1364.9 326.6,1365.2 326.9,1365.0 C327.4,1364.7 327.5,1362.3 328.0,1361.7 C328.3,1361.3 328.8,1361.4 329.1,1361.0 C329.7,1360.2 329.6,1357.1 330.2,1356.3 C330.5,1355.9 331.0,1356.1 331.3,1355.7 C331.9,1355.0 331.9,1352.6 332.4,1351.4 C332.7,1350.6 333.0,1349.7 333.5,1349.5 C333.9,1349.4 334.3,1350.0 334.7,1349.9 C335.2,1349.8 335.5,1348.5 335.9,1348.5 C336.3,1348.5 336.8,1349.7 337.2,1349.7 C337.6,1349.6 338.0,1348.3 338.4,1348.3 C338.8,1348.3 339.2,1350.1 339.6,1350.1 C340.0,1350.0 340.4,1348.2 340.8,1348.1 C341.2,1348.0 341.6,1349.1 342.1,1349.1 C342.5,1349.1 342.8,1348.2 343.3,1348.1 C343.7,1348.0 344.1,1348.4 344.5,1348.4 C344.9,1348.4 345.3,1348.2 345.6,1347.9 C346.1,1347.3 346.2,1345.3 346.7,1345.2 C347.0,1345.1 347.5,1345.9 347.8,1345.8 C348.3,1345.7 348.5,1343.7 348.9,1343.4 C349.3,1343.2 349.7,1343.6 350.1,1343.4 C350.6,1343.1 350.7,1340.7 351.2,1340.6 C351.5,1340.5 351.9,1341.5 352.3,1341.5 C352.7,1341.4 353.0,1340.2 353.4,1339.6 C353.7,1339.1 354.1,1338.4 354.5,1338.3 C354.8,1338.2 355.3,1338.7 355.6,1338.6 C356.0,1338.4 356.3,1337.1 356.7,1336.9 C357.0,1336.8 357.5,1337.4 357.8,1337.2 C358.3,1337.0 358.4,1335.2 358.9,1335.0 C359.2,1334.8 359.7,1335.0 360.0,1335.2 C360.4,1335.4 360.7,1336.3 361.1,1336.4 C361.4,1336.5 361.9,1335.9 362.2,1336.1 C362.6,1336.2 362.9,1337.9 363.3,1338.0 C363.6,1338.1 364.1,1337.2 364.4,1337.2 C364.8,1337.3 365.1,1338.4 365.5,1338.5 C365.8,1338.6 366.3,1338.3 366.6,1337.9 C367.1,1337.3 367.2,1335.0 367.7,1334.4 C368.0,1334.1 368.5,1334.3 368.8,1334.0 C369.4,1333.4 369.4,1331.1 369.9,1330.4 C370.2,1329.9 370.6,1329.8 371.0,1329.6 C371.4,1329.5 371.8,1329.7 372.1,1329.4 C372.6,1329.0 372.7,1326.7 373.2,1326.6 C373.5,1326.5 374.0,1327.7 374.3,1327.6 C374.7,1327.6 374.9,1325.5 375.4,1325.3 C375.7,1325.2 376.2,1325.9 376.5,1325.8 C376.9,1325.6 377.3,1324.9 377.6,1324.1 C378.1,1322.9 378.3,1320.3 378.7,1318.7 C379.0,1317.3 379.5,1316.4 379.8,1314.9 C380.2,1313.1 380.5,1310.5 380.9,1308.6 C381.2,1307.0 381.6,1305.6 382.0,1304.3 C382.3,1303.1 382.8,1302.3 383.1,1301.0 C383.6,1299.2 383.7,1296.1 384.2,1294.4 C384.6,1293.3 385.0,1292.9 385.4,1291.9 C385.8,1290.4 386.0,1287.8 386.5,1286.2 C386.8,1284.9 387.2,1284.1 387.6,1282.8 C388.0,1281.3 388.3,1279.6 388.7,1277.8 C389.1,1275.9 389.4,1273.5 389.8,1271.7 C390.1,1270.1 390.6,1268.9 390.9,1267.3 C391.3,1265.3 391.6,1262.7 392.0,1260.6 C392.3,1258.9 392.6,1256.9 393.1,1255.7 C393.4,1254.9 393.8,1254.6 394.2,1253.8 C394.6,1252.7 394.8,1250.5 395.2,1249.3 C395.5,1248.5 395.9,1248.1 396.2,1247.3 C396.7,1246.1 396.8,1243.7 397.3,1242.8 C397.6,1242.3 398.1,1242.3 398.3,1241.8 C398.8,1241.0 399.0,1239.2 399.4,1238.0 C399.7,1236.9 400.1,1235.7 400.5,1234.8 C400.8,1234.2 401.3,1233.9 401.6,1233.2 C402.0,1232.3 402.2,1230.6 402.7,1229.7 C403.0,1229.1 403.5,1228.8 403.8,1228.2 C404.3,1227.3 404.5,1225.7 404.9,1224.6 C405.2,1223.9 405.6,1223.1 406.0,1222.6 C406.3,1222.2 406.8,1222.1 407.1,1221.6 C407.6,1221.0 407.8,1219.8 408.2,1219.3 C408.6,1218.9 409.0,1218.8 409.4,1218.4 C409.8,1218.0 410.0,1216.9 410.5,1216.4 C410.8,1216.1 411.3,1216.2 411.6,1215.8 C412.0,1215.4 412.3,1214.4 412.7,1213.8 C413.0,1213.3 413.4,1212.7 413.8,1212.7 C414.1,1212.6 414.6,1213.3 414.9,1213.2 C415.3,1213.1 415.6,1211.9 416.0,1211.8 C416.3,1211.6 416.8,1212.1 417.1,1212.0 C417.5,1211.8 417.8,1210.7 418.2,1210.4 C418.5,1210.3 418.9,1210.3 419.3,1210.4 C419.7,1210.5 420.0,1211.0 420.4,1211.0 C420.8,1211.0 421.1,1210.1 421.5,1210.1 C421.9,1210.2 422.2,1211.2 422.6,1211.2 C423.0,1211.3 423.3,1210.5 423.7,1210.5 C424.1,1210.5 424.4,1211.5 424.8,1211.6 C425.2,1211.6 425.5,1210.9 425.9,1210.9 C426.3,1211.0 426.6,1211.9 427.0,1211.9 C427.3,1212.0 427.7,1211.7 428.1,1211.5 C428.5,1211.3 428.8,1210.8 429.2,1210.8 C429.6,1210.8 429.9,1211.5 430.3,1211.5 C430.7,1211.4 431.0,1210.5 431.4,1210.5 C431.8,1210.5 432.1,1211.5 432.5,1211.5 C432.9,1211.5 433.2,1210.4 433.6,1210.3 C433.9,1210.3 434.3,1210.9 434.7,1210.9 C435.1,1210.9 435.4,1210.0 435.8,1210.0 C436.2,1209.9 436.6,1210.2 436.9,1210.4 C437.3,1210.6 437.6,1211.3 438.0,1211.4 C438.4,1211.5 438.8,1211.1 439.1,1211.3 C439.6,1211.5 439.8,1212.9 440.2,1213.1 C440.6,1213.3 441.0,1213.0 441.4,1213.2 C441.8,1213.4 442.1,1214.1 442.5,1214.4 C442.8,1214.7 443.2,1214.9 443.6,1214.9 C444.0,1214.9 444.3,1214.3 444.7,1214.3 C445.1,1214.3 445.4,1215.0 445.8,1215.0 C446.2,1214.9 446.5,1213.9 446.9,1213.8 C447.3,1213.8 447.6,1214.8 448.0,1214.7 C448.4,1214.7 448.7,1213.8 449.1,1213.7 C449.4,1213.6 449.9,1213.6 450.2,1213.8 C450.6,1214.0 450.9,1214.8 451.3,1215.1 C451.6,1215.3 452.1,1215.2 452.4,1215.4 C452.8,1215.8 453.1,1217.0 453.5,1217.3 C453.8,1217.6 454.3,1217.4 454.6,1217.6 C455.0,1218.0 455.3,1219.1 455.7,1219.6 C456.0,1219.9 456.4,1220.4 456.8,1220.4 C457.2,1220.4 457.5,1219.7 457.9,1219.7 C458.3,1219.7 458.6,1220.6 459.0,1220.5 C459.4,1220.5 459.7,1219.3 460.1,1219.3 C460.4,1219.3 460.8,1220.1 461.2,1220.1 C461.6,1220.1 461.9,1219.0 462.3,1218.9 C462.6,1218.8 463.0,1219.1 463.4,1219.3 C463.8,1219.5 464.1,1220.0 464.5,1220.1 C464.9,1220.2 465.3,1219.8 465.6,1219.9 C466.1,1220.1 466.3,1221.2 466.8,1221.3 C467.1,1221.4 467.5,1220.8 467.9,1220.9 C468.3,1221.1 468.5,1222.3 469.0,1222.6 C469.3,1222.7 469.7,1222.5 470.1,1222.6 C470.5,1222.7 470.9,1222.7 471.2,1222.9 C471.6,1223.2 471.9,1224.2 472.3,1224.5 C472.6,1224.7 473.1,1224.4 473.4,1224.6 C473.8,1224.8 474.1,1225.6 474.5,1225.8 C474.8,1225.9 475.3,1225.7 475.6,1225.8 C476.0,1226.0 476.3,1226.8 476.7,1227.0 C477.0,1227.2 477.5,1227.3 477.8,1227.1 C478.2,1227.0 478.5,1226.0 478.9,1225.9 C479.2,1225.9 479.6,1226.6 480.0,1226.6 C480.4,1226.6 480.7,1225.7 481.1,1225.6 C481.4,1225.6 481.9,1226.1 482.2,1226.0 C482.6,1225.9 482.9,1224.9 483.3,1224.8 C483.6,1224.8 484.0,1225.5 484.4,1225.5 C484.8,1225.5 485.2,1224.7 485.5,1224.8 C485.9,1224.9 486.3,1226.0 486.6,1226.8 C487.0,1227.7 487.2,1229.0 487.7,1229.7 C488.0,1230.2 488.5,1230.4 488.8,1230.9 C489.2,1231.5 489.6,1232.6 489.9,1233.6 C490.3,1234.7 490.6,1236.1 491.0,1237.2 C491.3,1238.1 491.8,1238.8 492.1,1239.8 C492.5,1241.0 492.8,1242.7 493.2,1243.9 C493.5,1244.8 494.0,1245.4 494.3,1246.3 C494.7,1247.5 495.0,1249.3 495.4,1250.5 C495.7,1251.6 496.1,1252.7 496.5,1253.5 C496.8,1254.1 497.3,1254.5 497.6,1255.1 C498.0,1255.9 498.3,1257.1 498.7,1257.7 C499.1,1258.2 499.5,1258.2 499.8,1258.7 C500.3,1259.3 500.5,1260.7 500.9,1261.4 C501.3,1262.0 501.7,1262.3 502.1,1262.9 C502.5,1263.6 502.7,1264.9 503.2,1265.5 C503.5,1265.9 504.0,1266.0 504.3,1266.4 C504.7,1267.0 505.0,1268.1 505.4,1268.9 C505.8,1269.6 506.1,1270.5 506.5,1271.0 C506.8,1271.4 507.3,1271.4 507.6,1271.8 C508.1,1272.4 508.2,1273.9 508.7,1274.4 C509.0,1274.8 509.5,1274.7 509.8,1275.0 C510.3,1275.5 510.5,1276.9 510.9,1277.4 C511.2,1277.9 511.7,1277.9 512.0,1278.3 C512.5,1278.9 512.7,1280.1 513.1,1280.8 C513.4,1281.4 513.8,1281.7 514.2,1282.2 C514.6,1282.7 515.0,1283.2 515.3,1283.8 C515.7,1284.6 515.9,1285.9 516.4,1286.6 C516.7,1287.1 517.2,1287.1 517.5,1287.6 C518.0,1288.3 518.2,1289.7 518.6,1290.4 C518.9,1290.9 519.4,1291.1 519.7,1291.5 C520.1,1292.2 520.4,1293.6 520.8,1294.3 C521.1,1294.8 521.6,1294.9 521.9,1295.4 C522.3,1296.0 522.6,1297.0 523.0,1297.6 C523.3,1298.1 523.7,1298.7 524.1,1299.0 C524.5,1299.2 524.9,1299.1 525.2,1299.4 C525.7,1299.8 525.9,1300.9 526.4,1301.3 C526.7,1301.6 527.1,1301.4 527.5,1301.6 C527.9,1302.0 528.1,1303.3 528.6,1303.7 C528.9,1304.1 529.3,1304.2 529.7,1304.3 C530.1,1304.4 530.5,1304.2 530.8,1304.4 C531.2,1304.6 531.5,1305.4 531.9,1305.6 C532.2,1305.8 532.7,1305.5 533.0,1305.6 C533.4,1305.8 533.7,1306.8 534.1,1306.9 C534.4,1307.0 534.9,1306.6 535.2,1306.7 C535.6,1306.7 535.9,1307.3 536.3,1307.6 C536.7,1307.9 537.1,1308.5 537.5,1308.6 C537.9,1308.6 538.4,1308.1 538.7,1308.2 C539.2,1308.3 539.5,1309.1 540.0,1309.3 C540.3,1309.4 540.8,1309.1 541.2,1309.2 C541.6,1309.4 542.0,1310.5 542.4,1310.6 C542.8,1310.7 543.3,1310.1 543.6,1310.2 C544.1,1310.3 544.4,1311.4 544.9,1311.5 C545.2,1311.6 545.7,1310.9 546.1,1310.9 C546.5,1311.0 546.9,1311.8 547.3,1312.0 C547.7,1312.2 548.2,1312.2 548.5,1312.1 C549.0,1311.9 549.3,1310.9 549.8,1310.8 C550.2,1310.7 550.6,1311.4 551.0,1311.3 C551.4,1311.3 551.8,1310.3 552.2,1310.2 C552.6,1310.1 553.1,1310.8 553.5,1310.7 C553.9,1310.6 554.3,1309.5 554.7,1309.4 C555.1,1309.3 555.5,1310.1 555.9,1310.0 C556.4,1309.9 556.7,1308.9 557.2,1308.7 C557.5,1308.6 558.0,1308.6 558.4,1308.7 C558.8,1308.9 559.1,1309.7 559.5,1309.8 C559.8,1309.9 560.3,1309.2 560.6,1309.3 C561.0,1309.4 561.3,1310.6 561.7,1310.8 C562.0,1311.0 562.5,1310.7 562.8,1310.9 C563.2,1311.1 563.6,1311.7 563.9,1312.2 C564.3,1312.8 564.6,1313.9 565.0,1314.5 C565.3,1314.9 565.8,1314.9 566.1,1315.3 C566.6,1315.9 566.7,1317.3 567.2,1317.9 C567.5,1318.3 568.0,1318.3 568.3,1318.7 C568.7,1319.2 569.0,1320.4 569.4,1321.1 C569.7,1321.5 570.2,1321.8 570.5,1322.2 C570.9,1322.7 571.2,1323.5 571.6,1324.1 C572.0,1324.7 572.3,1325.4 572.7,1325.8 C573.0,1326.1 573.5,1326.0 573.8,1326.3 C574.3,1326.8 574.4,1328.1 574.9,1328.5 C575.2,1328.9 575.7,1328.8 576.0,1329.1 C576.5,1329.6 576.6,1330.9 577.1,1331.4 C577.4,1331.7 577.9,1331.7 578.2,1332.0 C578.7,1332.5 578.9,1333.6 579.3,1334.2 C579.6,1334.6 580.0,1334.9 580.4,1335.2 C580.8,1335.5 581.2,1335.5 581.5,1335.8 C581.9,1336.3 582.2,1337.3 582.6,1337.6 C583.0,1337.9 583.4,1337.8 583.7,1338.1 C584.2,1338.5 584.4,1339.8 584.8,1340.2 C585.2,1340.4 585.6,1340.2 586.0,1340.4 C586.4,1340.7 586.6,1341.9 587.1,1342.3 C587.4,1342.5 587.9,1342.3 588.2,1342.6 C588.6,1342.8 588.9,1343.6 589.3,1344.0 C589.7,1344.3 590.1,1344.6 590.5,1344.7 C590.9,1344.8 591.4,1344.4 591.7,1344.5 C592.2,1344.6 592.5,1345.3 593.0,1345.3 C593.4,1345.4 593.8,1344.8 594.2,1344.9 C594.6,1345.0 595.0,1346.3 595.4,1346.4 C595.8,1346.4 596.3,1345.6 596.6,1345.7 C597.1,1345.8 597.4,1347.0 597.9,1347.1 C598.2,1347.2 598.7,1346.3 599.1,1346.4 C599.5,1346.4 599.9,1347.3 600.3,1347.3 C600.7,1347.3 601.1,1347.1 601.4,1346.8 C601.8,1346.5 602.0,1345.5 602.5,1345.3 C602.8,1345.2 603.2,1345.6 603.5,1345.4 C604.0,1345.2 604.2,1344.1 604.6,1343.8 C604.9,1343.6 605.3,1343.5 605.7,1343.5 C606.1,1343.5 606.6,1343.9 606.9,1343.8 C607.4,1343.7 607.7,1342.5 608.2,1342.5 C608.6,1342.4 609.0,1343.3 609.4,1343.3 C609.8,1343.3 610.2,1342.3 610.7,1342.2 C611.0,1342.1 611.5,1342.7 611.9,1342.7 C612.3,1342.6 612.7,1341.5 613.1,1341.5 C613.5,1341.4 614.0,1342.2 614.4,1342.2 C614.8,1342.2 615.2,1341.4 615.6,1341.4 C616.0,1341.4 616.4,1342.0 616.7,1342.5 C617.2,1343.2 617.4,1344.5 617.9,1345.1 C618.2,1345.4 618.7,1345.4 619.0,1345.8 C619.5,1346.3 619.7,1347.6 620.2,1348.2 C620.5,1348.7 620.9,1349.0 621.3,1349.2 C621.7,1349.4 622.1,1349.3 622.5,1349.5 C622.9,1349.8 623.2,1350.9 623.6,1351.0 C624.0,1351.2 624.5,1350.6 624.8,1350.7 C625.3,1350.9 625.5,1352.3 626.0,1352.5 C626.3,1352.6 626.8,1352.3 627.1,1352.4 C627.6,1352.5 627.9,1353.0 628.3,1353.4 C628.7,1353.9 629.0,1354.7 629.4,1355.1 C629.8,1355.5 630.2,1355.5 630.6,1355.9 C631.0,1356.4 631.2,1357.7 631.7,1358.1 C632.1,1358.4 632.5,1358.2 632.9,1358.5 C633.3,1358.9 633.6,1359.9 634.0,1360.5 C634.4,1361.1 634.7,1361.9 635.1,1362.2 C635.5,1362.4 635.9,1362.2 636.3,1362.4 C636.7,1362.7 637.0,1364.0 637.4,1364.3 C637.8,1364.5 638.2,1364.3 638.6,1364.5 C639.0,1364.8 639.3,1365.6 639.7,1366.2 C640.1,1366.8 640.4,1367.7 640.9,1368.2 C641.2,1368.6 641.7,1368.7 642.1,1369.1 C642.5,1369.7 642.8,1370.8 643.2,1371.4 C643.6,1371.8 644.1,1372.0 644.4,1372.5 C644.9,1373.1 645.2,1374.2 645.6,1374.9 C646.0,1375.4 646.4,1375.9 646.8,1376.1 C647.2,1376.3 647.7,1376.0 648.0,1376.2 C648.5,1376.5 648.8,1377.6 649.3,1377.8 C649.6,1377.9 650.1,1377.5 650.5,1377.6 C651.0,1377.8 651.3,1379.0 651.8,1379.2 C652.1,1379.3 652.6,1378.7 653.0,1378.8 C653.4,1378.9 653.8,1379.9 654.2,1380.1 C654.6,1380.3 655.1,1380.1 655.5,1380.2 C655.9,1380.4 656.3,1380.8 656.7,1381.1 C657.1,1381.4 657.5,1382.0 657.9,1382.0 C658.3,1382.0 658.7,1381.1 659.1,1381.1 C659.6,1381.2 659.9,1382.5 660.3,1382.6 C660.7,1382.6 661.2,1381.8 661.6,1381.9 C662.0,1381.9 662.3,1382.8 662.8,1382.9 C663.2,1383.0 663.6,1382.6 664.0,1382.7 C664.4,1382.7 664.8,1383.0 665.2,1383.2 C665.6,1383.4 666.0,1383.7 666.4,1383.7 C666.8,1383.7 667.2,1383.2 667.6,1383.3 C668.1,1383.4 668.4,1384.4 668.8,1384.4 C669.2,1384.4 669.7,1383.4 670.1,1383.4 C670.5,1383.5 670.8,1384.6 671.3,1384.7 C671.7,1384.8 672.1,1384.1 672.5,1384.1 C672.9,1384.1 673.3,1384.4 673.7,1384.6 C674.1,1384.8 674.5,1385.1 674.9,1385.1 C675.3,1385.1 675.7,1384.6 676.1,1384.7 C676.6,1384.8 676.9,1385.7 677.3,1385.8 C677.7,1385.8 678.2,1385.1 678.6,1385.1 C679.0,1385.2 679.4,1386.1 679.8,1386.1 C680.2,1386.1 680.6,1385.3 681.0,1385.3 C681.4,1385.3 681.9,1385.6 682.2,1386.0 C682.6,1386.4 682.7,1387.5 683.1,1387.9 C683.4,1388.1 683.8,1388.0 684.1,1388.3 C684.5,1388.7 684.6,1389.8 685.0,1390.3 C685.3,1390.7 685.8,1391.2 686.2,1391.3 C686.6,1391.4 687.0,1391.1 687.4,1391.3 C687.8,1391.5 688.1,1392.4 688.5,1392.7 C688.9,1392.9 689.4,1392.7 689.7,1392.9 C690.2,1393.1 690.5,1393.7 690.9,1394.0 C691.3,1394.3 691.7,1394.4 692.1,1394.5 C692.5,1394.6 692.9,1394.6 693.2,1394.8 C693.6,1395.0 693.9,1395.8 694.3,1396.0 C694.7,1396.2 695.1,1395.9 695.4,1396.1 C695.9,1396.3 696.1,1397.4 696.6,1397.6 C696.9,1397.7 697.3,1397.1 697.7,1397.2 C698.1,1397.4 698.4,1398.5 698.8,1398.7 C699.1,1398.9 699.6,1399.1 699.9,1398.8 C701.9,1397.1 702.2,1375.7 703.4,1363.4 C704.8,1349.9 706.3,1332.1 707.7,1320.9 C708.6,1313.5 709.6,1309.4 710.5,1302.4 C711.6,1293.4 712.6,1271.3 713.4,1271.3 C714.2,1271.3 714.9,1291.3 715.5,1299.6 C715.9,1306.1 716.2,1311.0 716.5,1317.1 C716.9,1323.8 717.1,1337.9 717.6,1337.9 C717.9,1337.9 718.4,1332.4 718.8,1329.2 C719.3,1325.1 719.5,1319.6 720.0,1315.5 C720.4,1312.3 720.9,1306.7 721.2,1306.7 C721.7,1306.7 721.9,1320.2 722.2,1326.3 C722.6,1331.9 722.9,1342.1 723.3,1342.1 C723.6,1342.1 723.8,1336.3 724.2,1334.6 C724.5,1333.6 724.9,1333.4 725.2,1332.4 C725.6,1330.7 725.6,1325.2 726.1,1325.1 C726.4,1325.1 726.8,1326.1 727.1,1327.0 C727.5,1328.4 727.5,1331.9 728.0,1333.3 C728.3,1334.1 728.7,1334.4 729.0,1335.0 C729.3,1335.6 729.8,1336.0 730.0,1336.9 C730.6,1338.4 730.4,1342.4 731.1,1343.5 C731.4,1344.0 731.9,1343.8 732.2,1344.3 C732.7,1345.2 732.9,1347.5 733.2,1349.2 C733.5,1351.0 733.7,1353.4 734.1,1354.8 C734.4,1355.7 734.8,1356.0 735.1,1356.9 C735.5,1358.4 735.7,1361.1 736.0,1363.4 C736.3,1366.0 736.6,1369.4 737.0,1371.8 C737.3,1373.7 737.6,1374.9 737.9,1376.7 C738.3,1379.1 738.5,1382.4 738.9,1384.6 C739.2,1386.3 739.4,1388.2 740.0,1389.1 C740.2,1389.5 740.7,1389.4 741.0,1389.9 C741.6,1390.9 741.6,1394.7 742.0,1396.3 C742.4,1397.3 742.6,1398.4 743.1,1398.8 C743.4,1399.1 743.9,1398.7 744.2,1399.0 C744.8,1399.6 744.8,1403.2 745.2,1403.2 C745.6,1403.3 746.0,1401.2 746.3,1401.3 C746.7,1401.3 746.9,1404.1 747.4,1404.5 C747.7,1404.7 748.2,1404.8 748.5,1404.6 C749.0,1404.2 749.1,1401.2 749.5,1401.1 C749.8,1401.1 750.2,1402.6 750.5,1402.5 C750.9,1402.5 751.2,1400.8 751.6,1400.2 C751.9,1399.7 752.4,1399.1 752.7,1399.2 C753.2,1399.3 753.5,1401.5 753.9,1401.5 C754.3,1401.5 754.6,1398.6 755.0,1398.6 C755.4,1398.6 755.8,1401.0 756.2,1401.0 C756.5,1401.0 757.0,1399.6 757.3,1398.8 C757.7,1397.9 757.8,1396.4 758.2,1396.0 C758.5,1395.8 758.9,1396.1 759.2,1395.9 C759.6,1395.5 759.7,1393.9 760.1,1393.1 C760.4,1392.4 760.9,1391.1 761.3,1391.1 C761.8,1391.1 762.1,1394.5 762.5,1394.5 C762.9,1394.5 763.3,1391.5 763.7,1391.5 C764.1,1391.5 764.6,1393.7 765.0,1393.7 C765.4,1393.7 765.8,1390.8 766.2,1390.8 C766.6,1390.8 766.9,1393.5 767.4,1393.5 C767.8,1393.6 768.1,1392.5 768.6,1391.7 C769.6,1390.3 771.8,1387.4 772.9,1386.0 C773.5,1385.2 774.0,1385.1 774.4,1384.0 C775.3,1381.5 775.1,1370.0 775.5,1370.0 C775.9,1370.0 776.4,1383.0 776.8,1383.0 C777.2,1383.0 777.6,1369.0 778.0,1369.0 C778.4,1369.0 778.9,1382.0 779.3,1382.0 C779.7,1382.0 780.1,1368.0 780.6,1368.0 C781.0,1368.0 781.6,1378.0 782.0,1378.0 C782.7,1378.0 782.8,1346.0 783.2,1346.0 C783.6,1346.0 784.0,1368.0 784.4,1368.0 C784.8,1368.0 785.2,1345.0 785.6,1345.0 C786.0,1345.0 786.4,1366.0 786.8,1366.0 C787.2,1366.0 787.6,1344.0 788.0,1344.0 C788.4,1344.0 788.9,1360.0 789.2,1360.0 C789.7,1360.0 789.9,1318.0 790.3,1318.0 C790.7,1318.0 791.1,1362.0 791.5,1362.0 C791.9,1362.0 792.3,1316.0 792.7,1316.0 C793.1,1316.0 793.5,1358.0 793.9,1358.0 C794.3,1358.0 794.8,1331.2 795.2,1318.0 C795.6,1305.2 796.0,1292.5 796.4,1280.0 C796.8,1267.7 797.0,1243.4 797.5,1243.4 C798.1,1243.4 799.3,1273.7 800.0,1289.4 C800.7,1305.9 801.0,1329.0 801.6,1340.0 C801.9,1345.4 802.2,1347.8 802.5,1352.0 C802.8,1356.5 803.1,1366.0 803.4,1366.0 C803.7,1366.0 804.2,1352.0 804.5,1352.0 C804.9,1352.0 805.0,1364.2 805.6,1370.0 C806.2,1375.5 807.0,1380.2 808.2,1385.9 C809.7,1392.7 811.1,1407.1 814.1,1408.1 C815.8,1408.7 817.8,1404.5 820.1,1403.7 C822.7,1402.9 826.8,1405.1 829.0,1403.7 C831.3,1402.3 831.6,1397.3 833.4,1394.8 C835.1,1392.4 837.8,1391.6 839.4,1388.8 C841.7,1384.6 842.9,1376.8 843.8,1371.0 C844.7,1365.6 844.6,1360.3 845.0,1355.2 C845.3,1350.4 845.0,1342.6 846.1,1341.3 C846.4,1340.9 847.0,1341.4 847.3,1341.0 C848.0,1340.3 847.9,1335.3 848.5,1335.2 C848.8,1335.1 849.3,1336.8 849.6,1336.7 C850.2,1336.6 850.1,1331.8 850.8,1331.2 C851.1,1330.9 851.7,1330.8 852.0,1331.0 C852.7,1331.5 852.5,1335.6 853.1,1336.2 C853.4,1336.5 853.9,1336.1 854.2,1336.5 C855.0,1337.2 854.8,1341.4 855.4,1342.8 C855.7,1343.5 856.2,1344.4 856.5,1344.3 C857.0,1344.2 857.1,1340.8 857.6,1340.7 C857.9,1340.6 858.4,1342.1 858.7,1342.1 C859.2,1342.0 859.3,1338.8 859.8,1337.9 C860.1,1337.4 860.6,1336.8 860.9,1336.9 C862.0,1337.3 861.6,1349.5 862.0,1355.5 C862.4,1360.9 862.4,1370.9 863.1,1371.0 C863.4,1371.1 863.8,1368.4 864.2,1368.4 C864.6,1368.4 865.0,1370.7 865.4,1370.6 C865.8,1370.6 866.0,1367.4 866.5,1367.3 C866.8,1367.2 867.3,1368.2 867.6,1368.1 C868.1,1368.0 868.4,1366.6 868.7,1365.5 C869.2,1363.9 869.5,1361.7 869.8,1359.2 C870.3,1355.5 870.6,1349.6 871.0,1345.3 C871.4,1341.7 871.9,1338.8 872.3,1335.1 C872.7,1331.0 872.8,1322.1 873.5,1322.0 C874.2,1321.9 875.7,1328.8 876.5,1333.9 C878.0,1342.8 878.2,1361.1 879.5,1371.0 C880.3,1377.6 881.5,1384.2 882.4,1387.4 C882.8,1388.8 883.2,1389.2 883.5,1390.3 C884.0,1392.0 884.1,1394.9 884.6,1396.3 C885.0,1397.2 885.5,1397.4 885.8,1398.3 C886.3,1399.6 886.5,1402.1 886.9,1403.7 C887.3,1405.0 887.5,1406.7 888.1,1407.3 C888.4,1407.6 888.9,1407.3 889.3,1407.6 C889.9,1408.3 889.8,1411.8 890.4,1412.2 C890.8,1412.5 891.3,1411.9 891.6,1412.1 C892.2,1412.5 892.4,1414.5 892.8,1415.6 C893.2,1416.6 893.4,1418.2 894.0,1418.5 C894.3,1418.7 894.9,1418.2 895.2,1418.4 C895.9,1418.9 895.8,1423.0 896.4,1423.2 C896.7,1423.4 897.3,1422.4 897.6,1422.5 C898.2,1422.7 898.4,1425.0 898.8,1426.0 C899.2,1426.9 899.6,1428.3 900.0,1428.4 C900.4,1428.4 900.9,1426.7 901.3,1426.8 C901.8,1426.9 902.0,1430.1 902.5,1430.2 C902.9,1430.2 903.4,1428.8 903.7,1428.8 C904.2,1428.9 904.4,1431.6 905.0,1432.0 C905.3,1432.2 905.8,1432.1 906.2,1431.9 C906.6,1431.7 907.1,1430.7 907.4,1430.8 C907.9,1430.9 908.2,1433.4 908.7,1433.5 C909.0,1433.6 909.5,1432.3 909.9,1432.4 C910.4,1432.5 910.7,1434.6 911.1,1434.6 C911.5,1434.6 911.9,1432.8 912.4,1432.7 C912.8,1432.7 912.9,1433.6 913.6,1434.1 C915.2,1435.2 919.9,1436.3 922.5,1437.8 C924.8,1439.1 926.2,1441.3 928.5,1442.3 C931.1,1443.4 934.5,1443.1 937.4,1443.8 C940.4,1444.5 943.1,1446.0 946.3,1446.7 C949.9,1447.5 956.2,1447.4 958.1,1448.2 C958.8,1448.5 959.0,1449.2 959.3,1449.1 C959.8,1449.0 960.1,1446.9 960.6,1446.8 C961.0,1446.8 961.4,1448.6 961.8,1448.6 C962.2,1448.6 962.6,1447.0 963.1,1447.0 C963.5,1446.9 963.9,1448.2 964.3,1448.2 C964.8,1448.1 965.2,1446.1 965.5,1446.2 C966.0,1446.2 966.4,1448.7 966.8,1448.7 C967.2,1448.7 967.6,1446.0 968.0,1446.0 C968.4,1446.0 968.9,1447.7 969.3,1447.7 C969.7,1447.7 970.1,1445.5 970.5,1445.5 C970.9,1445.5 971.3,1448.1 971.8,1448.2 C972.1,1448.2 972.6,1447.1 973.0,1446.7 C973.4,1446.3 973.8,1445.6 974.2,1445.7 C974.7,1445.7 975.1,1447.2 975.5,1447.2 C975.9,1447.2 976.3,1445.3 976.7,1445.4 C977.1,1445.4 977.5,1447.8 977.9,1447.8 C978.3,1447.8 978.7,1445.6 979.2,1445.6 C979.6,1445.5 980.0,1447.2 980.4,1447.2 C980.8,1447.2 981.2,1445.5 981.6,1445.5 C982.0,1445.5 982.4,1447.2 982.9,1447.3 C983.3,1447.3 983.7,1445.7 984.1,1445.7 C984.5,1445.7 984.9,1447.4 985.3,1447.4 C985.7,1447.4 986.1,1445.9 986.6,1445.8 C987.0,1445.8 987.4,1446.5 987.8,1446.7 C988.2,1446.9 988.7,1447.1 989.0,1446.9 C989.6,1446.5 989.7,1443.2 990.2,1443.1 C990.5,1443.0 991.0,1444.5 991.4,1444.5 C991.9,1444.4 992.0,1441.7 992.6,1441.2 C992.9,1440.8 993.3,1441.2 993.8,1440.8 C995.4,1439.6 999.1,1434.2 1001.2,1428.6 C1004.9,1418.6 1006.9,1402.2 1008.7,1383.8 C1011.6,1354.9 1008.5,1286.7 1012.4,1271.5 C1013.5,1267.3 1015.1,1267.9 1016.2,1264.0 C1019.3,1252.9 1020.1,1222.0 1021.8,1196.7 C1024.0,1164.1 1025.9,1124.6 1027.4,1084.5 C1029.1,1038.2 1029.7,972.3 1031.2,934.8 C1032.1,912.2 1033.0,880.6 1034.1,880.6 C1035.2,880.6 1036.8,912.2 1037.9,934.8 C1039.8,972.3 1040.9,1038.2 1042.4,1084.5 C1043.7,1124.6 1044.4,1161.0 1046.1,1196.7 C1047.6,1229.3 1049.7,1261.2 1051.7,1290.2 C1053.5,1315.5 1053.6,1348.0 1057.3,1361.3 C1058.9,1366.9 1061.3,1372.7 1063.0,1372.5 C1065.1,1372.3 1066.9,1360.6 1068.6,1353.8 C1070.6,1345.8 1072.0,1327.8 1074.2,1327.6 C1075.9,1327.5 1078.2,1342.9 1079.8,1342.6 C1085.3,1341.7 1083.9,1144.3 1085.4,1144.3 C1086.5,1144.3 1087.0,1218.0 1088.0,1252.8 C1088.9,1285.1 1088.8,1322.2 1091.0,1346.3 C1092.4,1361.7 1094.9,1383.8 1096.6,1383.8 C1098.7,1383.7 1099.8,1345.2 1102.2,1327.6 C1104.3,1311.8 1107.5,1282.6 1109.7,1282.7 C1111.9,1282.8 1112.9,1331.2 1115.3,1331.4 C1116.9,1331.5 1119.5,1309.0 1120.9,1308.9 C1121.6,1308.9 1122.0,1311.2 1122.6,1313.6 C1124.3,1320.5 1125.6,1354.6 1127.7,1354.8 C1128.8,1354.9 1130.2,1348.8 1131.2,1344.5 C1132.7,1337.9 1133.4,1327.6 1134.6,1318.8 C1135.9,1309.4 1137.3,1289.6 1138.5,1289.6 C1139.9,1289.6 1141.0,1313.6 1142.3,1327.4 C1143.9,1344.0 1145.7,1382.3 1147.1,1382.3 C1148.5,1382.3 1149.3,1342.0 1150.9,1327.4 C1152.0,1317.7 1153.7,1303.3 1154.7,1303.3 C1155.9,1303.4 1156.1,1330.0 1156.9,1344.5 C1157.7,1360.7 1158.0,1380.6 1159.5,1396.0 C1160.8,1408.7 1161.6,1422.5 1164.6,1430.4 C1166.4,1435.1 1168.7,1439.8 1171.5,1440.7 C1174.0,1441.5 1177.9,1439.4 1180.1,1437.3 C1182.6,1435.0 1183.1,1429.3 1185.2,1426.9 C1186.7,1425.2 1188.9,1423.0 1190.4,1423.5 C1192.7,1424.3 1193.4,1433.8 1195.5,1437.3 C1197.0,1439.9 1198.9,1443.1 1200.7,1443.3 C1202.4,1443.4 1203.8,1439.8 1205.9,1439.0 C1208.3,1438.1 1212.2,1440.6 1214.4,1439.0 C1217.4,1436.8 1218.1,1430.1 1219.6,1423.5 C1222.0,1412.6 1223.3,1394.6 1224.7,1378.9 C1226.3,1361.5 1227.0,1323.9 1228.5,1323.9 C1229.7,1323.9 1231.1,1347.9 1232.5,1361.7 C1234.1,1378.3 1235.8,1416.5 1237.6,1416.6 C1238.7,1416.6 1240.0,1404.2 1241.1,1396.0 C1242.7,1384.0 1244.0,1351.4 1245.3,1351.4 C1246.6,1351.4 1247.3,1381.8 1248.8,1396.0 C1250.2,1409.1 1250.7,1427.0 1253.9,1433.8 C1255.3,1436.9 1257.3,1439.6 1259.1,1439.5 C1261.3,1439.4 1264.2,1434.1 1265.9,1429.9 C1268.4,1423.7 1268.4,1416.1 1269.4,1404.6 C1271.4,1380.6 1271.5,1326.8 1272.8,1293.0 C1273.9,1264.9 1275.1,1215.8 1276.3,1215.8 C1277.4,1215.8 1278.6,1265.4 1279.7,1293.0 C1280.9,1324.9 1281.9,1372.2 1283.1,1396.0 C1283.7,1408.7 1281.8,1422.7 1285.1,1425.1 C1286.6,1426.2 1289.8,1424.8 1291.5,1423.5 C1293.4,1421.9 1294.3,1415.4 1295.5,1415.6 C1297.6,1415.9 1299.3,1433.4 1301.0,1439.5 C1302.1,1443.4 1302.5,1448.6 1304.2,1449.1 C1305.6,1449.5 1308.4,1447.1 1309.8,1444.3 C1313.0,1438.0 1312.1,1421.7 1313.0,1407.6 C1314.2,1388.6 1314.5,1340.6 1315.4,1340.6 C1316.3,1340.6 1316.8,1389.4 1318.6,1407.6 C1319.8,1420.2 1319.6,1432.8 1323.4,1439.5 C1325.7,1443.7 1330.3,1447.6 1332.9,1447.5 C1334.8,1447.4 1336.5,1445.1 1337.7,1442.7 C1339.7,1438.6 1339.4,1430.5 1340.1,1423.5 C1341.0,1415.3 1341.6,1396.4 1342.5,1396.4 C1343.4,1396.4 1344.6,1414.7 1345.7,1423.5 C1346.7,1431.7 1346.0,1442.9 1348.9,1447.5 C1350.6,1450.3 1354.8,1452.2 1356.1,1452.2 C1356.6,1452.2 1356.8,1452.0 1357.1,1451.6 C1357.5,1451.1 1357.6,1449.4 1358.0,1449.1 C1358.3,1448.9 1358.7,1449.2 1359.0,1449.0 C1359.4,1448.8 1359.7,1448.3 1360.0,1447.5 C1360.7,1445.3 1360.7,1438.7 1361.1,1434.6 C1361.4,1430.9 1361.8,1427.8 1362.1,1424.0 C1362.5,1419.9 1362.8,1410.8 1363.2,1410.8 C1363.5,1410.8 1363.9,1418.2 1364.3,1422.2 C1364.6,1426.6 1365.0,1431.8 1365.3,1436.2 C1365.7,1440.2 1365.4,1446.3 1366.4,1447.5 C1366.7,1447.9 1367.2,1447.6 1367.5,1447.9 C1368.0,1448.3 1368.2,1450.0 1368.7,1450.1 C1369.0,1450.2 1369.5,1449.2 1369.8,1449.3 C1370.3,1449.5 1370.5,1451.7 1371.0,1451.9 C1371.3,1452.0 1371.8,1451.3 1372.1,1451.4 C1372.6,1451.5 1372.8,1453.0 1373.3,1453.4 C1373.6,1453.7 1374.0,1453.8 1374.4,1453.8 C1374.8,1453.8 1375.2,1453.2 1375.5,1453.2 C1375.9,1453.3 1376.3,1454.3 1376.7,1454.3 C1377.1,1454.2 1377.4,1452.2 1377.8,1452.2 C1378.2,1452.1 1378.6,1453.4 1379.0,1453.4 C1379.4,1453.4 1379.7,1451.8 1380.1,1451.8 C1380.5,1451.8 1380.9,1453.0 1381.3,1453.0 C1381.6,1453.1 1382.0,1452.4 1382.4,1452.2 C1382.8,1452.0 1383.2,1451.6 1383.5,1451.7 C1384.0,1451.8 1384.3,1453.5 1384.7,1453.6 C1385.0,1453.6 1385.5,1452.3 1385.8,1452.3 C1386.2,1452.3 1386.6,1453.8 1387.0,1453.9 C1387.3,1453.9 1387.7,1452.8 1388.1,1452.8 C1388.5,1452.9 1388.8,1454.1 1389.3,1454.3 C1389.6,1454.3 1390.0,1454.0 1390.4,1453.8 C1390.8,1453.5 1391.1,1452.9 1391.5,1452.8 C1391.9,1452.7 1392.3,1453.1 1392.7,1453.0 C1393.1,1452.8 1393.4,1451.3 1393.8,1451.2 C1394.1,1451.2 1394.6,1452.1 1394.9,1452.1 C1395.4,1452.0 1395.6,1450.1 1396.0,1450.0 C1396.4,1449.9 1396.8,1450.7 1397.2,1450.6 C1397.6,1450.5 1397.9,1449.3 1398.3,1449.1 C1398.7,1448.9 1399.1,1448.9 1399.5,1449.1 C1400.0,1449.3 1400.3,1450.8 1400.7,1450.9 C1401.1,1450.9 1401.5,1449.9 1401.9,1449.8 C1402.3,1449.8 1402.7,1450.8 1403.1,1450.7 C1403.5,1450.6 1403.9,1449.7 1404.3,1449.1 C1404.8,1448.3 1405.0,1446.8 1405.5,1446.2 C1405.8,1445.9 1406.4,1446.0 1406.7,1445.7 C1407.2,1445.1 1407.4,1443.4 1407.9,1442.7 C1408.3,1442.2 1408.7,1441.6 1409.1,1441.6 C1409.5,1441.6 1409.9,1443.1 1410.3,1443.0 C1410.7,1443.0 1411.0,1441.2 1411.5,1441.1 C1411.9,1441.0 1412.3,1442.0 1412.7,1441.9 C1413.1,1441.9 1413.5,1440.7 1413.9,1440.6 C1414.3,1440.6 1414.7,1441.6 1415.1,1441.5 C1415.6,1441.5 1415.8,1439.7 1416.3,1439.6 C1416.7,1439.5 1417.2,1440.5 1417.5,1440.3 C1418.4,1439.9 1418.3,1434.0 1418.7,1430.8 C1419.1,1427.4 1419.5,1420.3 1419.9,1420.3 C1420.3,1420.3 1420.7,1427.3 1421.1,1431.0 C1421.4,1434.8 1421.3,1442.3 1422.2,1442.7 C1422.5,1442.8 1423.0,1442.4 1423.3,1442.0 C1423.7,1441.4 1423.9,1439.8 1424.3,1439.1 C1424.6,1438.6 1425.0,1438.0 1425.4,1437.9 C1425.7,1437.8 1426.2,1438.3 1426.5,1438.2 C1427.0,1438.0 1427.2,1436.1 1427.7,1436.0 C1428.0,1435.9 1428.5,1436.7 1428.8,1436.6 C1429.3,1436.4 1429.5,1434.5 1430.0,1434.4 C1430.3,1434.3 1430.8,1435.5 1431.1,1435.4 C1431.5,1435.3 1431.8,1433.7 1432.3,1433.4 C1432.6,1433.1 1433.1,1433.4 1433.4,1433.1 C1433.9,1432.7 1434.2,1431.7 1434.5,1430.8 C1434.9,1429.6 1435.1,1427.5 1435.5,1426.2 C1435.9,1425.2 1436.3,1424.7 1436.6,1423.5 C1437.1,1421.3 1437.3,1417.1 1437.7,1413.7 C1438.0,1409.9 1438.4,1405.7 1438.7,1401.9 C1439.1,1398.3 1439.4,1396.6 1439.8,1391.6 C1440.9,1378.1 1442.3,1316.8 1443.8,1316.7 C1444.6,1316.7 1445.6,1327.7 1446.2,1335.8 C1447.3,1349.5 1447.8,1391.6 1447.8,1391.6" fill="none" stroke="#de0411" stroke-width="3.2" stroke-linejoin="round" stroke-linecap="round" opacity="0.93"/>
</g></svg></body></html>
